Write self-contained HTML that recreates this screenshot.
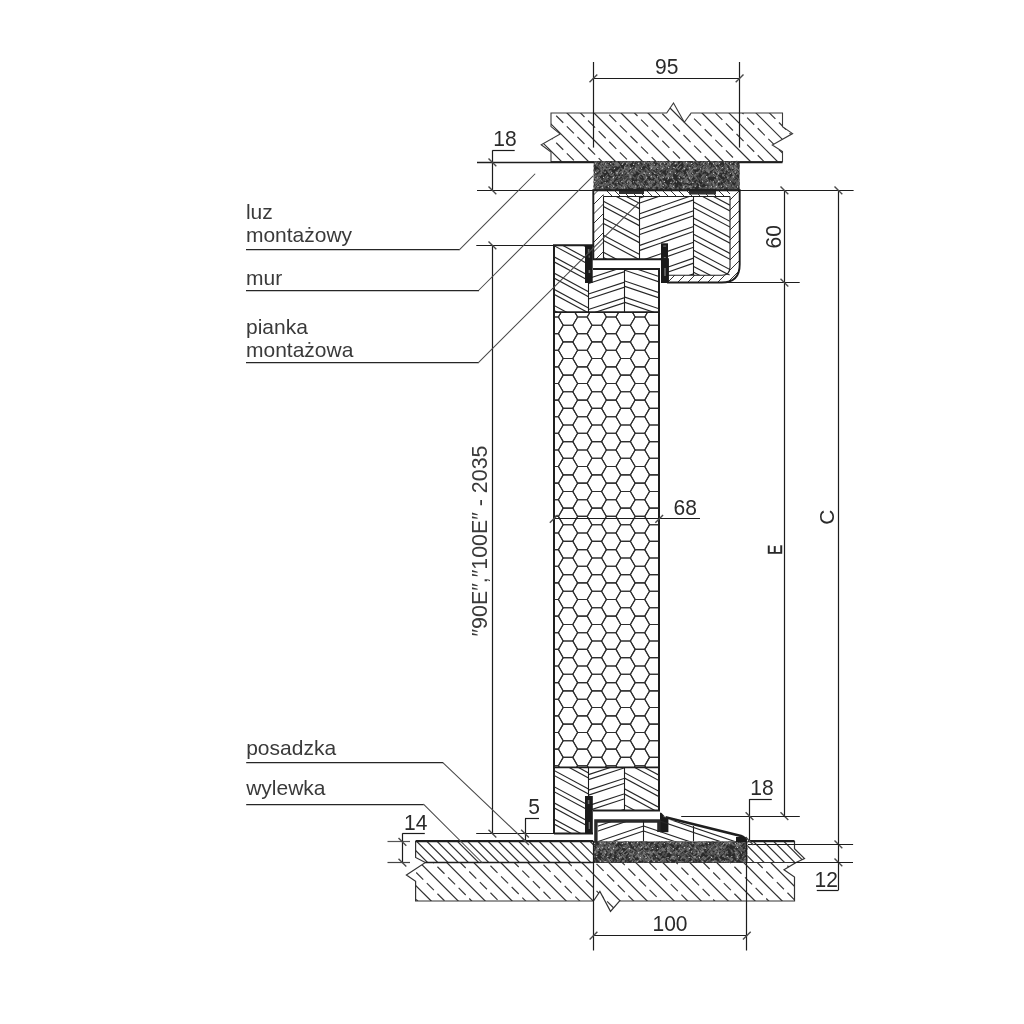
<!DOCTYPE html>
<html><head><meta charset="utf-8"><style>html,body{margin:0;padding:0;background:#fff;width:1024px;height:1024px;overflow:hidden;font-family:"Liberation Sans",sans-serif}</style></head><body><svg width="1024" height="1024" viewBox="0 0 1024 1024" style="display:block;font-family:'Liberation Sans',sans-serif;will-change:transform"><defs><clipPath id="c1"><polygon points="551,113 666.7,113 673.5,103 684.3,122.3 691.1,113 782.5,113 782.5,126.6 792.6,133.6 772.3,145 782.5,151.5 782.5,161.7 551,161.7 551,152 541.2,144.7 560.3,134 551,126.6"/></clipPath><clipPath id="c2"><polygon points="593.5,161.5 739.7,161.5 739.7,190.3 593.5,190.3"/></clipPath><clipPath id="c3"><polygon points="593.3,190.3 603.4,190.3 603.4,259.3 593.3,259.3"/></clipPath><clipPath id="c4"><polygon points="603.4,190.3 730,190.3 730,196.4 603.4,196.4"/></clipPath><clipPath id="c5"><polygon points="730,190.3 739.7,190.3 739.7,282.5 730,282.5"/></clipPath><clipPath id="c6"><polygon points="668,275.2 730,275.2 730,282.5 668,282.5"/></clipPath><clipPath id="c7"><polygon points="603.4,196.4 639.8,196.4 639.8,259.3 603.4,259.3"/></clipPath><clipPath id="c8"><polygon points="639.8,196.4 661,196.4 661,259.3 639.8,259.3"/></clipPath><clipPath id="c9"><polygon points="661,196.4 693.6,196.4 693.6,275.2 661,275.2"/></clipPath><clipPath id="c10"><polygon points="693.6,196.4 730,196.4 730,275.2 693.6,275.2"/></clipPath><clipPath id="c11"><polygon points="554,245.3 588.5,245.3 588.5,312.1 554,312.1"/></clipPath><clipPath id="c12"><polygon points="588.5,269 624,269 624,312.1 588.5,312.1"/></clipPath><clipPath id="c13"><polygon points="624,269 659,269 659,312.1 624,312.1"/></clipPath><clipPath id="c14"><polygon points="554,312.1 659,312.1 659,767.3 554,767.3"/></clipPath><clipPath id="c15"><polygon points="554,767.3 588.5,767.3 588.5,833.4 554,833.4"/></clipPath><clipPath id="c16"><polygon points="588.5,767.3 624,767.3 624,810.6 588.5,810.6"/></clipPath><clipPath id="c17"><polygon points="624,767.3 659,767.3 659,810.6 624,810.6"/></clipPath><clipPath id="c18"><polygon points="415.6,841.1 593.3,841.1 593.3,862.5 425.3,862.5 415.6,857.5"/></clipPath><clipPath id="c19"><polygon points="747.4,841.1 794.5,841.1 794.5,848.7 804.5,858.6 796,862.5 747.4,862.5"/></clipPath><clipPath id="c20"><polygon points="425.3,862.5 796,862.5 784,869.8 794.5,877 794.5,901 619.5,901 610.5,911.4 599.9,891.5 593.5,901 415.6,901 415.6,881.3 406.4,875"/></clipPath><clipPath id="c21"><polygon points="593.3,841.3 747.4,841.3 747.4,862.3 593.3,862.3"/></clipPath><clipPath id="c22"><polygon points="597.5,820.4 643.6,820.4 643.6,841.3 597.5,841.3"/></clipPath><clipPath id="c23"><polygon points="643.6,820.4 745,820.4 745,841.3 643.6,841.3"/></clipPath></defs><rect width="1024" height="1024" fill="#fff"/><g clip-path="url(#c1)" stroke="#2e2e2e" stroke-width="1.2"><line x1="535" y1="-189" x2="800" y2="76"/><line x1="535" y1="-162" x2="800" y2="103"/><line x1="535" y1="-135" x2="800" y2="130"/><line x1="535" y1="-108" x2="800" y2="157"/><line x1="535" y1="-81" x2="800" y2="184"/><line x1="535" y1="-54" x2="800" y2="211"/><line x1="535" y1="-27" x2="800" y2="238"/><line x1="535" y1="0" x2="800" y2="265"/><line x1="535" y1="27" x2="800" y2="292"/><line x1="535" y1="54" x2="800" y2="319"/><line x1="535" y1="81" x2="800" y2="346"/><line x1="535" y1="108" x2="800" y2="373"/><line x1="535" y1="135" x2="800" y2="400"/><line x1="535" y1="162" x2="800" y2="427"/><line x1="535" y1="189" x2="800" y2="454"/></g><g clip-path="url(#c1)" stroke="#3a3a3a" stroke-width="1.2" stroke-dasharray="10 5"><line x1="535" y1="-202.5" x2="800" y2="62.5"/><line x1="535" y1="-175.5" x2="800" y2="89.5"/><line x1="535" y1="-148.5" x2="800" y2="116.5"/><line x1="535" y1="-121.5" x2="800" y2="143.5"/><line x1="535" y1="-94.5" x2="800" y2="170.5"/><line x1="535" y1="-67.5" x2="800" y2="197.5"/><line x1="535" y1="-40.5" x2="800" y2="224.5"/><line x1="535" y1="-13.5" x2="800" y2="251.5"/><line x1="535" y1="13.5" x2="800" y2="278.5"/><line x1="535" y1="40.5" x2="800" y2="305.5"/><line x1="535" y1="67.5" x2="800" y2="332.5"/><line x1="535" y1="94.5" x2="800" y2="359.5"/><line x1="535" y1="121.5" x2="800" y2="386.5"/><line x1="535" y1="148.5" x2="800" y2="413.5"/><line x1="535" y1="175.5" x2="800" y2="440.5"/><line x1="535" y1="202.5" x2="800" y2="467.5"/></g><polygon points="551,113 666.7,113 673.5,103 684.3,122.3 691.1,113 782.5,113 782.5,126.6 792.6,133.6 772.3,145 782.5,151.5 782.5,161.7 551,161.7 551,152 541.2,144.7 560.3,134 551,126.6" fill="none" stroke="#3a3a3a" stroke-width="1.1" /><line x1="477" y1="162.5" x2="551" y2="162.5" stroke="#1e1e1e" stroke-width="1.3" /><line x1="551" y1="162.3" x2="782.5" y2="162.3" stroke="#1e1e1e" stroke-width="2.0" /><g clip-path="url(#c2)"><rect x="593.5" y="161.5" width="146.2" height="28.8" fill="#2a2a2a"/><g stroke-width="1.1" stroke-linecap="round"><line x1="639.18" y1="163.49" x2="641.1" y2="165.41" stroke="#5a5a5a"/><line x1="645.52" y1="160.5" x2="647.33" y2="162.31" stroke="#5a5a5a"/><line x1="655.9" y1="162.53" x2="657.37" y2="161.05" stroke="#5a5a5a"/><line x1="714.9" y1="162.77" x2="716.48" y2="164.35" stroke="#7a7a7a"/><line x1="598.03" y1="165.83" x2="599.87" y2="167.67" stroke="#4c4c4c"/><line x1="653.53" y1="176.31" x2="655.38" y2="178.16" stroke="#5a5a5a"/><line x1="678.01" y1="179.61" x2="679.71" y2="181.31" stroke="#5a5a5a"/><line x1="683.56" y1="176.7" x2="685.39" y2="174.87" stroke="#7a7a7a"/><line x1="678.63" y1="173.54" x2="680.27" y2="175.18" stroke="#6a6a6a"/><line x1="602.9" y1="170.25" x2="604.69" y2="168.45" stroke="#7a7a7a"/><line x1="634" y1="192.4" x2="635.5" y2="190.9" stroke="#6a6a6a"/><line x1="704.33" y1="163.59" x2="706.12" y2="165.38" stroke="#5a5a5a"/><line x1="705.29" y1="179.35" x2="707.39" y2="177.25" stroke="#4c4c4c"/><line x1="695" y1="179.93" x2="696.87" y2="178.06" stroke="#5a5a5a"/><line x1="716.77" y1="189.6" x2="718.55" y2="191.38" stroke="#5a5a5a"/><line x1="700.39" y1="170.59" x2="702.25" y2="168.72" stroke="#4c4c4c"/><line x1="698.3" y1="189.43" x2="699.98" y2="187.76" stroke="#4c4c4c"/><line x1="616.02" y1="164.06" x2="617.46" y2="162.62" stroke="#6a6a6a"/><line x1="701.34" y1="173.62" x2="703.47" y2="171.48" stroke="#5a5a5a"/><line x1="615.68" y1="171.86" x2="617.3" y2="173.49" stroke="#7a7a7a"/><line x1="720.4" y1="169.5" x2="722.14" y2="167.77" stroke="#7a7a7a"/><line x1="734.58" y1="163.68" x2="736.12" y2="165.22" stroke="#6a6a6a"/><line x1="592.54" y1="187.53" x2="594.08" y2="185.99" stroke="#5a5a5a"/><line x1="612.44" y1="177.98" x2="614.32" y2="176.09" stroke="#6a6a6a"/><line x1="694.27" y1="175.46" x2="696.16" y2="177.36" stroke="#7a7a7a"/><line x1="725.56" y1="186.13" x2="727.66" y2="184.03" stroke="#7a7a7a"/><line x1="650.47" y1="161.94" x2="652.38" y2="163.85" stroke="#6a6a6a"/><line x1="600.85" y1="167.11" x2="602.38" y2="165.58" stroke="#5a5a5a"/><line x1="605.96" y1="179.01" x2="607.79" y2="177.18" stroke="#5a5a5a"/><line x1="601.21" y1="167.17" x2="602.91" y2="165.47" stroke="#4c4c4c"/><line x1="681.22" y1="175.8" x2="682.71" y2="174.31" stroke="#7a7a7a"/><line x1="662.9" y1="170.49" x2="664.41" y2="168.97" stroke="#4c4c4c"/><line x1="662.48" y1="181.29" x2="664.3" y2="183.11" stroke="#4c4c4c"/><line x1="612.81" y1="178.03" x2="614.23" y2="176.61" stroke="#5a5a5a"/><line x1="695.22" y1="167.22" x2="696.92" y2="168.91" stroke="#4c4c4c"/><line x1="706.43" y1="177.98" x2="708.46" y2="175.96" stroke="#6a6a6a"/><line x1="682.6" y1="184.36" x2="684.61" y2="186.36" stroke="#6a6a6a"/><line x1="713.62" y1="184.56" x2="715.2" y2="182.98" stroke="#4c4c4c"/><line x1="700.28" y1="192.98" x2="702.31" y2="190.94" stroke="#4c4c4c"/><line x1="619.75" y1="180.19" x2="621.42" y2="178.51" stroke="#4c4c4c"/><line x1="602.71" y1="163.74" x2="604.48" y2="161.96" stroke="#6a6a6a"/><line x1="663.05" y1="190.87" x2="664.94" y2="192.76" stroke="#7a7a7a"/><line x1="727.1" y1="169.83" x2="729.02" y2="171.74" stroke="#7a7a7a"/><line x1="708.11" y1="183.21" x2="709.89" y2="185" stroke="#7a7a7a"/><line x1="709.01" y1="171.43" x2="711.05" y2="169.39" stroke="#7a7a7a"/><line x1="650.8" y1="189.57" x2="652.78" y2="191.54" stroke="#6a6a6a"/><line x1="594.75" y1="177.99" x2="596.52" y2="179.76" stroke="#7a7a7a"/><line x1="689.3" y1="170.07" x2="691.14" y2="171.91" stroke="#5a5a5a"/><line x1="592.68" y1="190.39" x2="594.6" y2="192.31" stroke="#7a7a7a"/><line x1="738.63" y1="164.84" x2="740.73" y2="166.94" stroke="#4c4c4c"/><line x1="622.45" y1="176.94" x2="624.46" y2="174.93" stroke="#4c4c4c"/><line x1="672.54" y1="187.59" x2="673.99" y2="186.14" stroke="#7a7a7a"/><line x1="690.1" y1="185.33" x2="691.91" y2="187.14" stroke="#6a6a6a"/><line x1="669.25" y1="159.24" x2="671.01" y2="160.99" stroke="#5a5a5a"/><line x1="707.3" y1="163.66" x2="708.82" y2="165.17" stroke="#5a5a5a"/><line x1="639.54" y1="175.58" x2="641.38" y2="177.42" stroke="#5a5a5a"/><line x1="627.81" y1="169.59" x2="629.83" y2="167.57" stroke="#5a5a5a"/><line x1="704.77" y1="188.55" x2="706.53" y2="190.31" stroke="#4c4c4c"/><line x1="658.55" y1="176.1" x2="660.33" y2="177.88" stroke="#4c4c4c"/><line x1="729.32" y1="189.56" x2="730.88" y2="188" stroke="#6a6a6a"/><line x1="653.25" y1="171.54" x2="654.91" y2="173.2" stroke="#7a7a7a"/><line x1="601.47" y1="180.45" x2="603.5" y2="182.47" stroke="#4c4c4c"/><line x1="611.89" y1="187.37" x2="614.06" y2="189.54" stroke="#5a5a5a"/><line x1="650.22" y1="174.39" x2="652.41" y2="176.58" stroke="#6a6a6a"/><line x1="696.73" y1="192.97" x2="698.45" y2="191.24" stroke="#6a6a6a"/><line x1="644.22" y1="163.37" x2="645.91" y2="161.68" stroke="#7a7a7a"/><line x1="656.82" y1="160.93" x2="658.49" y2="159.26" stroke="#5a5a5a"/><line x1="607.66" y1="188.84" x2="609.24" y2="190.42" stroke="#5a5a5a"/><line x1="630.38" y1="161.81" x2="632.4" y2="159.79" stroke="#6a6a6a"/><line x1="713.66" y1="188.34" x2="715.6" y2="186.4" stroke="#7a7a7a"/><line x1="613.01" y1="190.58" x2="614.86" y2="188.72" stroke="#5a5a5a"/><line x1="632.64" y1="184.95" x2="634.19" y2="186.5" stroke="#4c4c4c"/><line x1="731.42" y1="179.29" x2="733.46" y2="181.33" stroke="#6a6a6a"/><line x1="600.63" y1="188.68" x2="602.39" y2="186.92" stroke="#7a7a7a"/><line x1="729.93" y1="167.53" x2="731.44" y2="169.04" stroke="#5a5a5a"/><line x1="736.3" y1="168.86" x2="737.85" y2="167.32" stroke="#4c4c4c"/><line x1="670.39" y1="165.37" x2="672.15" y2="167.13" stroke="#4c4c4c"/><line x1="642.82" y1="159.3" x2="644.42" y2="160.9" stroke="#5a5a5a"/><line x1="700.83" y1="178.35" x2="702.38" y2="176.8" stroke="#6a6a6a"/><line x1="730.86" y1="164.01" x2="732.91" y2="161.96" stroke="#7a7a7a"/><line x1="672.41" y1="189.74" x2="674.58" y2="187.56" stroke="#6a6a6a"/><line x1="738.03" y1="169.71" x2="740.1" y2="171.77" stroke="#7a7a7a"/><line x1="739.08" y1="190.67" x2="741.15" y2="192.74" stroke="#5a5a5a"/><line x1="684.57" y1="187.49" x2="686.31" y2="189.23" stroke="#5a5a5a"/><line x1="690.51" y1="172.9" x2="692.32" y2="171.09" stroke="#6a6a6a"/><line x1="694.77" y1="161.76" x2="696.32" y2="160.21" stroke="#7a7a7a"/><line x1="591.21" y1="172.28" x2="592.88" y2="170.61" stroke="#6a6a6a"/><line x1="595.89" y1="187.66" x2="597.46" y2="189.23" stroke="#5a5a5a"/><line x1="641.06" y1="161.44" x2="642.68" y2="163.06" stroke="#6a6a6a"/><line x1="666.51" y1="158.86" x2="668.12" y2="160.47" stroke="#6a6a6a"/><line x1="650.8" y1="161.58" x2="652.22" y2="160.16" stroke="#6a6a6a"/><line x1="603.15" y1="189.87" x2="605.23" y2="191.95" stroke="#7a7a7a"/><line x1="705.4" y1="184.04" x2="707.2" y2="182.24" stroke="#6a6a6a"/><line x1="597.02" y1="187.95" x2="599.13" y2="185.84" stroke="#6a6a6a"/><line x1="727.24" y1="183.27" x2="729.09" y2="185.12" stroke="#6a6a6a"/><line x1="603.33" y1="159.92" x2="605.24" y2="161.83" stroke="#7a7a7a"/><line x1="716.09" y1="176.87" x2="717.99" y2="178.77" stroke="#7a7a7a"/><line x1="630.39" y1="173.76" x2="631.85" y2="175.22" stroke="#5a5a5a"/><line x1="702.48" y1="176.07" x2="704.53" y2="174.02" stroke="#6a6a6a"/><line x1="700.05" y1="167.23" x2="702.04" y2="165.24" stroke="#7a7a7a"/><line x1="717.43" y1="163.08" x2="719.56" y2="160.95" stroke="#5a5a5a"/><line x1="683.44" y1="179.85" x2="684.9" y2="181.31" stroke="#4c4c4c"/><line x1="628.82" y1="183.06" x2="630.46" y2="184.7" stroke="#5a5a5a"/><line x1="662.87" y1="174.35" x2="665.05" y2="176.52" stroke="#6a6a6a"/><line x1="692.08" y1="169.95" x2="693.9" y2="168.13" stroke="#7a7a7a"/><line x1="660.49" y1="162.33" x2="662.6" y2="164.44" stroke="#4c4c4c"/><line x1="737.71" y1="190.92" x2="739.12" y2="189.5" stroke="#5a5a5a"/><line x1="713.77" y1="192.13" x2="715.53" y2="190.37" stroke="#7a7a7a"/><line x1="622.23" y1="189.73" x2="623.8" y2="191.3" stroke="#6a6a6a"/><line x1="702.93" y1="168.93" x2="704.62" y2="167.24" stroke="#5a5a5a"/><line x1="696.08" y1="168.15" x2="698.2" y2="166.03" stroke="#7a7a7a"/><line x1="594.33" y1="160.51" x2="596.13" y2="158.72" stroke="#7a7a7a"/><line x1="636.02" y1="164.95" x2="637.69" y2="163.28" stroke="#5a5a5a"/><line x1="716.7" y1="160.56" x2="718.7" y2="158.56" stroke="#5a5a5a"/><line x1="731.97" y1="166.62" x2="733.37" y2="165.22" stroke="#4c4c4c"/><line x1="646.31" y1="171.29" x2="648.51" y2="173.49" stroke="#4c4c4c"/><line x1="729.46" y1="185.33" x2="731.54" y2="183.24" stroke="#5a5a5a"/><line x1="598.3" y1="180.26" x2="600.21" y2="182.17" stroke="#6a6a6a"/><line x1="736.52" y1="174.63" x2="738.18" y2="172.98" stroke="#7a7a7a"/><line x1="723.36" y1="185.18" x2="725.27" y2="187.08" stroke="#5a5a5a"/><line x1="598.05" y1="182.64" x2="599.81" y2="184.4" stroke="#4c4c4c"/><line x1="663.51" y1="188.49" x2="665.35" y2="190.33" stroke="#7a7a7a"/><line x1="653.01" y1="169.54" x2="654.62" y2="167.94" stroke="#7a7a7a"/><line x1="689.11" y1="170.29" x2="690.95" y2="168.44" stroke="#5a5a5a"/><line x1="615.85" y1="165.59" x2="617.42" y2="164.02" stroke="#6a6a6a"/><line x1="658.53" y1="171.42" x2="660.54" y2="169.41" stroke="#6a6a6a"/><line x1="673.01" y1="166.74" x2="674.55" y2="168.28" stroke="#4c4c4c"/><line x1="626.49" y1="167.05" x2="628.34" y2="168.9" stroke="#7a7a7a"/><line x1="648.22" y1="184.75" x2="649.79" y2="183.18" stroke="#4c4c4c"/><line x1="703.54" y1="176.77" x2="705.4" y2="174.91" stroke="#6a6a6a"/><line x1="693.63" y1="175.84" x2="695.67" y2="177.87" stroke="#5a5a5a"/><line x1="631.35" y1="168.51" x2="633.07" y2="166.79" stroke="#7a7a7a"/><line x1="733.73" y1="186.29" x2="735.83" y2="188.39" stroke="#6a6a6a"/><line x1="595.28" y1="183.83" x2="597.4" y2="181.71" stroke="#7a7a7a"/><line x1="590.46" y1="173.41" x2="592.6" y2="171.27" stroke="#7a7a7a"/><line x1="628.06" y1="162.31" x2="629.58" y2="163.84" stroke="#7a7a7a"/><line x1="603.57" y1="184.28" x2="604.97" y2="185.68" stroke="#6a6a6a"/><line x1="676.04" y1="159.75" x2="678.01" y2="161.72" stroke="#4c4c4c"/><line x1="669.84" y1="172.84" x2="671.85" y2="174.85" stroke="#5a5a5a"/><line x1="635.84" y1="191.22" x2="637.39" y2="189.67" stroke="#6a6a6a"/><line x1="709.32" y1="160.45" x2="711.15" y2="158.62" stroke="#4c4c4c"/><line x1="734.48" y1="181.7" x2="736.59" y2="179.59" stroke="#6a6a6a"/><line x1="672.8" y1="161.33" x2="674.52" y2="159.6" stroke="#5a5a5a"/><line x1="593.8" y1="176.81" x2="595.74" y2="174.87" stroke="#5a5a5a"/><line x1="629.07" y1="180.32" x2="631.21" y2="182.46" stroke="#7a7a7a"/><line x1="595.75" y1="171.46" x2="597.49" y2="169.72" stroke="#6a6a6a"/><line x1="591.48" y1="168.04" x2="593.55" y2="170.12" stroke="#6a6a6a"/><line x1="664.95" y1="165.07" x2="666.96" y2="167.08" stroke="#6a6a6a"/><line x1="660.3" y1="167.14" x2="662.42" y2="169.25" stroke="#7a7a7a"/><line x1="682.24" y1="188.01" x2="684.03" y2="189.8" stroke="#6a6a6a"/><line x1="729.26" y1="160.57" x2="730.68" y2="161.99" stroke="#7a7a7a"/><line x1="598.43" y1="162.33" x2="600.14" y2="160.62" stroke="#5a5a5a"/><line x1="740.5" y1="189.22" x2="742.16" y2="190.89" stroke="#7a7a7a"/><line x1="595.44" y1="182.14" x2="597.14" y2="180.44" stroke="#4c4c4c"/><line x1="657.22" y1="162.34" x2="658.69" y2="163.81" stroke="#4c4c4c"/><line x1="653.69" y1="187.61" x2="655.54" y2="189.46" stroke="#7a7a7a"/><line x1="644.04" y1="187.48" x2="646.09" y2="185.42" stroke="#5a5a5a"/><line x1="598.05" y1="175.88" x2="599.75" y2="174.18" stroke="#6a6a6a"/><line x1="639.17" y1="184.57" x2="640.95" y2="182.79" stroke="#6a6a6a"/><line x1="712.72" y1="183.93" x2="714.15" y2="185.36" stroke="#7a7a7a"/><line x1="600.1" y1="188.88" x2="601.7" y2="190.48" stroke="#4c4c4c"/><line x1="644.94" y1="169.41" x2="647.1" y2="171.57" stroke="#4c4c4c"/><line x1="702.55" y1="183.19" x2="704.68" y2="181.05" stroke="#5a5a5a"/><line x1="698.86" y1="178.01" x2="700.9" y2="180.06" stroke="#5a5a5a"/><line x1="714.58" y1="164" x2="716.55" y2="162.03" stroke="#7a7a7a"/><line x1="709.1" y1="188.44" x2="711.15" y2="190.49" stroke="#7a7a7a"/><line x1="617.98" y1="184.83" x2="619.97" y2="186.82" stroke="#6a6a6a"/><line x1="639.89" y1="169.14" x2="641.58" y2="170.83" stroke="#6a6a6a"/><line x1="649.47" y1="163.88" x2="651.19" y2="165.61" stroke="#7a7a7a"/><line x1="673.41" y1="169.09" x2="675.59" y2="171.28" stroke="#5a5a5a"/><line x1="630.55" y1="163" x2="632.03" y2="161.52" stroke="#7a7a7a"/><line x1="616.63" y1="162.98" x2="618.4" y2="164.74" stroke="#5a5a5a"/><line x1="707.81" y1="169.95" x2="709.43" y2="168.33" stroke="#4c4c4c"/><line x1="628.78" y1="167.16" x2="630.54" y2="168.91" stroke="#6a6a6a"/><line x1="625.81" y1="167.67" x2="627.94" y2="169.79" stroke="#4c4c4c"/><line x1="600.44" y1="166.96" x2="602.03" y2="168.55" stroke="#5a5a5a"/><line x1="688.89" y1="192.74" x2="690.37" y2="191.26" stroke="#6a6a6a"/><line x1="717.04" y1="190.21" x2="718.47" y2="188.78" stroke="#6a6a6a"/><line x1="608.32" y1="164.63" x2="610.5" y2="166.81" stroke="#5a5a5a"/><line x1="646.53" y1="188.79" x2="648.29" y2="187.03" stroke="#5a5a5a"/><line x1="606.44" y1="178.11" x2="608.34" y2="180" stroke="#5a5a5a"/><line x1="646.1" y1="164.92" x2="647.66" y2="163.36" stroke="#5a5a5a"/><line x1="680.75" y1="180.09" x2="682.31" y2="181.66" stroke="#4c4c4c"/><line x1="651.98" y1="170.75" x2="653.88" y2="172.64" stroke="#6a6a6a"/><line x1="595.33" y1="176.65" x2="597.12" y2="174.86" stroke="#5a5a5a"/><line x1="710.27" y1="180.52" x2="711.8" y2="182.04" stroke="#6a6a6a"/><line x1="650.15" y1="169.49" x2="652.34" y2="167.3" stroke="#7a7a7a"/><line x1="733.74" y1="170.67" x2="735.6" y2="168.82" stroke="#7a7a7a"/><line x1="652.95" y1="188.95" x2="655.15" y2="186.75" stroke="#6a6a6a"/><line x1="649.11" y1="173.86" x2="651.26" y2="171.71" stroke="#6a6a6a"/><line x1="654.29" y1="187.27" x2="656.01" y2="185.55" stroke="#7a7a7a"/><line x1="706.89" y1="163.04" x2="708.33" y2="164.48" stroke="#7a7a7a"/><line x1="604.02" y1="179.06" x2="605.72" y2="180.76" stroke="#6a6a6a"/><line x1="642.99" y1="164.04" x2="644.53" y2="165.58" stroke="#5a5a5a"/><line x1="648.12" y1="183.2" x2="650.15" y2="185.23" stroke="#4c4c4c"/><line x1="609.43" y1="191.52" x2="611.61" y2="189.34" stroke="#4c4c4c"/><line x1="598.66" y1="189.02" x2="600.37" y2="190.73" stroke="#6a6a6a"/><line x1="684" y1="180.44" x2="685.56" y2="178.88" stroke="#6a6a6a"/><line x1="675.35" y1="159.79" x2="677.5" y2="161.94" stroke="#7a7a7a"/><line x1="644.36" y1="163.31" x2="646.54" y2="165.49" stroke="#5a5a5a"/><line x1="723.29" y1="188.1" x2="725.23" y2="186.16" stroke="#5a5a5a"/><line x1="649.01" y1="175.49" x2="651.09" y2="173.41" stroke="#7a7a7a"/><line x1="636.94" y1="168.53" x2="638.65" y2="166.82" stroke="#7a7a7a"/><line x1="666.44" y1="166.06" x2="667.84" y2="164.66" stroke="#7a7a7a"/><line x1="625.82" y1="185.56" x2="627.85" y2="183.53" stroke="#6a6a6a"/><line x1="712.51" y1="173.36" x2="713.97" y2="171.9" stroke="#7a7a7a"/><line x1="645.47" y1="184.91" x2="647.27" y2="186.72" stroke="#5a5a5a"/><line x1="686.1" y1="161.2" x2="688.09" y2="163.19" stroke="#5a5a5a"/><line x1="703.5" y1="187.89" x2="705.42" y2="189.81" stroke="#5a5a5a"/><line x1="719.24" y1="191.18" x2="721.22" y2="193.17" stroke="#6a6a6a"/><line x1="610.45" y1="187.74" x2="612.08" y2="189.37" stroke="#6a6a6a"/><line x1="600.34" y1="170.01" x2="602.34" y2="172.01" stroke="#4c4c4c"/><line x1="725.13" y1="167.49" x2="727.19" y2="169.55" stroke="#4c4c4c"/><line x1="666.15" y1="190.46" x2="667.72" y2="188.89" stroke="#6a6a6a"/><line x1="638.65" y1="159.94" x2="640.2" y2="161.48" stroke="#4c4c4c"/><line x1="692.82" y1="189.64" x2="694.36" y2="188.1" stroke="#5a5a5a"/><line x1="705.85" y1="162.14" x2="707.94" y2="160.05" stroke="#5a5a5a"/><line x1="628.31" y1="178.11" x2="630.4" y2="176.03" stroke="#4c4c4c"/><line x1="647.18" y1="172.36" x2="648.69" y2="170.84" stroke="#5a5a5a"/><line x1="656.93" y1="164.3" x2="658.93" y2="166.3" stroke="#4c4c4c"/><line x1="713.68" y1="168.78" x2="715.59" y2="166.86" stroke="#5a5a5a"/><line x1="702.9" y1="167.59" x2="704.53" y2="165.95" stroke="#7a7a7a"/><line x1="667.75" y1="188.12" x2="669.26" y2="189.63" stroke="#5a5a5a"/><line x1="594.01" y1="158.74" x2="595.69" y2="160.43" stroke="#4c4c4c"/><line x1="670.9" y1="172.23" x2="672.54" y2="173.87" stroke="#6a6a6a"/><line x1="645.74" y1="185.91" x2="647.27" y2="187.44" stroke="#6a6a6a"/><line x1="697.04" y1="173.56" x2="698.49" y2="175.01" stroke="#4c4c4c"/><line x1="651.17" y1="168.87" x2="652.58" y2="167.46" stroke="#7a7a7a"/><line x1="681.01" y1="175.58" x2="682.8" y2="177.37" stroke="#5a5a5a"/><line x1="597.25" y1="176.07" x2="598.97" y2="177.8" stroke="#6a6a6a"/><line x1="599.56" y1="184.34" x2="600.97" y2="185.75" stroke="#6a6a6a"/><line x1="652.6" y1="177.46" x2="654.52" y2="175.54" stroke="#6a6a6a"/><line x1="666.94" y1="162.54" x2="668.84" y2="160.64" stroke="#5a5a5a"/><line x1="646.78" y1="172.76" x2="648.91" y2="174.89" stroke="#7a7a7a"/><line x1="617.04" y1="191.38" x2="618.65" y2="192.99" stroke="#5a5a5a"/><line x1="640.92" y1="185.07" x2="642.87" y2="183.11" stroke="#5a5a5a"/><line x1="630.58" y1="178.54" x2="632.33" y2="176.79" stroke="#4c4c4c"/><line x1="687.14" y1="190.37" x2="688.72" y2="191.94" stroke="#6a6a6a"/><line x1="629.61" y1="166.25" x2="631.6" y2="168.24" stroke="#4c4c4c"/><line x1="619.39" y1="173.19" x2="621.27" y2="171.31" stroke="#7a7a7a"/><line x1="661.71" y1="176.2" x2="663.12" y2="177.61" stroke="#7a7a7a"/><line x1="733.99" y1="166.12" x2="736.1" y2="168.22" stroke="#7a7a7a"/><line x1="683.95" y1="160.99" x2="686.08" y2="163.12" stroke="#5a5a5a"/><line x1="594.47" y1="164.07" x2="596.61" y2="161.93" stroke="#6a6a6a"/><line x1="696" y1="159.76" x2="697.51" y2="161.27" stroke="#5a5a5a"/><line x1="701.23" y1="162.59" x2="703.1" y2="160.72" stroke="#6a6a6a"/><line x1="713.24" y1="185.33" x2="715.35" y2="187.44" stroke="#7a7a7a"/><line x1="606.84" y1="165.5" x2="608.33" y2="166.99" stroke="#5a5a5a"/><line x1="714.61" y1="179.4" x2="716.24" y2="181.03" stroke="#6a6a6a"/><line x1="605.42" y1="185.12" x2="606.98" y2="183.56" stroke="#4c4c4c"/><line x1="654.35" y1="160.99" x2="655.95" y2="159.38" stroke="#5a5a5a"/><line x1="698.18" y1="172.4" x2="699.84" y2="170.74" stroke="#4c4c4c"/><line x1="683.5" y1="161.38" x2="685.23" y2="159.65" stroke="#5a5a5a"/><line x1="642.67" y1="181.7" x2="644.5" y2="183.53" stroke="#5a5a5a"/><line x1="676.92" y1="168.04" x2="678.67" y2="169.79" stroke="#4c4c4c"/><line x1="705.28" y1="192.28" x2="706.68" y2="190.87" stroke="#5a5a5a"/><line x1="664.55" y1="186.41" x2="666.09" y2="184.86" stroke="#4c4c4c"/><line x1="734.34" y1="175.47" x2="736.2" y2="177.33" stroke="#4c4c4c"/><line x1="713.16" y1="189.48" x2="714.74" y2="191.07" stroke="#5a5a5a"/><line x1="731.6" y1="183.76" x2="733.39" y2="185.55" stroke="#4c4c4c"/><line x1="644.06" y1="171.8" x2="645.77" y2="173.52" stroke="#7a7a7a"/><line x1="724.16" y1="161.11" x2="725.73" y2="159.54" stroke="#7a7a7a"/><line x1="726.01" y1="175.09" x2="727.71" y2="176.79" stroke="#7a7a7a"/><line x1="609.58" y1="178.01" x2="611.53" y2="179.96" stroke="#4c4c4c"/><line x1="677.81" y1="177.66" x2="679.9" y2="175.57" stroke="#4c4c4c"/><line x1="615.96" y1="172.88" x2="617.98" y2="174.9" stroke="#6a6a6a"/><line x1="640.7" y1="179.6" x2="642.65" y2="181.56" stroke="#4c4c4c"/><line x1="635.75" y1="181.53" x2="637.82" y2="183.6" stroke="#6a6a6a"/><line x1="736.97" y1="184.16" x2="738.85" y2="182.28" stroke="#6a6a6a"/><line x1="626.18" y1="190.05" x2="627.78" y2="191.65" stroke="#6a6a6a"/><line x1="735.2" y1="161.98" x2="736.9" y2="163.69" stroke="#4c4c4c"/><line x1="700.86" y1="172.99" x2="702.42" y2="174.54" stroke="#4c4c4c"/><line x1="621.79" y1="172.95" x2="623.22" y2="171.52" stroke="#7a7a7a"/><line x1="694.7" y1="176.87" x2="696.61" y2="174.96" stroke="#5a5a5a"/><line x1="611.94" y1="178.44" x2="613.66" y2="180.16" stroke="#7a7a7a"/><line x1="695.86" y1="177.81" x2="697.77" y2="179.73" stroke="#6a6a6a"/><line x1="692.69" y1="181.42" x2="694.46" y2="179.66" stroke="#4c4c4c"/><line x1="685" y1="163.58" x2="686.74" y2="161.84" stroke="#6a6a6a"/><line x1="628.18" y1="174.28" x2="629.94" y2="172.51" stroke="#6a6a6a"/><line x1="725.15" y1="170.96" x2="726.56" y2="169.56" stroke="#5a5a5a"/><line x1="596.47" y1="176.56" x2="597.99" y2="178.09" stroke="#4c4c4c"/><line x1="605.77" y1="179.26" x2="607.6" y2="177.43" stroke="#5a5a5a"/><line x1="686.61" y1="187.6" x2="688.43" y2="185.78" stroke="#7a7a7a"/><line x1="622.2" y1="181.09" x2="623.91" y2="182.8" stroke="#4c4c4c"/><line x1="686.41" y1="166.93" x2="688.12" y2="168.63" stroke="#5a5a5a"/><line x1="601.84" y1="190.48" x2="603.74" y2="188.57" stroke="#4c4c4c"/><line x1="607.05" y1="168.59" x2="608.77" y2="170.31" stroke="#7a7a7a"/><line x1="659.84" y1="163.82" x2="661.98" y2="165.97" stroke="#6a6a6a"/><line x1="661.18" y1="177.14" x2="662.76" y2="178.73" stroke="#4c4c4c"/><line x1="690.52" y1="187.77" x2="692.56" y2="185.73" stroke="#7a7a7a"/><line x1="740.16" y1="185.38" x2="742.08" y2="183.46" stroke="#4c4c4c"/><line x1="708.21" y1="168.04" x2="710.18" y2="166.08" stroke="#7a7a7a"/><line x1="692.44" y1="176.32" x2="694.48" y2="174.27" stroke="#4c4c4c"/><line x1="627.4" y1="170.29" x2="629.19" y2="168.51" stroke="#5a5a5a"/><line x1="689.45" y1="172.46" x2="691.59" y2="170.32" stroke="#5a5a5a"/><line x1="603.48" y1="177.19" x2="605.14" y2="178.85" stroke="#4c4c4c"/><line x1="685.9" y1="159.29" x2="687.31" y2="160.7" stroke="#4c4c4c"/><line x1="628.3" y1="162.07" x2="629.81" y2="163.59" stroke="#6a6a6a"/><line x1="707.34" y1="171.62" x2="708.86" y2="170.1" stroke="#6a6a6a"/><line x1="681.96" y1="180.98" x2="684.14" y2="183.16" stroke="#4c4c4c"/><line x1="620.23" y1="183.14" x2="622.06" y2="181.31" stroke="#5a5a5a"/><line x1="674.08" y1="167.38" x2="675.66" y2="168.97" stroke="#7a7a7a"/><line x1="664.67" y1="160.53" x2="666.45" y2="162.3" stroke="#7a7a7a"/><line x1="627.59" y1="163.96" x2="629.47" y2="165.84" stroke="#6a6a6a"/><line x1="716.86" y1="175.77" x2="718.71" y2="173.92" stroke="#7a7a7a"/><line x1="646.73" y1="172.15" x2="648.9" y2="174.32" stroke="#6a6a6a"/><line x1="686.47" y1="179.65" x2="687.89" y2="181.08" stroke="#4c4c4c"/><line x1="712.06" y1="161.69" x2="713.85" y2="163.48" stroke="#5a5a5a"/><line x1="622.8" y1="172.38" x2="624.3" y2="173.88" stroke="#4c4c4c"/><line x1="641.84" y1="184.11" x2="643.69" y2="185.96" stroke="#4c4c4c"/><line x1="655.94" y1="174.28" x2="657.79" y2="172.43" stroke="#4c4c4c"/><line x1="644.01" y1="176.53" x2="645.68" y2="174.86" stroke="#4c4c4c"/><line x1="736.93" y1="181.99" x2="738.96" y2="179.95" stroke="#6a6a6a"/><line x1="638.19" y1="168.38" x2="640.06" y2="170.25" stroke="#5a5a5a"/><line x1="650.55" y1="176.82" x2="652.27" y2="178.54" stroke="#7a7a7a"/><line x1="635.85" y1="160.48" x2="637.4" y2="158.93" stroke="#5a5a5a"/><line x1="709.07" y1="188.4" x2="710.96" y2="190.29" stroke="#5a5a5a"/><line x1="622.53" y1="180.49" x2="624.3" y2="182.26" stroke="#5a5a5a"/><line x1="690.31" y1="187.14" x2="692.04" y2="188.88" stroke="#5a5a5a"/><line x1="645.89" y1="187.5" x2="647.92" y2="185.47" stroke="#4c4c4c"/><line x1="618.55" y1="159.91" x2="619.96" y2="161.33" stroke="#7a7a7a"/><line x1="675.99" y1="161.54" x2="677.49" y2="160.04" stroke="#7a7a7a"/><line x1="657.71" y1="159.11" x2="659.41" y2="160.82" stroke="#7a7a7a"/><line x1="706.4" y1="178.23" x2="707.87" y2="176.77" stroke="#6a6a6a"/><line x1="725.17" y1="179.19" x2="726.92" y2="180.93" stroke="#5a5a5a"/><line x1="738.91" y1="186.87" x2="740.48" y2="188.45" stroke="#6a6a6a"/><line x1="661.52" y1="169.46" x2="663.37" y2="167.61" stroke="#6a6a6a"/><line x1="729.11" y1="170.5" x2="731.1" y2="172.5" stroke="#5a5a5a"/><line x1="634.63" y1="178.68" x2="636.43" y2="176.89" stroke="#5a5a5a"/><line x1="698.52" y1="159.17" x2="699.93" y2="160.58" stroke="#7a7a7a"/><line x1="637.46" y1="184.19" x2="638.99" y2="182.66" stroke="#5a5a5a"/><line x1="638.01" y1="191.61" x2="640" y2="189.63" stroke="#6a6a6a"/><line x1="612.42" y1="184.81" x2="614.11" y2="186.5" stroke="#7a7a7a"/><line x1="662.26" y1="185.9" x2="664.02" y2="184.14" stroke="#4c4c4c"/><line x1="634.33" y1="162.58" x2="636.51" y2="160.4" stroke="#5a5a5a"/><line x1="715.54" y1="180.04" x2="717.18" y2="178.39" stroke="#6a6a6a"/><line x1="647.14" y1="181.02" x2="649.02" y2="182.9" stroke="#7a7a7a"/><line x1="633.25" y1="160.36" x2="634.86" y2="158.75" stroke="#6a6a6a"/><line x1="678.56" y1="185.21" x2="680.67" y2="187.32" stroke="#4c4c4c"/><line x1="715.6" y1="185.08" x2="717.7" y2="187.17" stroke="#4c4c4c"/><line x1="737.08" y1="186.57" x2="738.92" y2="184.73" stroke="#4c4c4c"/><line x1="670.9" y1="178.11" x2="672.68" y2="176.32" stroke="#6a6a6a"/><line x1="708.72" y1="184.28" x2="710.9" y2="182.09" stroke="#5a5a5a"/><line x1="692.5" y1="175.55" x2="694.07" y2="173.98" stroke="#5a5a5a"/><line x1="709.67" y1="175.31" x2="711.14" y2="173.84" stroke="#5a5a5a"/><line x1="625.42" y1="179.57" x2="627.54" y2="177.45" stroke="#7a7a7a"/><line x1="666.74" y1="165.34" x2="668.31" y2="166.91" stroke="#6a6a6a"/><line x1="711.61" y1="169.94" x2="713.47" y2="168.07" stroke="#7a7a7a"/><line x1="707.8" y1="188.41" x2="709.4" y2="186.81" stroke="#4c4c4c"/><line x1="720.74" y1="170.81" x2="722.51" y2="172.58" stroke="#6a6a6a"/><line x1="638.12" y1="159.68" x2="639.74" y2="161.31" stroke="#5a5a5a"/><line x1="595.5" y1="193.03" x2="597.59" y2="190.94" stroke="#6a6a6a"/><line x1="629.92" y1="185.93" x2="631.66" y2="184.19" stroke="#6a6a6a"/><line x1="628.87" y1="159.96" x2="630.43" y2="161.52" stroke="#7a7a7a"/><line x1="603.14" y1="162.1" x2="604.99" y2="160.25" stroke="#7a7a7a"/><line x1="733.04" y1="190.07" x2="734.5" y2="188.62" stroke="#5a5a5a"/><line x1="696.77" y1="161.62" x2="698.43" y2="163.28" stroke="#5a5a5a"/><line x1="734.3" y1="182.32" x2="736.01" y2="180.61" stroke="#6a6a6a"/><line x1="646.22" y1="166.22" x2="648.2" y2="168.2" stroke="#5a5a5a"/><line x1="732.22" y1="189.65" x2="733.67" y2="191.09" stroke="#5a5a5a"/><line x1="629.24" y1="177.33" x2="631.23" y2="175.34" stroke="#5a5a5a"/><line x1="605.98" y1="169.22" x2="607.38" y2="170.62" stroke="#4c4c4c"/><line x1="679.12" y1="174.93" x2="681.05" y2="173.01" stroke="#4c4c4c"/><line x1="646.48" y1="173.14" x2="648.18" y2="171.44" stroke="#6a6a6a"/><line x1="656.73" y1="184.92" x2="658.86" y2="187.05" stroke="#7a7a7a"/><line x1="698.51" y1="165.18" x2="699.94" y2="166.61" stroke="#5a5a5a"/><line x1="730.73" y1="186.87" x2="732.84" y2="188.98" stroke="#7a7a7a"/><line x1="734.53" y1="189.02" x2="736.24" y2="190.72" stroke="#5a5a5a"/><line x1="658.41" y1="171.67" x2="660.47" y2="169.62" stroke="#5a5a5a"/><line x1="685.06" y1="163.39" x2="686.64" y2="164.97" stroke="#6a6a6a"/><line x1="697.94" y1="176.89" x2="699.46" y2="178.41" stroke="#4c4c4c"/><line x1="653.61" y1="168.3" x2="655.03" y2="166.88" stroke="#4c4c4c"/><line x1="711.54" y1="168.79" x2="713.03" y2="167.31" stroke="#7a7a7a"/><line x1="607.93" y1="190.88" x2="609.37" y2="192.32" stroke="#7a7a7a"/><line x1="715.96" y1="164.41" x2="717.96" y2="162.41" stroke="#7a7a7a"/><line x1="739.28" y1="191.17" x2="741.42" y2="193.31" stroke="#7a7a7a"/><line x1="634.25" y1="189.62" x2="635.7" y2="188.17" stroke="#6a6a6a"/><line x1="737.47" y1="161.05" x2="739.51" y2="159" stroke="#6a6a6a"/><line x1="656.96" y1="186.48" x2="659.12" y2="184.32" stroke="#6a6a6a"/><line x1="644.72" y1="161.69" x2="646.45" y2="159.97" stroke="#6a6a6a"/><line x1="611.23" y1="164.4" x2="613.25" y2="166.42" stroke="#6a6a6a"/><line x1="680.66" y1="187.75" x2="682.77" y2="185.63" stroke="#4c4c4c"/><line x1="616.86" y1="163.03" x2="618.8" y2="164.96" stroke="#4c4c4c"/><line x1="620.89" y1="162.65" x2="622.88" y2="160.66" stroke="#5a5a5a"/><line x1="668.56" y1="171.72" x2="670.19" y2="170.09" stroke="#5a5a5a"/><line x1="592.93" y1="190.25" x2="594.71" y2="188.46" stroke="#6a6a6a"/><line x1="618.6" y1="185.93" x2="620.29" y2="187.62" stroke="#4c4c4c"/><line x1="677.01" y1="188.49" x2="678.7" y2="186.8" stroke="#5a5a5a"/><line x1="608.61" y1="183.97" x2="610.67" y2="181.91" stroke="#7a7a7a"/><line x1="677.25" y1="188.14" x2="678.88" y2="189.77" stroke="#7a7a7a"/><line x1="657.53" y1="159.32" x2="659.58" y2="161.36" stroke="#5a5a5a"/><line x1="627.13" y1="161.46" x2="629.03" y2="163.35" stroke="#5a5a5a"/><line x1="637.27" y1="176.63" x2="639.43" y2="178.8" stroke="#5a5a5a"/><line x1="729.83" y1="184.54" x2="731.44" y2="182.93" stroke="#6a6a6a"/><line x1="695.99" y1="161.83" x2="698.09" y2="163.92" stroke="#5a5a5a"/><line x1="631.57" y1="175.68" x2="633.44" y2="173.81" stroke="#5a5a5a"/><line x1="609.08" y1="172.05" x2="610.58" y2="173.56" stroke="#6a6a6a"/><line x1="612.61" y1="177.29" x2="614.61" y2="179.29" stroke="#5a5a5a"/><line x1="731.46" y1="171.38" x2="733.19" y2="173.12" stroke="#7a7a7a"/><line x1="736.42" y1="162.05" x2="738.11" y2="160.36" stroke="#6a6a6a"/><line x1="716.42" y1="184.01" x2="718.49" y2="181.93" stroke="#7a7a7a"/><line x1="717.91" y1="162.16" x2="719.72" y2="160.35" stroke="#6a6a6a"/><line x1="721.54" y1="180.55" x2="722.95" y2="181.95" stroke="#6a6a6a"/><line x1="601" y1="172.8" x2="602.81" y2="174.61" stroke="#6a6a6a"/><line x1="611.43" y1="192.32" x2="613.45" y2="190.3" stroke="#5a5a5a"/><line x1="712" y1="187.45" x2="714.11" y2="189.56" stroke="#4c4c4c"/><line x1="728.42" y1="179" x2="730.32" y2="180.9" stroke="#5a5a5a"/><line x1="628.26" y1="175.69" x2="630.01" y2="177.44" stroke="#4c4c4c"/><line x1="607.71" y1="170.13" x2="609.25" y2="171.67" stroke="#4c4c4c"/><line x1="603.12" y1="179.93" x2="605.26" y2="177.79" stroke="#5a5a5a"/><line x1="667.28" y1="189.6" x2="669.41" y2="187.47" stroke="#4c4c4c"/><line x1="627.14" y1="163.3" x2="628.98" y2="161.46" stroke="#6a6a6a"/><line x1="688.2" y1="167.08" x2="690.17" y2="165.11" stroke="#4c4c4c"/><line x1="682.72" y1="174.06" x2="684.37" y2="175.71" stroke="#4c4c4c"/><line x1="623.93" y1="177.16" x2="625.63" y2="175.46" stroke="#5a5a5a"/><line x1="729.23" y1="165.9" x2="731.39" y2="163.74" stroke="#4c4c4c"/><line x1="664.21" y1="169.94" x2="666.4" y2="167.75" stroke="#5a5a5a"/><line x1="706.75" y1="165.43" x2="708.2" y2="163.97" stroke="#7a7a7a"/><line x1="689.26" y1="177.49" x2="691.32" y2="175.42" stroke="#5a5a5a"/><line x1="668.77" y1="190.98" x2="670.71" y2="192.92" stroke="#7a7a7a"/><line x1="641.15" y1="172.03" x2="643.09" y2="170.09" stroke="#5a5a5a"/><line x1="701.46" y1="184.88" x2="703.47" y2="182.88" stroke="#4c4c4c"/><line x1="708.33" y1="181.67" x2="710.46" y2="183.81" stroke="#7a7a7a"/><line x1="721.29" y1="158.64" x2="723.3" y2="160.65" stroke="#7a7a7a"/><line x1="650.44" y1="192.83" x2="651.96" y2="191.31" stroke="#5a5a5a"/><line x1="647.63" y1="175.22" x2="649.39" y2="173.45" stroke="#4c4c4c"/><line x1="643.58" y1="177.69" x2="645.45" y2="175.82" stroke="#5a5a5a"/><line x1="708.82" y1="188.27" x2="710.62" y2="186.47" stroke="#4c4c4c"/><line x1="618.41" y1="170.23" x2="619.93" y2="168.71" stroke="#6a6a6a"/><line x1="603.88" y1="188.85" x2="605.54" y2="190.51" stroke="#4c4c4c"/><line x1="621.12" y1="172.42" x2="623.25" y2="174.55" stroke="#5a5a5a"/><line x1="597.73" y1="178.93" x2="599.52" y2="177.13" stroke="#7a7a7a"/><line x1="668.25" y1="177.44" x2="670.19" y2="175.49" stroke="#7a7a7a"/><line x1="644.39" y1="178.17" x2="646.07" y2="179.85" stroke="#5a5a5a"/><line x1="669.54" y1="163.6" x2="671.24" y2="161.9" stroke="#6a6a6a"/><line x1="722.76" y1="192.03" x2="724.55" y2="190.24" stroke="#4c4c4c"/><line x1="694.64" y1="184.72" x2="696.11" y2="183.25" stroke="#4c4c4c"/><line x1="645.75" y1="161.14" x2="647.4" y2="162.79" stroke="#5a5a5a"/><line x1="689.18" y1="170.01" x2="690.86" y2="168.34" stroke="#6a6a6a"/><line x1="669.43" y1="185.49" x2="671" y2="187.05" stroke="#7a7a7a"/><line x1="617.96" y1="181.11" x2="619.84" y2="179.23" stroke="#5a5a5a"/><line x1="694.7" y1="159.15" x2="696.1" y2="160.55" stroke="#4c4c4c"/><line x1="650.51" y1="162.02" x2="651.92" y2="163.44" stroke="#6a6a6a"/><line x1="616.89" y1="183.8" x2="618.74" y2="185.65" stroke="#6a6a6a"/><line x1="652.48" y1="162.72" x2="654.01" y2="164.25" stroke="#5a5a5a"/><line x1="605.63" y1="166" x2="607.44" y2="164.18" stroke="#7a7a7a"/><line x1="711.95" y1="162.24" x2="713.36" y2="160.83" stroke="#6a6a6a"/><line x1="698.19" y1="171.87" x2="699.73" y2="170.34" stroke="#5a5a5a"/><line x1="719.85" y1="189.86" x2="721.3" y2="191.31" stroke="#7a7a7a"/><line x1="684.44" y1="160.93" x2="686.01" y2="159.35" stroke="#5a5a5a"/><line x1="656.73" y1="179.04" x2="658.33" y2="180.64" stroke="#6a6a6a"/><line x1="730.48" y1="188.36" x2="732.14" y2="186.71" stroke="#4c4c4c"/><line x1="653.29" y1="166.71" x2="655.39" y2="168.82" stroke="#6a6a6a"/><line x1="692.29" y1="182.57" x2="694.16" y2="180.7" stroke="#4c4c4c"/><line x1="650.66" y1="182.14" x2="652.08" y2="183.56" stroke="#5a5a5a"/><line x1="616.78" y1="172.03" x2="618.33" y2="170.48" stroke="#7a7a7a"/><line x1="674.93" y1="164.18" x2="676.76" y2="162.35" stroke="#4c4c4c"/><line x1="651.31" y1="162.4" x2="652.81" y2="160.9" stroke="#6a6a6a"/><line x1="648.84" y1="175.66" x2="650.52" y2="173.98" stroke="#5a5a5a"/><line x1="632.4" y1="159.31" x2="634.45" y2="161.35" stroke="#6a6a6a"/><line x1="604.38" y1="167.31" x2="606.45" y2="169.38" stroke="#7a7a7a"/><line x1="660.86" y1="186.37" x2="662.45" y2="184.78" stroke="#4c4c4c"/><line x1="623.06" y1="171.84" x2="624.97" y2="173.74" stroke="#4c4c4c"/><line x1="733.54" y1="176.85" x2="735.12" y2="175.27" stroke="#6a6a6a"/><line x1="732.06" y1="193.17" x2="733.94" y2="191.29" stroke="#4c4c4c"/><line x1="670.9" y1="171.85" x2="672.71" y2="173.66" stroke="#5a5a5a"/><line x1="692.27" y1="163.54" x2="694.35" y2="161.46" stroke="#5a5a5a"/><line x1="689.44" y1="178.94" x2="691.08" y2="177.3" stroke="#5a5a5a"/><line x1="695.05" y1="184.16" x2="696.63" y2="185.75" stroke="#5a5a5a"/><line x1="600.7" y1="190.5" x2="602.75" y2="188.45" stroke="#6a6a6a"/><line x1="600.61" y1="168.92" x2="602.19" y2="170.5" stroke="#7a7a7a"/><line x1="632.85" y1="171.67" x2="634.97" y2="173.79" stroke="#4c4c4c"/><line x1="616.97" y1="172.54" x2="619.01" y2="170.5" stroke="#7a7a7a"/><line x1="594.41" y1="183.47" x2="596.18" y2="181.7" stroke="#4c4c4c"/><line x1="726.77" y1="163.52" x2="728.4" y2="161.89" stroke="#6a6a6a"/><line x1="697.81" y1="160.11" x2="699.25" y2="161.54" stroke="#7a7a7a"/><line x1="620.4" y1="168.59" x2="622.11" y2="170.29" stroke="#4c4c4c"/><line x1="685.12" y1="189.46" x2="686.97" y2="191.31" stroke="#7a7a7a"/><line x1="698.26" y1="168.73" x2="700.01" y2="166.98" stroke="#5a5a5a"/><line x1="607.34" y1="183.59" x2="609.27" y2="185.51" stroke="#5a5a5a"/><line x1="737.1" y1="182.55" x2="738.53" y2="181.12" stroke="#6a6a6a"/><line x1="707.16" y1="171.9" x2="709.29" y2="169.77" stroke="#7a7a7a"/><line x1="740.63" y1="178.89" x2="742.2" y2="180.47" stroke="#4c4c4c"/><line x1="732.57" y1="174.48" x2="734.72" y2="172.33" stroke="#5a5a5a"/><line x1="692.15" y1="165.29" x2="694.09" y2="167.23" stroke="#7a7a7a"/><line x1="704.96" y1="161.91" x2="706.92" y2="159.95" stroke="#6a6a6a"/><line x1="672.61" y1="192.25" x2="674.52" y2="190.34" stroke="#6a6a6a"/><line x1="735.39" y1="164.17" x2="737.07" y2="165.85" stroke="#6a6a6a"/><line x1="686.13" y1="164.97" x2="688.08" y2="163.03" stroke="#7a7a7a"/><line x1="626.32" y1="168.33" x2="628.13" y2="166.52" stroke="#6a6a6a"/><line x1="731.24" y1="170.21" x2="732.88" y2="171.85" stroke="#6a6a6a"/><line x1="640.68" y1="185.33" x2="642.52" y2="187.16" stroke="#6a6a6a"/><line x1="680.42" y1="173.62" x2="682.43" y2="175.63" stroke="#5a5a5a"/><line x1="694.26" y1="159.01" x2="696.05" y2="160.8" stroke="#5a5a5a"/><line x1="725.31" y1="170.21" x2="726.8" y2="168.72" stroke="#7a7a7a"/><line x1="735.25" y1="165.67" x2="737" y2="163.91" stroke="#4c4c4c"/><line x1="616.04" y1="162.56" x2="617.45" y2="161.15" stroke="#5a5a5a"/><line x1="702.75" y1="171.38" x2="704.74" y2="169.38" stroke="#5a5a5a"/><line x1="687.5" y1="191.78" x2="689.29" y2="189.99" stroke="#5a5a5a"/><line x1="644.65" y1="163.3" x2="646.28" y2="161.67" stroke="#6a6a6a"/><line x1="602.53" y1="184.73" x2="603.95" y2="183.31" stroke="#6a6a6a"/><line x1="635.05" y1="164.64" x2="636.96" y2="166.55" stroke="#5a5a5a"/><line x1="708.35" y1="187.73" x2="710.35" y2="185.74" stroke="#7a7a7a"/><line x1="618.39" y1="187.4" x2="620.05" y2="185.74" stroke="#6a6a6a"/><line x1="673.25" y1="170.58" x2="675.31" y2="172.64" stroke="#5a5a5a"/><line x1="596.74" y1="179.04" x2="598.65" y2="177.14" stroke="#5a5a5a"/><line x1="732.53" y1="174.82" x2="734.33" y2="176.62" stroke="#4c4c4c"/><line x1="681.26" y1="179.29" x2="682.77" y2="180.81" stroke="#6a6a6a"/><line x1="611.41" y1="179.53" x2="613.13" y2="181.25" stroke="#7a7a7a"/><line x1="662.66" y1="165.81" x2="664.36" y2="167.51" stroke="#7a7a7a"/><line x1="612.28" y1="162.58" x2="613.73" y2="161.14" stroke="#4c4c4c"/><line x1="599.84" y1="158.71" x2="602" y2="160.87" stroke="#6a6a6a"/><line x1="647.38" y1="160.66" x2="649.42" y2="158.62" stroke="#6a6a6a"/><line x1="661.01" y1="178.21" x2="662.83" y2="176.39" stroke="#6a6a6a"/><line x1="736.9" y1="190.1" x2="738.8" y2="192" stroke="#4c4c4c"/><line x1="682.07" y1="170.17" x2="683.92" y2="168.31" stroke="#7a7a7a"/><line x1="689.06" y1="162.94" x2="691.15" y2="165.03" stroke="#6a6a6a"/><line x1="623.94" y1="182.79" x2="625.89" y2="184.74" stroke="#4c4c4c"/><line x1="674" y1="189.59" x2="675.69" y2="191.28" stroke="#7a7a7a"/><line x1="650.26" y1="162.48" x2="651.8" y2="164.02" stroke="#5a5a5a"/><line x1="623.77" y1="186" x2="625.69" y2="187.92" stroke="#4c4c4c"/><line x1="697.12" y1="166.06" x2="698.89" y2="167.83" stroke="#5a5a5a"/><line x1="718.38" y1="180.77" x2="720.42" y2="182.81" stroke="#5a5a5a"/><line x1="684.71" y1="191.91" x2="686.52" y2="190.09" stroke="#7a7a7a"/><line x1="672.48" y1="192.03" x2="674.03" y2="190.47" stroke="#5a5a5a"/><line x1="611.32" y1="184.24" x2="612.77" y2="185.68" stroke="#5a5a5a"/><line x1="646.49" y1="159.06" x2="648.36" y2="160.94" stroke="#7a7a7a"/><line x1="635.68" y1="181.83" x2="637.42" y2="183.57" stroke="#6a6a6a"/><line x1="675.01" y1="188.55" x2="677.1" y2="190.64" stroke="#4c4c4c"/><line x1="702.46" y1="169.69" x2="704.47" y2="171.7" stroke="#4c4c4c"/><line x1="608.94" y1="172.73" x2="610.93" y2="170.74" stroke="#7a7a7a"/><line x1="597.29" y1="180.04" x2="598.77" y2="178.56" stroke="#5a5a5a"/><line x1="595.83" y1="190.15" x2="597.43" y2="188.56" stroke="#6a6a6a"/><line x1="694.63" y1="161.29" x2="696.82" y2="159.1" stroke="#5a5a5a"/><line x1="709.61" y1="176.24" x2="711.06" y2="174.78" stroke="#6a6a6a"/><line x1="613.02" y1="191.09" x2="615.12" y2="188.99" stroke="#6a6a6a"/><line x1="678.77" y1="168.81" x2="680.96" y2="166.61" stroke="#7a7a7a"/><line x1="592.81" y1="171.49" x2="594.33" y2="169.97" stroke="#5a5a5a"/><line x1="710.96" y1="161.44" x2="712.5" y2="159.89" stroke="#7a7a7a"/><line x1="735.94" y1="181.35" x2="737.7" y2="183.11" stroke="#5a5a5a"/><line x1="644.89" y1="176" x2="646.54" y2="177.65" stroke="#5a5a5a"/><line x1="622.26" y1="187.36" x2="624.24" y2="185.38" stroke="#7a7a7a"/><line x1="649.06" y1="171.8" x2="650.46" y2="170.4" stroke="#4c4c4c"/><line x1="624.49" y1="166.61" x2="626.59" y2="168.71" stroke="#6a6a6a"/><line x1="699.84" y1="163.36" x2="701.54" y2="165.07" stroke="#4c4c4c"/><line x1="644.16" y1="177.38" x2="646.03" y2="179.25" stroke="#5a5a5a"/><line x1="728.2" y1="188.37" x2="729.68" y2="189.84" stroke="#7a7a7a"/><line x1="685.75" y1="181.16" x2="687.44" y2="179.47" stroke="#6a6a6a"/><line x1="721.62" y1="191.26" x2="723.57" y2="189.31" stroke="#4c4c4c"/><line x1="701.62" y1="177.15" x2="703.53" y2="175.24" stroke="#7a7a7a"/><line x1="640.76" y1="183.57" x2="642.7" y2="181.63" stroke="#4c4c4c"/><line x1="724.71" y1="184.94" x2="726.91" y2="187.14" stroke="#6a6a6a"/><line x1="621.38" y1="189.62" x2="623.31" y2="187.68" stroke="#7a7a7a"/><line x1="649.92" y1="183.76" x2="652.06" y2="185.9" stroke="#6a6a6a"/><line x1="635.79" y1="170.61" x2="637.77" y2="168.63" stroke="#5a5a5a"/><line x1="729.14" y1="177.9" x2="730.6" y2="179.37" stroke="#4c4c4c"/><line x1="677.85" y1="192.73" x2="679.53" y2="191.05" stroke="#5a5a5a"/><line x1="716.69" y1="170.74" x2="718.23" y2="169.2" stroke="#5a5a5a"/><line x1="704.63" y1="179.25" x2="706.22" y2="180.84" stroke="#6a6a6a"/><line x1="597.61" y1="175.25" x2="599.72" y2="173.13" stroke="#5a5a5a"/><line x1="619.96" y1="182.49" x2="622.13" y2="184.66" stroke="#5a5a5a"/><line x1="601.6" y1="185.35" x2="603.46" y2="187.21" stroke="#5a5a5a"/><line x1="618.71" y1="178.16" x2="620.81" y2="176.06" stroke="#5a5a5a"/><line x1="622.38" y1="171.22" x2="624.38" y2="169.22" stroke="#7a7a7a"/><line x1="682.32" y1="186.52" x2="683.86" y2="184.98" stroke="#5a5a5a"/><line x1="603.59" y1="180.61" x2="605.61" y2="178.59" stroke="#4c4c4c"/><line x1="732.01" y1="188.86" x2="733.43" y2="187.43" stroke="#4c4c4c"/><line x1="598.92" y1="180.63" x2="600.9" y2="178.65" stroke="#6a6a6a"/><line x1="604.78" y1="163.87" x2="606.29" y2="165.38" stroke="#4c4c4c"/><line x1="712.85" y1="172.47" x2="714.68" y2="174.3" stroke="#4c4c4c"/><line x1="625.02" y1="180.82" x2="627.07" y2="178.77" stroke="#5a5a5a"/><line x1="707.04" y1="170.65" x2="709.06" y2="168.63" stroke="#4c4c4c"/><line x1="644.97" y1="177.68" x2="646.59" y2="176.06" stroke="#5a5a5a"/><line x1="674.31" y1="163.8" x2="676.36" y2="161.75" stroke="#6a6a6a"/><line x1="739.12" y1="165.98" x2="741.13" y2="167.99" stroke="#5a5a5a"/><line x1="684.4" y1="162.59" x2="686.24" y2="164.43" stroke="#6a6a6a"/><line x1="629.42" y1="178.38" x2="631.41" y2="180.37" stroke="#6a6a6a"/><line x1="669.9" y1="171.99" x2="671.86" y2="170.02" stroke="#7a7a7a"/><line x1="622.45" y1="190.49" x2="624.57" y2="188.36" stroke="#7a7a7a"/><line x1="622.65" y1="184.7" x2="624.07" y2="186.12" stroke="#5a5a5a"/><line x1="711.7" y1="190.44" x2="713.64" y2="188.5" stroke="#5a5a5a"/><line x1="624.7" y1="172.9" x2="626.83" y2="170.77" stroke="#6a6a6a"/><line x1="595.13" y1="159.2" x2="597.1" y2="161.16" stroke="#6a6a6a"/><line x1="643.85" y1="171.06" x2="645.59" y2="169.32" stroke="#4c4c4c"/><line x1="722.5" y1="174.76" x2="724.68" y2="176.95" stroke="#7a7a7a"/><line x1="720.33" y1="187.2" x2="721.94" y2="188.82" stroke="#4c4c4c"/><line x1="633.05" y1="169.48" x2="634.84" y2="171.27" stroke="#6a6a6a"/><line x1="638.45" y1="178.43" x2="640.61" y2="180.6" stroke="#5a5a5a"/><line x1="723.05" y1="167.44" x2="725.16" y2="165.33" stroke="#5a5a5a"/><line x1="707.86" y1="187.04" x2="709.4" y2="188.59" stroke="#4c4c4c"/><line x1="693.65" y1="185.14" x2="695.17" y2="186.67" stroke="#6a6a6a"/><line x1="727.43" y1="163.45" x2="729.42" y2="165.44" stroke="#6a6a6a"/><line x1="660.4" y1="173.39" x2="662.13" y2="171.66" stroke="#4c4c4c"/><line x1="737.85" y1="159.79" x2="739.44" y2="161.37" stroke="#5a5a5a"/><line x1="610.82" y1="178.09" x2="612.68" y2="179.95" stroke="#5a5a5a"/><line x1="598.03" y1="188.1" x2="599.48" y2="189.55" stroke="#5a5a5a"/><line x1="734.36" y1="190.43" x2="736.18" y2="192.25" stroke="#6a6a6a"/><line x1="624.18" y1="176.27" x2="626.08" y2="178.18" stroke="#4c4c4c"/><line x1="716.87" y1="190.17" x2="718.33" y2="191.63" stroke="#6a6a6a"/><line x1="700.59" y1="169.22" x2="702.13" y2="167.68" stroke="#4c4c4c"/><line x1="600.95" y1="161.82" x2="602.76" y2="160.01" stroke="#4c4c4c"/><line x1="630.92" y1="170.9" x2="632.35" y2="169.47" stroke="#4c4c4c"/><line x1="672.84" y1="183.23" x2="675.02" y2="181.05" stroke="#7a7a7a"/><line x1="654.03" y1="176.36" x2="655.73" y2="178.07" stroke="#7a7a7a"/><line x1="704.77" y1="187.4" x2="706.82" y2="189.44" stroke="#6a6a6a"/><line x1="681.99" y1="190.68" x2="683.6" y2="189.08" stroke="#6a6a6a"/><line x1="714.76" y1="180.53" x2="716.23" y2="182" stroke="#5a5a5a"/><line x1="651.48" y1="178.79" x2="653.43" y2="176.85" stroke="#4c4c4c"/><line x1="659.03" y1="179.34" x2="660.8" y2="177.56" stroke="#4c4c4c"/><line x1="679.67" y1="192.92" x2="681.26" y2="191.33" stroke="#4c4c4c"/><line x1="697.56" y1="173.32" x2="699.38" y2="171.5" stroke="#5a5a5a"/><line x1="685.17" y1="178.1" x2="686.75" y2="176.52" stroke="#4c4c4c"/><line x1="727.01" y1="176.01" x2="728.98" y2="174.03" stroke="#6a6a6a"/><line x1="740.61" y1="162.66" x2="742.61" y2="160.66" stroke="#6a6a6a"/><line x1="669.93" y1="185.38" x2="671.52" y2="186.97" stroke="#6a6a6a"/><line x1="713.99" y1="173.64" x2="715.9" y2="175.55" stroke="#4c4c4c"/><line x1="647.74" y1="185.77" x2="649.79" y2="187.82" stroke="#7a7a7a"/><line x1="613.87" y1="168.49" x2="615.35" y2="167.01" stroke="#4c4c4c"/><line x1="658.65" y1="163.24" x2="660.37" y2="161.53" stroke="#5a5a5a"/><line x1="657.97" y1="174.17" x2="660.01" y2="176.21" stroke="#5a5a5a"/><line x1="692.75" y1="170.63" x2="694.57" y2="172.44" stroke="#4c4c4c"/><line x1="669.31" y1="184.99" x2="670.91" y2="186.59" stroke="#5a5a5a"/><line x1="676.43" y1="162.17" x2="677.97" y2="160.62" stroke="#4c4c4c"/><line x1="629.02" y1="169.08" x2="630.77" y2="167.33" stroke="#5a5a5a"/><line x1="620.78" y1="174.4" x2="622.81" y2="172.36" stroke="#5a5a5a"/><line x1="698.54" y1="172.54" x2="699.97" y2="171.11" stroke="#7a7a7a"/><line x1="655.43" y1="178.62" x2="657.03" y2="180.23" stroke="#7a7a7a"/><line x1="718.18" y1="164.69" x2="720.07" y2="162.8" stroke="#5a5a5a"/><line x1="690.75" y1="171.03" x2="692.2" y2="169.58" stroke="#7a7a7a"/><line x1="649.49" y1="172.03" x2="651.64" y2="174.18" stroke="#5a5a5a"/><line x1="679.65" y1="175.56" x2="681.42" y2="173.79" stroke="#7a7a7a"/><line x1="740.21" y1="166.01" x2="741.66" y2="164.55" stroke="#7a7a7a"/><line x1="611.12" y1="183.49" x2="612.52" y2="184.9" stroke="#6a6a6a"/><line x1="650.86" y1="161.8" x2="652.8" y2="159.86" stroke="#7a7a7a"/><line x1="706.35" y1="162.59" x2="707.92" y2="164.16" stroke="#5a5a5a"/><line x1="605.77" y1="163.4" x2="607.78" y2="161.39" stroke="#5a5a5a"/><line x1="714.43" y1="165.22" x2="716.1" y2="166.89" stroke="#7a7a7a"/><line x1="717.35" y1="163.24" x2="719.07" y2="164.96" stroke="#6a6a6a"/><line x1="638.54" y1="164.65" x2="640.73" y2="166.83" stroke="#4c4c4c"/><line x1="668.75" y1="163.19" x2="670.46" y2="161.49" stroke="#7a7a7a"/><line x1="667.53" y1="174" x2="668.97" y2="172.56" stroke="#6a6a6a"/><line x1="720.65" y1="186.85" x2="722.73" y2="184.76" stroke="#4c4c4c"/><line x1="620.93" y1="162.12" x2="622.76" y2="160.29" stroke="#7a7a7a"/><line x1="689.32" y1="183.54" x2="690.84" y2="182.03" stroke="#6a6a6a"/><line x1="659.09" y1="183.65" x2="661.02" y2="181.72" stroke="#5a5a5a"/><line x1="670.64" y1="173.84" x2="672.49" y2="171.99" stroke="#5a5a5a"/><line x1="631.77" y1="184.8" x2="633.4" y2="186.43" stroke="#7a7a7a"/><line x1="651.7" y1="182.59" x2="653.26" y2="184.15" stroke="#5a5a5a"/><line x1="617.81" y1="186.9" x2="619.31" y2="188.4" stroke="#5a5a5a"/><line x1="713.1" y1="175.1" x2="714.51" y2="176.51" stroke="#7a7a7a"/><line x1="623.67" y1="182.13" x2="625.66" y2="184.13" stroke="#6a6a6a"/><line x1="612.61" y1="188.82" x2="614.18" y2="190.39" stroke="#7a7a7a"/><line x1="604.72" y1="186.3" x2="606.88" y2="184.14" stroke="#6a6a6a"/><line x1="689.4" y1="169.01" x2="691.53" y2="166.89" stroke="#6a6a6a"/><line x1="721.15" y1="189.05" x2="722.65" y2="190.56" stroke="#7a7a7a"/><line x1="634.67" y1="168.06" x2="636.54" y2="166.2" stroke="#6a6a6a"/><line x1="637.08" y1="167.04" x2="638.92" y2="168.88" stroke="#6a6a6a"/><line x1="732.73" y1="180.53" x2="734.31" y2="182.12" stroke="#4c4c4c"/><line x1="647.78" y1="179.73" x2="649.36" y2="181.31" stroke="#6a6a6a"/><line x1="660.39" y1="184.26" x2="662.13" y2="182.51" stroke="#5a5a5a"/><line x1="596.37" y1="170.08" x2="598.29" y2="172" stroke="#5a5a5a"/><line x1="634.17" y1="171.91" x2="636.17" y2="169.91" stroke="#5a5a5a"/><line x1="620.8" y1="167.86" x2="622.44" y2="169.51" stroke="#6a6a6a"/><line x1="611.43" y1="167.34" x2="613.54" y2="169.45" stroke="#4c4c4c"/><line x1="595.28" y1="180.23" x2="597.45" y2="178.05" stroke="#6a6a6a"/><line x1="732.63" y1="181.75" x2="734.07" y2="180.31" stroke="#4c4c4c"/><line x1="658.04" y1="166.62" x2="660.03" y2="168.61" stroke="#5a5a5a"/><line x1="709.09" y1="170.01" x2="710.54" y2="168.55" stroke="#5a5a5a"/><line x1="702.93" y1="163.97" x2="704.46" y2="162.44" stroke="#7a7a7a"/><line x1="595.96" y1="161.73" x2="597.82" y2="159.87" stroke="#6a6a6a"/><line x1="653.15" y1="186.23" x2="654.61" y2="187.69" stroke="#4c4c4c"/><line x1="616.16" y1="191.22" x2="617.82" y2="189.55" stroke="#4c4c4c"/><line x1="612.83" y1="161.53" x2="614.94" y2="163.64" stroke="#6a6a6a"/><line x1="665.27" y1="177.83" x2="666.77" y2="176.33" stroke="#6a6a6a"/><line x1="615.23" y1="177.97" x2="617.04" y2="176.16" stroke="#6a6a6a"/><line x1="632.98" y1="176.62" x2="635.17" y2="178.81" stroke="#6a6a6a"/><line x1="724.19" y1="161.07" x2="726.35" y2="158.92" stroke="#6a6a6a"/><line x1="693.98" y1="166.02" x2="695.98" y2="168.02" stroke="#4c4c4c"/><line x1="740.47" y1="172.46" x2="742.37" y2="174.36" stroke="#4c4c4c"/><line x1="676.12" y1="162.5" x2="678.05" y2="164.43" stroke="#6a6a6a"/><line x1="627.18" y1="184.01" x2="628.99" y2="185.82" stroke="#6a6a6a"/><line x1="601.73" y1="169.82" x2="603.21" y2="171.3" stroke="#6a6a6a"/><line x1="712.84" y1="171.74" x2="714.88" y2="169.7" stroke="#6a6a6a"/><line x1="592.25" y1="191.21" x2="593.98" y2="189.48" stroke="#5a5a5a"/><line x1="603.73" y1="166.54" x2="605.72" y2="168.52" stroke="#6a6a6a"/><line x1="710.53" y1="183.98" x2="712.09" y2="185.54" stroke="#4c4c4c"/><line x1="697.23" y1="162.4" x2="698.63" y2="160.99" stroke="#5a5a5a"/><line x1="665.14" y1="184" x2="667.26" y2="186.12" stroke="#6a6a6a"/><line x1="720.82" y1="162" x2="722.52" y2="160.3" stroke="#5a5a5a"/><line x1="688.34" y1="192.29" x2="690.21" y2="190.43" stroke="#7a7a7a"/><line x1="610.69" y1="185.6" x2="612.84" y2="187.75" stroke="#7a7a7a"/><line x1="715.6" y1="186.75" x2="717.47" y2="184.87" stroke="#7a7a7a"/><line x1="714.39" y1="186.28" x2="716.49" y2="184.18" stroke="#5a5a5a"/><line x1="600.7" y1="184.17" x2="602.74" y2="186.21" stroke="#6a6a6a"/><line x1="620.45" y1="175.31" x2="622.04" y2="173.72" stroke="#5a5a5a"/><line x1="649.36" y1="186.23" x2="651.4" y2="184.19" stroke="#7a7a7a"/><line x1="651.56" y1="163.32" x2="653.48" y2="161.4" stroke="#7a7a7a"/><line x1="709.71" y1="158.75" x2="711.5" y2="160.54" stroke="#5a5a5a"/><line x1="722.54" y1="175.96" x2="724.27" y2="174.23" stroke="#7a7a7a"/><line x1="612.67" y1="178.12" x2="614.14" y2="176.66" stroke="#7a7a7a"/><line x1="683.78" y1="169.82" x2="685.25" y2="168.35" stroke="#6a6a6a"/><line x1="695.85" y1="173.03" x2="697.78" y2="174.96" stroke="#5a5a5a"/><line x1="623.14" y1="179.22" x2="624.84" y2="180.92" stroke="#7a7a7a"/><line x1="631.43" y1="190.07" x2="633.12" y2="191.76" stroke="#4c4c4c"/><line x1="724.1" y1="180.57" x2="726.21" y2="178.46" stroke="#4c4c4c"/><line x1="665.65" y1="189.95" x2="667.45" y2="191.75" stroke="#6a6a6a"/><line x1="649.18" y1="158.76" x2="651.26" y2="160.84" stroke="#6a6a6a"/><line x1="658.98" y1="186.85" x2="660.58" y2="185.25" stroke="#5a5a5a"/><line x1="738.37" y1="184.6" x2="740.38" y2="182.59" stroke="#6a6a6a"/><line x1="730.01" y1="187.85" x2="731.94" y2="189.78" stroke="#4c4c4c"/><line x1="657.36" y1="191.76" x2="659.05" y2="190.07" stroke="#5a5a5a"/><line x1="726.91" y1="174.99" x2="728.6" y2="176.68" stroke="#5a5a5a"/><line x1="722.21" y1="189.38" x2="723.71" y2="187.88" stroke="#7a7a7a"/><line x1="637.47" y1="177.07" x2="639" y2="175.55" stroke="#5a5a5a"/><line x1="733.22" y1="176.03" x2="734.63" y2="174.62" stroke="#6a6a6a"/><line x1="618.78" y1="190.51" x2="620.59" y2="188.71" stroke="#6a6a6a"/><line x1="702.94" y1="179.73" x2="704.57" y2="181.35" stroke="#4c4c4c"/><line x1="706.67" y1="161.27" x2="708.51" y2="159.43" stroke="#5a5a5a"/><line x1="711.54" y1="182.54" x2="713.25" y2="180.84" stroke="#4c4c4c"/><line x1="639.3" y1="185.94" x2="641.09" y2="187.74" stroke="#4c4c4c"/><line x1="724.71" y1="165.06" x2="726.76" y2="167.11" stroke="#6a6a6a"/><line x1="636.79" y1="175.6" x2="638.73" y2="177.55" stroke="#4c4c4c"/><line x1="736.57" y1="184.14" x2="738.26" y2="185.83" stroke="#4c4c4c"/><line x1="637.19" y1="191.23" x2="638.75" y2="189.68" stroke="#7a7a7a"/><line x1="651.2" y1="182.7" x2="652.89" y2="181.01" stroke="#7a7a7a"/><line x1="709.9" y1="175.74" x2="711.39" y2="174.25" stroke="#7a7a7a"/><line x1="686.37" y1="184.21" x2="688.02" y2="185.87" stroke="#4c4c4c"/><line x1="704.29" y1="175.85" x2="706.14" y2="174" stroke="#5a5a5a"/><line x1="631.8" y1="172.46" x2="633.93" y2="170.33" stroke="#5a5a5a"/><line x1="629.79" y1="185.52" x2="631.23" y2="184.08" stroke="#4c4c4c"/><line x1="680.85" y1="170.21" x2="683.03" y2="172.39" stroke="#5a5a5a"/><line x1="703.85" y1="180.88" x2="705.58" y2="182.61" stroke="#4c4c4c"/><line x1="615.43" y1="164.3" x2="617.41" y2="166.28" stroke="#7a7a7a"/><line x1="649.76" y1="191.34" x2="651.75" y2="189.35" stroke="#7a7a7a"/><line x1="649.62" y1="185.09" x2="651.3" y2="186.77" stroke="#6a6a6a"/><line x1="670.41" y1="177.56" x2="672.34" y2="175.63" stroke="#6a6a6a"/><line x1="622.43" y1="180.8" x2="624.57" y2="182.94" stroke="#5a5a5a"/><line x1="718.53" y1="182.34" x2="720.39" y2="180.47" stroke="#6a6a6a"/><line x1="676.64" y1="167.44" x2="678.71" y2="169.52" stroke="#6a6a6a"/><line x1="624.08" y1="186.57" x2="625.67" y2="188.16" stroke="#4c4c4c"/><line x1="725.47" y1="184.9" x2="727.53" y2="182.84" stroke="#4c4c4c"/><line x1="610.24" y1="183.58" x2="612.2" y2="181.61" stroke="#5a5a5a"/><line x1="706.48" y1="178.44" x2="708.29" y2="180.24" stroke="#6a6a6a"/><line x1="637.02" y1="170.37" x2="638.88" y2="172.23" stroke="#4c4c4c"/><line x1="594.25" y1="177.22" x2="595.75" y2="175.72" stroke="#6a6a6a"/><line x1="591.26" y1="180.89" x2="592.77" y2="179.38" stroke="#5a5a5a"/><line x1="737.35" y1="177.92" x2="739.22" y2="179.8" stroke="#5a5a5a"/><line x1="671.39" y1="175.73" x2="673.18" y2="173.94" stroke="#4c4c4c"/><line x1="735.61" y1="176.11" x2="737.19" y2="177.7" stroke="#4c4c4c"/><line x1="716.66" y1="185.11" x2="718.49" y2="186.94" stroke="#6a6a6a"/><line x1="707.47" y1="161.33" x2="709.27" y2="159.53" stroke="#4c4c4c"/><line x1="599.98" y1="179.17" x2="601.96" y2="181.15" stroke="#7a7a7a"/><line x1="649.26" y1="189.94" x2="650.99" y2="191.67" stroke="#4c4c4c"/><line x1="734.8" y1="169.21" x2="736.99" y2="171.4" stroke="#7a7a7a"/><line x1="676.87" y1="174.74" x2="679.04" y2="172.56" stroke="#6a6a6a"/><line x1="641.96" y1="166.59" x2="643.68" y2="164.87" stroke="#6a6a6a"/><line x1="602.28" y1="188.23" x2="603.69" y2="189.64" stroke="#6a6a6a"/><line x1="706.65" y1="167.1" x2="708.65" y2="165.1" stroke="#5a5a5a"/><line x1="728.69" y1="182.21" x2="730.66" y2="184.19" stroke="#4c4c4c"/><line x1="621.34" y1="160.97" x2="623.43" y2="158.88" stroke="#4c4c4c"/><line x1="684.94" y1="178.87" x2="686.59" y2="177.22" stroke="#4c4c4c"/><line x1="606.33" y1="184.73" x2="608.29" y2="182.77" stroke="#5a5a5a"/><line x1="711.59" y1="173.68" x2="713.07" y2="175.17" stroke="#6a6a6a"/><line x1="645.26" y1="187.61" x2="647.05" y2="189.4" stroke="#4c4c4c"/><line x1="709.84" y1="174.09" x2="711.9" y2="176.15" stroke="#5a5a5a"/><line x1="670" y1="168.6" x2="671.71" y2="166.89" stroke="#4c4c4c"/><line x1="689.3" y1="191.03" x2="690.86" y2="189.47" stroke="#7a7a7a"/><line x1="707.05" y1="184.07" x2="708.58" y2="182.54" stroke="#6a6a6a"/><line x1="611.28" y1="164.14" x2="613.27" y2="162.15" stroke="#5a5a5a"/><line x1="591.86" y1="187.75" x2="593.88" y2="185.72" stroke="#5a5a5a"/><line x1="621.07" y1="179.35" x2="623.2" y2="177.22" stroke="#4c4c4c"/><line x1="684.42" y1="187.64" x2="686.21" y2="189.43" stroke="#5a5a5a"/><line x1="627.21" y1="188.36" x2="628.91" y2="190.06" stroke="#5a5a5a"/><line x1="679.52" y1="164.42" x2="681.08" y2="162.86" stroke="#7a7a7a"/><line x1="704.92" y1="179.19" x2="706.89" y2="177.21" stroke="#6a6a6a"/><line x1="650.63" y1="180.59" x2="652.6" y2="182.56" stroke="#7a7a7a"/><line x1="694.69" y1="175.73" x2="696.2" y2="174.22" stroke="#7a7a7a"/><line x1="599.83" y1="166.23" x2="602.02" y2="168.42" stroke="#5a5a5a"/><line x1="649.39" y1="184.32" x2="651.45" y2="186.38" stroke="#6a6a6a"/><line x1="604.57" y1="190.5" x2="606.61" y2="192.54" stroke="#7a7a7a"/><line x1="597.74" y1="166.31" x2="599.88" y2="168.46" stroke="#5a5a5a"/><line x1="730.17" y1="181.52" x2="732.31" y2="179.38" stroke="#5a5a5a"/><line x1="613.54" y1="159.09" x2="615.55" y2="161.1" stroke="#5a5a5a"/><line x1="618.81" y1="186.74" x2="620.34" y2="185.21" stroke="#5a5a5a"/><line x1="667.22" y1="190.03" x2="668.93" y2="191.74" stroke="#5a5a5a"/><line x1="718.35" y1="176.7" x2="720.41" y2="178.76" stroke="#5a5a5a"/><line x1="689.97" y1="178.79" x2="691.73" y2="180.56" stroke="#6a6a6a"/><line x1="594.09" y1="187.74" x2="596.14" y2="185.69" stroke="#6a6a6a"/><line x1="609.06" y1="181.6" x2="610.63" y2="180.04" stroke="#5a5a5a"/><line x1="682.62" y1="161.42" x2="684.43" y2="163.24" stroke="#5a5a5a"/><line x1="700.13" y1="186.33" x2="702.21" y2="188.41" stroke="#5a5a5a"/><line x1="645.71" y1="168.42" x2="647.72" y2="170.43" stroke="#7a7a7a"/><line x1="681.58" y1="190.59" x2="683.59" y2="192.6" stroke="#5a5a5a"/><line x1="601.79" y1="162.25" x2="603.74" y2="164.21" stroke="#7a7a7a"/><line x1="658.99" y1="171.92" x2="660.88" y2="173.81" stroke="#5a5a5a"/><line x1="727.63" y1="185.97" x2="729.6" y2="187.95" stroke="#6a6a6a"/><line x1="718.12" y1="172.58" x2="720.22" y2="174.68" stroke="#4c4c4c"/><line x1="657.05" y1="183.47" x2="658.65" y2="181.87" stroke="#4c4c4c"/><line x1="594.99" y1="171.27" x2="596.52" y2="172.8" stroke="#7a7a7a"/><line x1="704.9" y1="188.05" x2="707.1" y2="185.85" stroke="#4c4c4c"/><line x1="711.29" y1="160.85" x2="713.12" y2="159.02" stroke="#6a6a6a"/><line x1="672.18" y1="170.18" x2="674.23" y2="172.23" stroke="#6a6a6a"/><line x1="724.24" y1="184.65" x2="726.06" y2="186.48" stroke="#5a5a5a"/><line x1="714.53" y1="170.74" x2="716.43" y2="168.84" stroke="#5a5a5a"/><line x1="671.44" y1="190.41" x2="672.96" y2="191.94" stroke="#6a6a6a"/><line x1="731.31" y1="171.8" x2="733.44" y2="173.93" stroke="#6a6a6a"/><line x1="623.2" y1="185.32" x2="625.31" y2="183.21" stroke="#7a7a7a"/><line x1="698.24" y1="192.73" x2="699.78" y2="191.19" stroke="#6a6a6a"/><line x1="694.23" y1="182.97" x2="696.24" y2="184.97" stroke="#4c4c4c"/><line x1="629.14" y1="159.43" x2="631.1" y2="161.38" stroke="#4c4c4c"/><line x1="683.37" y1="180.02" x2="685.36" y2="182.01" stroke="#5a5a5a"/><line x1="680.48" y1="181.47" x2="682.12" y2="183.11" stroke="#5a5a5a"/><line x1="671.23" y1="161.18" x2="672.69" y2="162.64" stroke="#7a7a7a"/><line x1="687.84" y1="177.29" x2="689.94" y2="175.19" stroke="#6a6a6a"/><line x1="725.81" y1="167" x2="727.52" y2="168.72" stroke="#7a7a7a"/><line x1="739.05" y1="189.35" x2="741.14" y2="187.26" stroke="#4c4c4c"/><line x1="639.11" y1="165.4" x2="640.82" y2="167.11" stroke="#5a5a5a"/><line x1="718.95" y1="186.8" x2="720.89" y2="184.87" stroke="#5a5a5a"/><line x1="717.78" y1="162.62" x2="719.25" y2="161.15" stroke="#4c4c4c"/><line x1="617.89" y1="163.47" x2="619.37" y2="164.95" stroke="#7a7a7a"/><line x1="628.71" y1="161.48" x2="630.58" y2="163.35" stroke="#5a5a5a"/><line x1="634.87" y1="169.37" x2="637.01" y2="167.23" stroke="#4c4c4c"/><line x1="672.09" y1="166.13" x2="673.78" y2="164.44" stroke="#4c4c4c"/><line x1="645.76" y1="175.91" x2="647.25" y2="177.4" stroke="#6a6a6a"/><line x1="633.34" y1="170.98" x2="635.35" y2="173" stroke="#6a6a6a"/><line x1="723.63" y1="183.47" x2="725.71" y2="185.56" stroke="#7a7a7a"/><line x1="630.25" y1="160.49" x2="631.73" y2="159.01" stroke="#4c4c4c"/><line x1="625.89" y1="159.59" x2="627.64" y2="161.34" stroke="#5a5a5a"/><line x1="659.85" y1="182.1" x2="661.32" y2="183.58" stroke="#7a7a7a"/><line x1="662.73" y1="165.99" x2="664.32" y2="164.41" stroke="#5a5a5a"/><line x1="608.43" y1="162.57" x2="610.11" y2="160.88" stroke="#6a6a6a"/><line x1="731.45" y1="176.97" x2="732.9" y2="178.43" stroke="#7a7a7a"/><line x1="702.23" y1="179.01" x2="704.33" y2="176.91" stroke="#5a5a5a"/><line x1="599.77" y1="172.94" x2="601.22" y2="174.39" stroke="#4c4c4c"/><line x1="622.59" y1="163.03" x2="624.21" y2="161.42" stroke="#6a6a6a"/><line x1="601.85" y1="173.53" x2="603.51" y2="175.19" stroke="#4c4c4c"/><line x1="690.32" y1="172.1" x2="691.82" y2="170.6" stroke="#7a7a7a"/><line x1="629.2" y1="175.26" x2="631.1" y2="177.16" stroke="#7a7a7a"/><line x1="693.72" y1="161.52" x2="695.63" y2="159.6" stroke="#6a6a6a"/><line x1="688.28" y1="165.28" x2="690.32" y2="163.24" stroke="#5a5a5a"/><line x1="719.21" y1="170.5" x2="721.33" y2="172.62" stroke="#6a6a6a"/><line x1="592.86" y1="175.53" x2="594.84" y2="173.55" stroke="#6a6a6a"/><line x1="718.09" y1="167.76" x2="720.27" y2="169.94" stroke="#4c4c4c"/><line x1="702.91" y1="179.71" x2="705.07" y2="177.56" stroke="#5a5a5a"/><line x1="692.42" y1="158.83" x2="694.58" y2="160.99" stroke="#5a5a5a"/><line x1="662.07" y1="177.36" x2="664.23" y2="175.2" stroke="#6a6a6a"/><line x1="683.77" y1="165.56" x2="685.84" y2="167.63" stroke="#4c4c4c"/><line x1="740.85" y1="175.27" x2="742.43" y2="173.69" stroke="#5a5a5a"/><line x1="651.66" y1="169.79" x2="653.6" y2="171.72" stroke="#4c4c4c"/><line x1="706.12" y1="166.29" x2="708.19" y2="168.36" stroke="#4c4c4c"/><line x1="681.7" y1="176" x2="683.54" y2="174.16" stroke="#6a6a6a"/><line x1="629.9" y1="178.75" x2="631.52" y2="177.13" stroke="#6a6a6a"/><line x1="727.48" y1="193" x2="728.99" y2="191.5" stroke="#5a5a5a"/><line x1="615.96" y1="174.1" x2="617.43" y2="172.64" stroke="#7a7a7a"/><line x1="628.74" y1="177.41" x2="630.32" y2="178.99" stroke="#4c4c4c"/><line x1="736.12" y1="183.59" x2="737.59" y2="182.12" stroke="#5a5a5a"/><line x1="736.09" y1="188.42" x2="737.54" y2="189.88" stroke="#6a6a6a"/><line x1="653.56" y1="175.82" x2="655.64" y2="177.9" stroke="#7a7a7a"/><line x1="627.18" y1="182.02" x2="629.05" y2="180.15" stroke="#6a6a6a"/><line x1="656.18" y1="179.73" x2="657.79" y2="178.12" stroke="#6a6a6a"/><line x1="719.63" y1="191.83" x2="721.55" y2="189.92" stroke="#4c4c4c"/><line x1="734.11" y1="166.92" x2="736.17" y2="168.97" stroke="#7a7a7a"/><line x1="622.32" y1="171.33" x2="624.46" y2="169.19" stroke="#7a7a7a"/><line x1="641.49" y1="183.37" x2="643.65" y2="185.54" stroke="#7a7a7a"/><line x1="734.67" y1="186.06" x2="736.26" y2="184.48" stroke="#5a5a5a"/><line x1="734.51" y1="165.43" x2="736.24" y2="167.16" stroke="#6a6a6a"/><line x1="646.34" y1="183.58" x2="648.05" y2="181.88" stroke="#4c4c4c"/><line x1="609.87" y1="167.59" x2="611.45" y2="166.01" stroke="#5a5a5a"/><line x1="596" y1="164.82" x2="597.72" y2="163.1" stroke="#5a5a5a"/><line x1="661.2" y1="175.23" x2="662.86" y2="173.56" stroke="#4c4c4c"/><line x1="696.54" y1="174.61" x2="698.08" y2="173.07" stroke="#5a5a5a"/><line x1="692.25" y1="184.26" x2="693.96" y2="185.98" stroke="#4c4c4c"/><line x1="716.04" y1="179.61" x2="717.95" y2="181.51" stroke="#4c4c4c"/><line x1="705.78" y1="168.57" x2="707.38" y2="170.17" stroke="#7a7a7a"/><line x1="718.18" y1="187.27" x2="720.05" y2="189.14" stroke="#5a5a5a"/><line x1="680.02" y1="172.1" x2="681.87" y2="173.95" stroke="#5a5a5a"/><line x1="710.68" y1="186.22" x2="712.15" y2="187.69" stroke="#5a5a5a"/><line x1="616.51" y1="164.16" x2="618.63" y2="166.29" stroke="#5a5a5a"/><line x1="594.36" y1="161.47" x2="595.83" y2="162.94" stroke="#6a6a6a"/><line x1="661.23" y1="162.75" x2="662.91" y2="161.07" stroke="#7a7a7a"/><line x1="702.94" y1="187.36" x2="704.61" y2="189.03" stroke="#4c4c4c"/><line x1="614.95" y1="163.45" x2="616.85" y2="161.55" stroke="#6a6a6a"/><line x1="709.58" y1="184.24" x2="711.26" y2="182.57" stroke="#6a6a6a"/><line x1="618.87" y1="189.05" x2="620.72" y2="190.89" stroke="#6a6a6a"/><line x1="716.69" y1="172.55" x2="718.33" y2="174.19" stroke="#6a6a6a"/><line x1="637.38" y1="160.98" x2="639.16" y2="162.76" stroke="#6a6a6a"/><line x1="619.21" y1="181.69" x2="621.25" y2="183.74" stroke="#5a5a5a"/><line x1="714.52" y1="174.1" x2="716.27" y2="175.85" stroke="#6a6a6a"/><line x1="730.69" y1="167.61" x2="732.76" y2="165.54" stroke="#6a6a6a"/><line x1="703.37" y1="176.85" x2="705.19" y2="175.03" stroke="#5a5a5a"/><line x1="595.35" y1="184.05" x2="596.93" y2="182.47" stroke="#6a6a6a"/><line x1="686.65" y1="181.23" x2="688.54" y2="183.12" stroke="#6a6a6a"/><line x1="738.58" y1="191.09" x2="740.69" y2="193.21" stroke="#6a6a6a"/><line x1="599.98" y1="175.52" x2="601.65" y2="173.85" stroke="#7a7a7a"/><line x1="638.16" y1="183.88" x2="639.6" y2="182.43" stroke="#5a5a5a"/><line x1="634.78" y1="169.37" x2="636.37" y2="170.96" stroke="#6a6a6a"/><line x1="660.11" y1="166.73" x2="661.6" y2="165.24" stroke="#7a7a7a"/><line x1="670.25" y1="184.19" x2="671.74" y2="185.68" stroke="#7a7a7a"/><line x1="656.16" y1="160.67" x2="658.2" y2="162.71" stroke="#7a7a7a"/><line x1="638.31" y1="176.13" x2="640.28" y2="174.16" stroke="#7a7a7a"/><line x1="707.79" y1="182.44" x2="709.45" y2="184.1" stroke="#5a5a5a"/><line x1="705.96" y1="161.31" x2="708.1" y2="163.45" stroke="#5a5a5a"/><line x1="719.48" y1="189.52" x2="721.33" y2="191.37" stroke="#7a7a7a"/><line x1="693.28" y1="161.62" x2="695.21" y2="159.69" stroke="#7a7a7a"/><line x1="668.6" y1="163.27" x2="670.55" y2="165.23" stroke="#5a5a5a"/><line x1="634.01" y1="183.93" x2="635.52" y2="185.44" stroke="#5a5a5a"/><line x1="638.02" y1="187.29" x2="639.91" y2="185.41" stroke="#6a6a6a"/><line x1="626.47" y1="173.21" x2="628.52" y2="171.17" stroke="#4c4c4c"/><line x1="608.93" y1="166.38" x2="611.1" y2="168.55" stroke="#5a5a5a"/><line x1="629.43" y1="184.85" x2="631.54" y2="182.74" stroke="#7a7a7a"/><line x1="624.49" y1="166.59" x2="626.54" y2="164.54" stroke="#7a7a7a"/><line x1="698.3" y1="182.82" x2="699.8" y2="184.33" stroke="#7a7a7a"/><line x1="606.74" y1="185.34" x2="608.41" y2="187.02" stroke="#5a5a5a"/><line x1="628.73" y1="173.79" x2="630.92" y2="175.99" stroke="#4c4c4c"/><line x1="637.54" y1="182.38" x2="639.62" y2="184.46" stroke="#7a7a7a"/><line x1="599.18" y1="160.3" x2="600.76" y2="158.71" stroke="#5a5a5a"/><line x1="709.06" y1="167.13" x2="710.49" y2="168.56" stroke="#4c4c4c"/><line x1="624.68" y1="170.98" x2="626.79" y2="168.87" stroke="#4c4c4c"/><line x1="646.92" y1="170.22" x2="648.62" y2="171.93" stroke="#6a6a6a"/><line x1="592.39" y1="180.66" x2="594.39" y2="182.67" stroke="#5a5a5a"/><line x1="739.29" y1="184.38" x2="741.3" y2="182.38" stroke="#4c4c4c"/><line x1="666.41" y1="171.06" x2="668.16" y2="169.32" stroke="#6a6a6a"/><line x1="626.55" y1="181.93" x2="628.49" y2="183.86" stroke="#4c4c4c"/><line x1="725.23" y1="164.34" x2="726.89" y2="165.99" stroke="#5a5a5a"/><line x1="709.61" y1="188.23" x2="711.79" y2="186.05" stroke="#7a7a7a"/><line x1="708.04" y1="184.11" x2="710.14" y2="186.21" stroke="#4c4c4c"/><line x1="644.96" y1="160.85" x2="646.45" y2="162.35" stroke="#5a5a5a"/><line x1="624.88" y1="161.09" x2="626.34" y2="162.54" stroke="#6a6a6a"/><line x1="719.83" y1="181.32" x2="721.48" y2="179.67" stroke="#7a7a7a"/><line x1="636.99" y1="181.3" x2="639.1" y2="179.18" stroke="#4c4c4c"/><line x1="725.81" y1="184.39" x2="727.45" y2="182.74" stroke="#5a5a5a"/><line x1="680.54" y1="191.17" x2="682.66" y2="193.29" stroke="#7a7a7a"/><line x1="657.43" y1="158.8" x2="659.59" y2="160.97" stroke="#6a6a6a"/><line x1="621.73" y1="176.23" x2="623.88" y2="178.37" stroke="#5a5a5a"/><line x1="660.11" y1="177.46" x2="661.53" y2="178.88" stroke="#7a7a7a"/><line x1="740.69" y1="166.35" x2="742.33" y2="164.71" stroke="#5a5a5a"/><line x1="623.87" y1="182.91" x2="625.91" y2="184.95" stroke="#4c4c4c"/><line x1="723.27" y1="192.93" x2="725.02" y2="191.18" stroke="#5a5a5a"/><line x1="730.33" y1="166.94" x2="731.97" y2="165.3" stroke="#6a6a6a"/><line x1="664.58" y1="183.47" x2="665.99" y2="184.88" stroke="#7a7a7a"/><line x1="740.68" y1="176.89" x2="742.71" y2="178.92" stroke="#5a5a5a"/><line x1="727.21" y1="178.59" x2="729.21" y2="176.58" stroke="#5a5a5a"/><line x1="729.57" y1="165.59" x2="730.99" y2="167.01" stroke="#7a7a7a"/><line x1="730.82" y1="178.62" x2="732.34" y2="177.11" stroke="#5a5a5a"/><line x1="654.36" y1="180.05" x2="655.97" y2="178.45" stroke="#6a6a6a"/><line x1="653.74" y1="175.45" x2="655.51" y2="177.22" stroke="#5a5a5a"/><line x1="711.3" y1="188.36" x2="712.83" y2="189.89" stroke="#4c4c4c"/><line x1="625.57" y1="185.67" x2="627.15" y2="187.25" stroke="#6a6a6a"/><line x1="737.36" y1="183.91" x2="738.84" y2="182.42" stroke="#6a6a6a"/><line x1="631.37" y1="185.93" x2="633.51" y2="188.07" stroke="#7a7a7a"/><line x1="732.57" y1="173.28" x2="734.04" y2="174.75" stroke="#7a7a7a"/><line x1="611.89" y1="175.54" x2="613.8" y2="173.63" stroke="#7a7a7a"/><line x1="705.86" y1="166.76" x2="707.42" y2="168.32" stroke="#7a7a7a"/><line x1="644.23" y1="172.98" x2="645.88" y2="174.62" stroke="#7a7a7a"/><line x1="603.44" y1="166.66" x2="605.09" y2="165.01" stroke="#6a6a6a"/><line x1="653.22" y1="188.06" x2="655.24" y2="186.04" stroke="#7a7a7a"/><line x1="732.63" y1="174.18" x2="734.19" y2="175.74" stroke="#6a6a6a"/><line x1="625.63" y1="170.18" x2="627.34" y2="171.89" stroke="#7a7a7a"/><line x1="605.75" y1="184.41" x2="607.42" y2="182.74" stroke="#6a6a6a"/><line x1="660.47" y1="185.96" x2="662.31" y2="187.79" stroke="#7a7a7a"/><line x1="643.67" y1="181.23" x2="645.81" y2="179.09" stroke="#7a7a7a"/><line x1="683.63" y1="163.67" x2="685.55" y2="165.59" stroke="#6a6a6a"/><line x1="684.75" y1="182.59" x2="686.47" y2="180.87" stroke="#6a6a6a"/><line x1="641.66" y1="191.41" x2="643.5" y2="189.57" stroke="#6a6a6a"/><line x1="633.34" y1="162.9" x2="635.47" y2="165.02" stroke="#4c4c4c"/><line x1="711.83" y1="173.15" x2="713.45" y2="174.77" stroke="#4c4c4c"/><line x1="673.13" y1="186.3" x2="674.79" y2="184.64" stroke="#5a5a5a"/><line x1="640.52" y1="173.14" x2="642.4" y2="171.25" stroke="#5a5a5a"/><line x1="646.3" y1="171.37" x2="647.99" y2="173.06" stroke="#4c4c4c"/><line x1="724.47" y1="169.84" x2="726.27" y2="168.05" stroke="#5a5a5a"/><line x1="601.88" y1="165.38" x2="603.87" y2="167.37" stroke="#6a6a6a"/><line x1="637.36" y1="165.82" x2="639.11" y2="167.57" stroke="#5a5a5a"/><line x1="732.66" y1="176.5" x2="734.8" y2="178.64" stroke="#6a6a6a"/><line x1="655.69" y1="166.83" x2="657.69" y2="164.83" stroke="#7a7a7a"/><line x1="604.49" y1="187.13" x2="606.5" y2="189.13" stroke="#4c4c4c"/><line x1="596.47" y1="160.59" x2="597.97" y2="162.08" stroke="#4c4c4c"/><line x1="697.14" y1="179.42" x2="698.63" y2="180.91" stroke="#5a5a5a"/><line x1="617.71" y1="178.51" x2="619.64" y2="180.45" stroke="#4c4c4c"/><line x1="608.83" y1="188.44" x2="610.49" y2="186.78" stroke="#4c4c4c"/><line x1="657.8" y1="174.64" x2="659.22" y2="176.05" stroke="#6a6a6a"/><line x1="617.68" y1="163.65" x2="619.36" y2="165.33" stroke="#7a7a7a"/><line x1="670.42" y1="182.54" x2="671.85" y2="181.11" stroke="#5a5a5a"/><line x1="658.39" y1="189.35" x2="660.27" y2="187.47" stroke="#7a7a7a"/><line x1="667.59" y1="163.62" x2="669.02" y2="165.06" stroke="#7a7a7a"/><line x1="616.82" y1="171.1" x2="618.77" y2="173.05" stroke="#5a5a5a"/><line x1="717.36" y1="170.39" x2="719.32" y2="172.35" stroke="#7a7a7a"/><line x1="699.82" y1="171.82" x2="701.99" y2="173.99" stroke="#4c4c4c"/><line x1="724.84" y1="164.66" x2="727.03" y2="166.86" stroke="#5a5a5a"/><line x1="739.49" y1="182.89" x2="741.14" y2="181.24" stroke="#4c4c4c"/><line x1="614.4" y1="188.53" x2="616.2" y2="186.74" stroke="#5a5a5a"/><line x1="664.69" y1="187.4" x2="666.12" y2="185.96" stroke="#5a5a5a"/><line x1="676.68" y1="190.19" x2="678.55" y2="188.32" stroke="#5a5a5a"/><line x1="603.87" y1="185.73" x2="605.35" y2="184.25" stroke="#5a5a5a"/><line x1="681.49" y1="174.83" x2="683.6" y2="172.73" stroke="#5a5a5a"/><line x1="700.46" y1="181.52" x2="701.93" y2="180.04" stroke="#4c4c4c"/><line x1="622.91" y1="181.77" x2="624.53" y2="180.15" stroke="#6a6a6a"/><line x1="728.58" y1="191.53" x2="730.77" y2="189.33" stroke="#4c4c4c"/><line x1="659.16" y1="188.69" x2="660.88" y2="186.97" stroke="#5a5a5a"/><line x1="597.43" y1="187.95" x2="599.48" y2="185.9" stroke="#5a5a5a"/><line x1="680.91" y1="186.88" x2="682.9" y2="188.87" stroke="#4c4c4c"/><line x1="686.36" y1="171.05" x2="687.96" y2="172.65" stroke="#7a7a7a"/><line x1="662.24" y1="161.31" x2="664.32" y2="163.39" stroke="#6a6a6a"/><line x1="660.29" y1="175.87" x2="662.26" y2="173.9" stroke="#4c4c4c"/><line x1="716.57" y1="178.38" x2="718.73" y2="180.55" stroke="#6a6a6a"/><line x1="716.65" y1="167.27" x2="718.18" y2="168.8" stroke="#7a7a7a"/><line x1="719.5" y1="166.04" x2="721.11" y2="167.65" stroke="#6a6a6a"/><line x1="614.87" y1="191.37" x2="616.51" y2="193.01" stroke="#7a7a7a"/><line x1="670.67" y1="186.66" x2="672.43" y2="188.42" stroke="#7a7a7a"/><line x1="727.77" y1="186.9" x2="729.72" y2="184.95" stroke="#6a6a6a"/><line x1="688.61" y1="174.36" x2="690.43" y2="176.18" stroke="#4c4c4c"/><line x1="614.69" y1="182.85" x2="616.53" y2="181.01" stroke="#6a6a6a"/><line x1="728.04" y1="189.87" x2="729.81" y2="188.1" stroke="#4c4c4c"/><line x1="605.27" y1="176.91" x2="607.45" y2="174.73" stroke="#6a6a6a"/><line x1="642.14" y1="161.78" x2="643.84" y2="163.48" stroke="#6a6a6a"/><line x1="665.57" y1="167.94" x2="667.23" y2="169.6" stroke="#4c4c4c"/><line x1="706.34" y1="170.81" x2="708.11" y2="169.04" stroke="#7a7a7a"/><line x1="684.97" y1="179.05" x2="687.13" y2="176.89" stroke="#7a7a7a"/><line x1="733.18" y1="179.38" x2="735.02" y2="181.21" stroke="#4c4c4c"/><line x1="618.97" y1="164.93" x2="620.61" y2="166.56" stroke="#5a5a5a"/><line x1="653.93" y1="165.65" x2="655.39" y2="167.1" stroke="#6a6a6a"/><line x1="690.92" y1="180.87" x2="693.06" y2="183.01" stroke="#5a5a5a"/><line x1="630.8" y1="192.21" x2="632.27" y2="190.74" stroke="#4c4c4c"/><line x1="725.06" y1="183.14" x2="726.87" y2="181.33" stroke="#6a6a6a"/><line x1="592.69" y1="165.38" x2="594.23" y2="166.92" stroke="#5a5a5a"/><line x1="622.19" y1="164.42" x2="624.06" y2="162.56" stroke="#7a7a7a"/><line x1="651.61" y1="183.1" x2="653.07" y2="181.65" stroke="#5a5a5a"/><line x1="715.2" y1="189.68" x2="717.01" y2="187.86" stroke="#4c4c4c"/><line x1="721.59" y1="159.51" x2="723.01" y2="160.93" stroke="#7a7a7a"/><line x1="684.35" y1="181.7" x2="685.88" y2="180.17" stroke="#6a6a6a"/><line x1="644.62" y1="188.22" x2="646.22" y2="189.82" stroke="#6a6a6a"/><line x1="614.32" y1="163.46" x2="616.19" y2="165.33" stroke="#6a6a6a"/><line x1="637.22" y1="178.84" x2="638.69" y2="177.36" stroke="#7a7a7a"/><line x1="660.1" y1="183.11" x2="662.08" y2="185.09" stroke="#7a7a7a"/><line x1="611.9" y1="190.57" x2="613.3" y2="189.16" stroke="#6a6a6a"/><line x1="706.76" y1="187.82" x2="708.63" y2="185.95" stroke="#4c4c4c"/><line x1="661.96" y1="159.77" x2="664.14" y2="161.95" stroke="#7a7a7a"/><line x1="739.15" y1="166.62" x2="740.58" y2="168.05" stroke="#6a6a6a"/><line x1="601.11" y1="161.36" x2="602.77" y2="163.03" stroke="#4c4c4c"/><line x1="688.13" y1="174.22" x2="689.78" y2="172.57" stroke="#6a6a6a"/><line x1="693.68" y1="164.27" x2="695.43" y2="166.02" stroke="#7a7a7a"/><line x1="730.04" y1="177.86" x2="731.84" y2="179.65" stroke="#5a5a5a"/><line x1="633.57" y1="160.08" x2="635.01" y2="161.52" stroke="#7a7a7a"/><line x1="615.87" y1="182.34" x2="617.62" y2="180.59" stroke="#5a5a5a"/><line x1="626.59" y1="175.8" x2="628.55" y2="173.84" stroke="#5a5a5a"/><line x1="620.32" y1="163.36" x2="622.27" y2="161.41" stroke="#4c4c4c"/><line x1="627.94" y1="180.36" x2="629.61" y2="182.03" stroke="#7a7a7a"/><line x1="653.34" y1="186.47" x2="654.8" y2="187.93" stroke="#5a5a5a"/><line x1="599.23" y1="164.99" x2="600.84" y2="166.6" stroke="#7a7a7a"/><line x1="666.17" y1="176.3" x2="667.72" y2="174.74" stroke="#7a7a7a"/><line x1="634.32" y1="191.16" x2="636.38" y2="189.11" stroke="#6a6a6a"/><line x1="611.97" y1="174.61" x2="613.47" y2="176.12" stroke="#6a6a6a"/><line x1="677.62" y1="190.8" x2="679.05" y2="192.24" stroke="#5a5a5a"/><line x1="711.14" y1="168.16" x2="712.71" y2="166.58" stroke="#4c4c4c"/><line x1="616.25" y1="187.58" x2="617.98" y2="185.86" stroke="#6a6a6a"/><line x1="737.72" y1="173.16" x2="739.12" y2="174.57" stroke="#7a7a7a"/><line x1="720.62" y1="181.15" x2="722.14" y2="179.62" stroke="#5a5a5a"/><line x1="607.84" y1="171.01" x2="609.77" y2="172.95" stroke="#6a6a6a"/><line x1="596.81" y1="172.15" x2="598.91" y2="170.05" stroke="#7a7a7a"/><line x1="736.02" y1="179.55" x2="738.18" y2="181.71" stroke="#4c4c4c"/><line x1="668.58" y1="176.18" x2="670.25" y2="174.51" stroke="#4c4c4c"/><line x1="667.39" y1="179.58" x2="668.97" y2="178" stroke="#6a6a6a"/><line x1="666.22" y1="172.27" x2="668.15" y2="174.2" stroke="#5a5a5a"/><line x1="670.37" y1="169.55" x2="672.39" y2="167.54" stroke="#4c4c4c"/><line x1="668.14" y1="168.74" x2="670.28" y2="166.6" stroke="#4c4c4c"/><line x1="634.81" y1="187.44" x2="636.23" y2="186.01" stroke="#7a7a7a"/><line x1="638.67" y1="182.85" x2="640.66" y2="180.87" stroke="#4c4c4c"/><line x1="659" y1="161.48" x2="660.69" y2="163.17" stroke="#6a6a6a"/><line x1="738.2" y1="174.67" x2="740.19" y2="172.68" stroke="#4c4c4c"/><line x1="694.94" y1="169.17" x2="696.39" y2="167.72" stroke="#7a7a7a"/><line x1="595.45" y1="191.96" x2="597.27" y2="190.14" stroke="#6a6a6a"/><line x1="641.64" y1="174" x2="643.62" y2="175.98" stroke="#7a7a7a"/><line x1="605.78" y1="164.9" x2="607.89" y2="167.02" stroke="#6a6a6a"/><line x1="724.94" y1="188.39" x2="727.03" y2="186.29" stroke="#4c4c4c"/><line x1="653.68" y1="168.71" x2="655.86" y2="170.89" stroke="#6a6a6a"/><line x1="643.43" y1="160.52" x2="645.37" y2="162.46" stroke="#4c4c4c"/><line x1="596.29" y1="165.9" x2="597.73" y2="164.45" stroke="#6a6a6a"/><line x1="613.48" y1="184.32" x2="615.28" y2="186.13" stroke="#4c4c4c"/><line x1="656.58" y1="173.48" x2="658.46" y2="171.6" stroke="#5a5a5a"/><line x1="649.36" y1="166.61" x2="651.38" y2="164.58" stroke="#5a5a5a"/><line x1="704.87" y1="169.45" x2="706.81" y2="171.39" stroke="#6a6a6a"/><line x1="593.62" y1="182.56" x2="595.51" y2="180.67" stroke="#5a5a5a"/><line x1="620.5" y1="186.49" x2="622.63" y2="188.62" stroke="#7a7a7a"/><line x1="678.69" y1="177.52" x2="680.35" y2="179.18" stroke="#4c4c4c"/><line x1="668.27" y1="188.13" x2="669.74" y2="186.66" stroke="#5a5a5a"/><line x1="626.06" y1="175.05" x2="628.25" y2="172.85" stroke="#5a5a5a"/><line x1="725.93" y1="162.21" x2="728.12" y2="164.4" stroke="#7a7a7a"/><line x1="627.23" y1="177.91" x2="628.94" y2="179.61" stroke="#4c4c4c"/><line x1="631.04" y1="184.07" x2="632.82" y2="185.85" stroke="#5a5a5a"/><line x1="690.2" y1="173.71" x2="692.08" y2="175.59" stroke="#7a7a7a"/><line x1="672.84" y1="171.18" x2="674.88" y2="173.22" stroke="#4c4c4c"/><line x1="704.39" y1="182.96" x2="706.54" y2="185.11" stroke="#4c4c4c"/><line x1="660.17" y1="165.77" x2="661.57" y2="167.17" stroke="#5a5a5a"/><line x1="618.25" y1="160.52" x2="619.97" y2="158.79" stroke="#4c4c4c"/><line x1="728.7" y1="170.06" x2="730.4" y2="171.76" stroke="#5a5a5a"/><line x1="667.34" y1="174.85" x2="669.04" y2="176.54" stroke="#6a6a6a"/><line x1="722.48" y1="172.07" x2="724.15" y2="170.4" stroke="#4c4c4c"/><line x1="704.89" y1="178.79" x2="706.86" y2="180.76" stroke="#4c4c4c"/><line x1="689.28" y1="177.78" x2="690.94" y2="176.12" stroke="#5a5a5a"/><line x1="641.28" y1="174.27" x2="643.44" y2="172.11" stroke="#6a6a6a"/><line x1="650.92" y1="165.78" x2="652.85" y2="163.85" stroke="#4c4c4c"/><line x1="651.45" y1="168.15" x2="653.48" y2="166.12" stroke="#6a6a6a"/><line x1="715.46" y1="170.8" x2="717.45" y2="172.79" stroke="#7a7a7a"/><line x1="623.53" y1="190.03" x2="625.47" y2="191.98" stroke="#7a7a7a"/><line x1="672.56" y1="184.85" x2="674.39" y2="186.68" stroke="#6a6a6a"/><line x1="694.76" y1="167.03" x2="696.67" y2="168.94" stroke="#6a6a6a"/><line x1="689.61" y1="187.21" x2="691.25" y2="188.84" stroke="#7a7a7a"/><line x1="700.74" y1="163.96" x2="702.36" y2="162.34" stroke="#6a6a6a"/><line x1="672.53" y1="178.72" x2="674.55" y2="180.74" stroke="#7a7a7a"/><line x1="702.35" y1="170.74" x2="703.85" y2="169.24" stroke="#7a7a7a"/><line x1="657.83" y1="190.28" x2="659.89" y2="192.34" stroke="#5a5a5a"/><line x1="682.33" y1="159.52" x2="684.47" y2="161.66" stroke="#4c4c4c"/><line x1="711.56" y1="160.74" x2="713.68" y2="162.87" stroke="#5a5a5a"/><line x1="683.68" y1="167.77" x2="685.15" y2="166.3" stroke="#6a6a6a"/><line x1="719.98" y1="167.22" x2="722.1" y2="165.1" stroke="#5a5a5a"/><line x1="610.22" y1="170.66" x2="612.34" y2="172.79" stroke="#5a5a5a"/><line x1="598.13" y1="183.47" x2="600.07" y2="181.53" stroke="#5a5a5a"/><line x1="721.31" y1="192.84" x2="723.06" y2="191.09" stroke="#5a5a5a"/><line x1="712.48" y1="182.72" x2="714.06" y2="184.31" stroke="#7a7a7a"/><line x1="682.72" y1="188.53" x2="684.23" y2="187.02" stroke="#7a7a7a"/><line x1="708.79" y1="173.68" x2="710.35" y2="175.23" stroke="#4c4c4c"/><line x1="631.26" y1="189.87" x2="633.07" y2="191.68" stroke="#4c4c4c"/><line x1="650.21" y1="167.64" x2="651.78" y2="166.06" stroke="#7a7a7a"/><line x1="667.37" y1="176.65" x2="668.79" y2="175.23" stroke="#7a7a7a"/><line x1="622.01" y1="171.89" x2="623.99" y2="169.9" stroke="#6a6a6a"/><line x1="669.23" y1="165.62" x2="671.37" y2="163.49" stroke="#6a6a6a"/><line x1="708.72" y1="166.98" x2="710.69" y2="165" stroke="#5a5a5a"/><line x1="630.36" y1="171.68" x2="631.85" y2="170.19" stroke="#7a7a7a"/><line x1="679.78" y1="186.28" x2="681.44" y2="187.94" stroke="#4c4c4c"/><line x1="628.72" y1="185.83" x2="630.56" y2="187.67" stroke="#6a6a6a"/><line x1="634.35" y1="188.81" x2="636.38" y2="186.78" stroke="#7a7a7a"/><line x1="656.01" y1="180.5" x2="658.17" y2="182.67" stroke="#5a5a5a"/><line x1="613.89" y1="166.21" x2="616.01" y2="164.09" stroke="#6a6a6a"/><line x1="687.48" y1="172.92" x2="689.1" y2="174.55" stroke="#6a6a6a"/><line x1="699.17" y1="186.31" x2="700.7" y2="187.84" stroke="#7a7a7a"/><line x1="687.76" y1="174.71" x2="689.24" y2="176.19" stroke="#7a7a7a"/><line x1="596.33" y1="185.6" x2="598.18" y2="183.75" stroke="#6a6a6a"/><line x1="718.22" y1="190.89" x2="720.12" y2="192.79" stroke="#6a6a6a"/><line x1="687.97" y1="170.8" x2="689.75" y2="172.58" stroke="#6a6a6a"/><line x1="694.41" y1="163.61" x2="696.25" y2="165.45" stroke="#5a5a5a"/><line x1="716.79" y1="187.33" x2="718.23" y2="188.77" stroke="#6a6a6a"/><line x1="603.39" y1="168.52" x2="604.86" y2="167.05" stroke="#6a6a6a"/><line x1="628.22" y1="170.23" x2="629.99" y2="168.46" stroke="#6a6a6a"/><line x1="709.19" y1="182.46" x2="710.68" y2="183.95" stroke="#5a5a5a"/><line x1="607.81" y1="184.97" x2="609.57" y2="183.21" stroke="#5a5a5a"/><line x1="740.35" y1="167.07" x2="741.78" y2="165.64" stroke="#7a7a7a"/><line x1="688.55" y1="177.79" x2="690.13" y2="176.21" stroke="#5a5a5a"/><line x1="683.43" y1="187" x2="685.43" y2="185" stroke="#7a7a7a"/><line x1="631.67" y1="187.72" x2="633.79" y2="185.59" stroke="#6a6a6a"/><line x1="689.88" y1="176.97" x2="691.65" y2="178.74" stroke="#5a5a5a"/><line x1="602.44" y1="170.55" x2="604.55" y2="172.65" stroke="#5a5a5a"/><line x1="629.62" y1="174.75" x2="631.15" y2="176.28" stroke="#7a7a7a"/><line x1="713.47" y1="187.32" x2="715.21" y2="189.07" stroke="#6a6a6a"/><line x1="687.06" y1="180.08" x2="688.98" y2="182" stroke="#7a7a7a"/><line x1="656.89" y1="171.1" x2="658.77" y2="169.22" stroke="#5a5a5a"/><line x1="609.94" y1="182.3" x2="611.57" y2="180.67" stroke="#4c4c4c"/><line x1="710.22" y1="181.32" x2="711.75" y2="182.85" stroke="#5a5a5a"/><line x1="740.02" y1="170.32" x2="742.05" y2="168.3" stroke="#6a6a6a"/><line x1="683.05" y1="179.39" x2="685.04" y2="181.38" stroke="#5a5a5a"/><line x1="668.93" y1="170.43" x2="671.11" y2="168.26" stroke="#5a5a5a"/><line x1="655.8" y1="168.07" x2="657.97" y2="165.89" stroke="#7a7a7a"/><line x1="687.71" y1="187.67" x2="689.42" y2="185.95" stroke="#5a5a5a"/><line x1="678.76" y1="180.07" x2="680.37" y2="181.68" stroke="#6a6a6a"/><line x1="656.85" y1="183.71" x2="658.47" y2="185.33" stroke="#6a6a6a"/><line x1="654.33" y1="189.22" x2="656.45" y2="191.34" stroke="#5a5a5a"/><line x1="675.03" y1="173.87" x2="676.45" y2="172.44" stroke="#4c4c4c"/><line x1="727.31" y1="172.92" x2="729.33" y2="174.93" stroke="#5a5a5a"/><line x1="651.32" y1="177.13" x2="653.37" y2="175.07" stroke="#4c4c4c"/><line x1="609.82" y1="174.32" x2="611.23" y2="175.73" stroke="#6a6a6a"/><line x1="686.45" y1="185.31" x2="688.3" y2="187.16" stroke="#6a6a6a"/><line x1="634.12" y1="190.4" x2="635.88" y2="192.16" stroke="#4c4c4c"/><line x1="716.61" y1="160.04" x2="718.6" y2="162.04" stroke="#7a7a7a"/><line x1="636.61" y1="162.16" x2="638.1" y2="160.67" stroke="#5a5a5a"/><line x1="676.4" y1="167.58" x2="678.47" y2="165.51" stroke="#7a7a7a"/><line x1="634.26" y1="179.05" x2="635.68" y2="177.63" stroke="#4c4c4c"/><line x1="635.46" y1="167.56" x2="637.38" y2="169.47" stroke="#5a5a5a"/><line x1="711.05" y1="174.97" x2="712.63" y2="176.55" stroke="#4c4c4c"/><line x1="666.93" y1="177.02" x2="668.91" y2="175.04" stroke="#6a6a6a"/><line x1="652.61" y1="187.97" x2="654.23" y2="189.59" stroke="#7a7a7a"/><line x1="732.15" y1="166.91" x2="734.21" y2="168.96" stroke="#6a6a6a"/><line x1="740.3" y1="179.72" x2="742.35" y2="181.77" stroke="#5a5a5a"/><line x1="629.31" y1="181.73" x2="631" y2="183.42" stroke="#7a7a7a"/><line x1="660.24" y1="182.17" x2="661.71" y2="183.64" stroke="#6a6a6a"/><line x1="661.97" y1="179.83" x2="663.92" y2="181.78" stroke="#6a6a6a"/><line x1="734.43" y1="171.39" x2="736.38" y2="173.33" stroke="#4c4c4c"/><line x1="690.53" y1="179.02" x2="692.71" y2="176.84" stroke="#7a7a7a"/><line x1="689.53" y1="173.47" x2="691.25" y2="171.76" stroke="#6a6a6a"/><line x1="735.33" y1="186.1" x2="737.52" y2="183.9" stroke="#5a5a5a"/><line x1="716.54" y1="166.4" x2="718.53" y2="168.39" stroke="#4c4c4c"/><line x1="722.56" y1="169.29" x2="724.59" y2="167.26" stroke="#4c4c4c"/><line x1="637.42" y1="170.57" x2="639.45" y2="172.6" stroke="#6a6a6a"/><line x1="616.15" y1="163.68" x2="618.01" y2="165.53" stroke="#7a7a7a"/><line x1="641.29" y1="162.1" x2="642.81" y2="163.62" stroke="#4c4c4c"/><line x1="736.51" y1="168.23" x2="737.97" y2="169.7" stroke="#7a7a7a"/><line x1="728.74" y1="191.42" x2="730.32" y2="189.84" stroke="#5a5a5a"/><line x1="656.66" y1="179.19" x2="658.69" y2="181.22" stroke="#6a6a6a"/><line x1="651.12" y1="168.33" x2="652.99" y2="166.45" stroke="#7a7a7a"/><line x1="678.12" y1="176.83" x2="679.72" y2="175.23" stroke="#6a6a6a"/><line x1="736.11" y1="170.61" x2="738.3" y2="172.81" stroke="#5a5a5a"/><line x1="684.87" y1="179.8" x2="686.98" y2="177.69" stroke="#6a6a6a"/><line x1="712.68" y1="165.48" x2="714.51" y2="163.65" stroke="#4c4c4c"/><line x1="650.47" y1="166.76" x2="652.44" y2="164.79" stroke="#7a7a7a"/><line x1="729.04" y1="187.08" x2="730.9" y2="185.22" stroke="#5a5a5a"/><line x1="730.12" y1="172.41" x2="731.6" y2="170.93" stroke="#4c4c4c"/></g><circle cx="595.69" cy="163.73" r="0.6" fill="#e0e0e0"/><circle cx="601.1" cy="163.94" r="0.6" fill="#e0e0e0"/><circle cx="605.74" cy="163.92" r="0.6" fill="#e0e0e0"/><circle cx="610.58" cy="163.69" r="0.6" fill="#e0e0e0"/><circle cx="622.29" cy="164.13" r="0.6" fill="#e0e0e0"/><circle cx="626.82" cy="163.49" r="0.6" fill="#e0e0e0"/><circle cx="633.52" cy="164.29" r="0.6" fill="#e0e0e0"/><circle cx="638.67" cy="163.71" r="0.6" fill="#e0e0e0"/><circle cx="644.35" cy="162.98" r="0.6" fill="#e0e0e0"/><circle cx="648.92" cy="162.73" r="0.6" fill="#e0e0e0"/><circle cx="654.26" cy="164.23" r="0.6" fill="#e0e0e0"/><circle cx="660.36" cy="163.95" r="0.6" fill="#e0e0e0"/><circle cx="664.78" cy="163.19" r="0.6" fill="#e0e0e0"/><circle cx="670.43" cy="163.73" r="0.6" fill="#e0e0e0"/><circle cx="675.72" cy="163.67" r="0.6" fill="#e0e0e0"/><circle cx="686.54" cy="162.72" r="0.6" fill="#e0e0e0"/><circle cx="691.49" cy="163.38" r="0.6" fill="#e0e0e0"/><circle cx="703.75" cy="164.04" r="0.6" fill="#e0e0e0"/><circle cx="708.53" cy="162.72" r="0.6" fill="#e0e0e0"/><circle cx="713.42" cy="163.69" r="0.6" fill="#e0e0e0"/><circle cx="719.27" cy="163.3" r="0.6" fill="#e0e0e0"/><circle cx="724.45" cy="162.86" r="0.6" fill="#e0e0e0"/><circle cx="730.48" cy="163.66" r="0.6" fill="#e0e0e0"/><circle cx="735.56" cy="164.09" r="0.6" fill="#e0e0e0"/><circle cx="609.11" cy="168.36" r="0.6" fill="#e0e0e0"/><circle cx="614.57" cy="168.62" r="0.6" fill="#e0e0e0"/><circle cx="624.82" cy="167.91" r="0.6" fill="#e0e0e0"/><circle cx="630.52" cy="168.29" r="0.6" fill="#e0e0e0"/><circle cx="635.57" cy="168.79" r="0.6" fill="#e0e0e0"/><circle cx="641.56" cy="168.21" r="0.6" fill="#e0e0e0"/><circle cx="651.64" cy="168.18" r="0.6" fill="#e0e0e0"/><circle cx="657.85" cy="168.3" r="0.6" fill="#e0e0e0"/><circle cx="662.71" cy="168.15" r="0.6" fill="#e0e0e0"/><circle cx="668.62" cy="167.32" r="0.6" fill="#e0e0e0"/><circle cx="673.9" cy="167.4" r="0.6" fill="#e0e0e0"/><circle cx="684.34" cy="168.58" r="0.6" fill="#e0e0e0"/><circle cx="689.31" cy="167.66" r="0.6" fill="#e0e0e0"/><circle cx="694.95" cy="168.27" r="0.6" fill="#e0e0e0"/><circle cx="700.44" cy="168.83" r="0.6" fill="#e0e0e0"/><circle cx="716.53" cy="167.92" r="0.6" fill="#e0e0e0"/><circle cx="722.39" cy="167.58" r="0.6" fill="#e0e0e0"/><circle cx="727.74" cy="168.8" r="0.6" fill="#e0e0e0"/><circle cx="732.33" cy="168.09" r="0.6" fill="#e0e0e0"/><circle cx="595.55" cy="172.54" r="0.6" fill="#e0e0e0"/><circle cx="601.08" cy="172" r="0.6" fill="#e0e0e0"/><circle cx="605.25" cy="172.11" r="0.6" fill="#e0e0e0"/><circle cx="611.52" cy="172.83" r="0.6" fill="#e0e0e0"/><circle cx="617.08" cy="172.71" r="0.6" fill="#e0e0e0"/><circle cx="622.51" cy="173.21" r="0.6" fill="#e0e0e0"/><circle cx="628.1" cy="173.2" r="0.6" fill="#e0e0e0"/><circle cx="632" cy="173.29" r="0.6" fill="#e0e0e0"/><circle cx="644.03" cy="173.14" r="0.6" fill="#e0e0e0"/><circle cx="649.53" cy="173.48" r="0.6" fill="#e0e0e0"/><circle cx="654.93" cy="173.37" r="0.6" fill="#e0e0e0"/><circle cx="660.09" cy="172.99" r="0.6" fill="#e0e0e0"/><circle cx="670.24" cy="172.3" r="0.6" fill="#e0e0e0"/><circle cx="675.42" cy="173.28" r="0.6" fill="#e0e0e0"/><circle cx="687.12" cy="172.98" r="0.6" fill="#e0e0e0"/><circle cx="692.65" cy="173.13" r="0.6" fill="#e0e0e0"/><circle cx="696.96" cy="172.35" r="0.6" fill="#e0e0e0"/><circle cx="708.9" cy="172.16" r="0.6" fill="#e0e0e0"/><circle cx="713.56" cy="173.31" r="0.6" fill="#e0e0e0"/><circle cx="718.52" cy="173.1" r="0.6" fill="#e0e0e0"/><circle cx="724.87" cy="172.03" r="0.6" fill="#e0e0e0"/><circle cx="730.26" cy="173.3" r="0.6" fill="#e0e0e0"/><circle cx="735.32" cy="171.95" r="0.6" fill="#e0e0e0"/><circle cx="597.29" cy="177.76" r="0.6" fill="#e0e0e0"/><circle cx="603.56" cy="177.35" r="0.6" fill="#e0e0e0"/><circle cx="607.9" cy="177.12" r="0.6" fill="#e0e0e0"/><circle cx="613.55" cy="177.68" r="0.6" fill="#e0e0e0"/><circle cx="619.02" cy="176.95" r="0.6" fill="#e0e0e0"/><circle cx="630.07" cy="177.11" r="0.6" fill="#e0e0e0"/><circle cx="646.41" cy="177.88" r="0.6" fill="#e0e0e0"/><circle cx="651.31" cy="176.66" r="0.6" fill="#e0e0e0"/><circle cx="657.53" cy="176.75" r="0.6" fill="#e0e0e0"/><circle cx="663.29" cy="177.27" r="0.6" fill="#e0e0e0"/><circle cx="668.44" cy="177.93" r="0.6" fill="#e0e0e0"/><circle cx="672.7" cy="177.52" r="0.6" fill="#e0e0e0"/><circle cx="679.38" cy="177.56" r="0.6" fill="#e0e0e0"/><circle cx="684.12" cy="176.96" r="0.6" fill="#e0e0e0"/><circle cx="689.45" cy="177.96" r="0.6" fill="#e0e0e0"/><circle cx="706.44" cy="176.72" r="0.6" fill="#e0e0e0"/><circle cx="717.1" cy="177.16" r="0.6" fill="#e0e0e0"/><circle cx="727.86" cy="177.81" r="0.6" fill="#e0e0e0"/><circle cx="733.23" cy="176.84" r="0.6" fill="#e0e0e0"/><circle cx="594.86" cy="181.41" r="0.6" fill="#e0e0e0"/><circle cx="605.14" cy="182.66" r="0.6" fill="#e0e0e0"/><circle cx="611" cy="181.76" r="0.6" fill="#e0e0e0"/><circle cx="617.22" cy="182.61" r="0.6" fill="#e0e0e0"/><circle cx="621.78" cy="181.27" r="0.6" fill="#e0e0e0"/><circle cx="627.43" cy="182.03" r="0.6" fill="#e0e0e0"/><circle cx="633.57" cy="181.76" r="0.6" fill="#e0e0e0"/><circle cx="638.07" cy="181.37" r="0.6" fill="#e0e0e0"/><circle cx="649.07" cy="181.78" r="0.6" fill="#e0e0e0"/><circle cx="654.1" cy="181.89" r="0.6" fill="#e0e0e0"/><circle cx="660.57" cy="182" r="0.6" fill="#e0e0e0"/><circle cx="664.49" cy="181.35" r="0.6" fill="#e0e0e0"/><circle cx="671.05" cy="182.52" r="0.6" fill="#e0e0e0"/><circle cx="676.45" cy="181.81" r="0.6" fill="#e0e0e0"/><circle cx="681.45" cy="181.17" r="0.6" fill="#e0e0e0"/><circle cx="687.07" cy="182.2" r="0.6" fill="#e0e0e0"/><circle cx="692.87" cy="182.41" r="0.6" fill="#e0e0e0"/><circle cx="696.91" cy="181.99" r="0.6" fill="#e0e0e0"/><circle cx="702.56" cy="181.17" r="0.6" fill="#e0e0e0"/><circle cx="707.65" cy="182.28" r="0.6" fill="#e0e0e0"/><circle cx="713.45" cy="181.81" r="0.6" fill="#e0e0e0"/><circle cx="718.7" cy="181.39" r="0.6" fill="#e0e0e0"/><circle cx="730.34" cy="181.66" r="0.6" fill="#e0e0e0"/><circle cx="597.95" cy="186.33" r="0.6" fill="#e0e0e0"/><circle cx="602.61" cy="187.26" r="0.6" fill="#e0e0e0"/><circle cx="608.55" cy="186.72" r="0.6" fill="#e0e0e0"/><circle cx="613.64" cy="186.07" r="0.6" fill="#e0e0e0"/><circle cx="624.61" cy="187.09" r="0.6" fill="#e0e0e0"/><circle cx="635.18" cy="186.07" r="0.6" fill="#e0e0e0"/><circle cx="640.58" cy="186.86" r="0.6" fill="#e0e0e0"/><circle cx="646.72" cy="186.62" r="0.6" fill="#e0e0e0"/><circle cx="663.28" cy="185.72" r="0.6" fill="#e0e0e0"/><circle cx="673.37" cy="186.32" r="0.6" fill="#e0e0e0"/><circle cx="683.63" cy="186.95" r="0.6" fill="#e0e0e0"/><circle cx="689.91" cy="186.48" r="0.6" fill="#e0e0e0"/><circle cx="695.33" cy="186.05" r="0.6" fill="#e0e0e0"/><circle cx="699.5" cy="186.11" r="0.6" fill="#e0e0e0"/><circle cx="706.12" cy="186.72" r="0.6" fill="#e0e0e0"/><circle cx="711.47" cy="186.77" r="0.6" fill="#e0e0e0"/><circle cx="716.56" cy="186.66" r="0.6" fill="#e0e0e0"/><circle cx="721.42" cy="186.2" r="0.6" fill="#e0e0e0"/><circle cx="726.65" cy="186.26" r="0.6" fill="#e0e0e0"/><circle cx="732.82" cy="185.98" r="0.6" fill="#e0e0e0"/><circle cx="737.49" cy="186.9" r="0.6" fill="#e0e0e0"/></g><rect x="619" y="189" width="25" height="5" fill="#2f2f2f"/><rect x="689" y="189" width="27" height="5.5" fill="#2f2f2f"/><g clip-path="url(#c3)" stroke="#333" stroke-width="1.0"><line x1="588.3" y1="181.2" x2="608.4" y2="161.1"/><line x1="588.3" y1="190.7" x2="608.4" y2="170.6"/><line x1="588.3" y1="200.2" x2="608.4" y2="180.1"/><line x1="588.3" y1="209.7" x2="608.4" y2="189.6"/><line x1="588.3" y1="219.2" x2="608.4" y2="199.1"/><line x1="588.3" y1="228.7" x2="608.4" y2="208.6"/><line x1="588.3" y1="238.2" x2="608.4" y2="218.1"/><line x1="588.3" y1="247.7" x2="608.4" y2="227.6"/><line x1="588.3" y1="257.2" x2="608.4" y2="237.1"/><line x1="588.3" y1="266.7" x2="608.4" y2="246.6"/><line x1="588.3" y1="276.2" x2="608.4" y2="256.1"/><line x1="588.3" y1="285.7" x2="608.4" y2="265.6"/></g><g clip-path="url(#c4)" stroke="#333" stroke-width="1.0"><line x1="598.4" y1="46.4" x2="735" y2="183"/><line x1="598.4" y1="54.4" x2="735" y2="191"/><line x1="598.4" y1="62.4" x2="735" y2="199"/><line x1="598.4" y1="70.4" x2="735" y2="207"/><line x1="598.4" y1="78.4" x2="735" y2="215"/><line x1="598.4" y1="86.4" x2="735" y2="223"/><line x1="598.4" y1="94.4" x2="735" y2="231"/><line x1="598.4" y1="102.4" x2="735" y2="239"/><line x1="598.4" y1="110.4" x2="735" y2="247"/><line x1="598.4" y1="118.4" x2="735" y2="255"/><line x1="598.4" y1="126.4" x2="735" y2="263"/><line x1="598.4" y1="134.4" x2="735" y2="271"/><line x1="598.4" y1="142.4" x2="735" y2="279"/><line x1="598.4" y1="150.4" x2="735" y2="287"/><line x1="598.4" y1="158.4" x2="735" y2="295"/><line x1="598.4" y1="166.4" x2="735" y2="303"/><line x1="598.4" y1="174.4" x2="735" y2="311"/><line x1="598.4" y1="182.4" x2="735" y2="319"/><line x1="598.4" y1="190.4" x2="735" y2="327"/><line x1="598.4" y1="198.4" x2="735" y2="335"/><line x1="598.4" y1="206.4" x2="735" y2="343"/></g><g clip-path="url(#c5)" stroke="#333" stroke-width="1.0"><line x1="725" y1="185" x2="744.7" y2="165.3"/><line x1="725" y1="195" x2="744.7" y2="175.3"/><line x1="725" y1="205" x2="744.7" y2="185.3"/><line x1="725" y1="215" x2="744.7" y2="195.3"/><line x1="725" y1="225" x2="744.7" y2="205.3"/><line x1="725" y1="235" x2="744.7" y2="215.3"/><line x1="725" y1="245" x2="744.7" y2="225.3"/><line x1="725" y1="255" x2="744.7" y2="235.3"/><line x1="725" y1="265" x2="744.7" y2="245.3"/><line x1="725" y1="275" x2="744.7" y2="255.3"/><line x1="725" y1="285" x2="744.7" y2="265.3"/><line x1="725" y1="295" x2="744.7" y2="275.3"/><line x1="725" y1="305" x2="744.7" y2="285.3"/><line x1="725" y1="315" x2="744.7" y2="295.3"/></g><g clip-path="url(#c6)" stroke="#333" stroke-width="1.0"><line x1="663" y1="267" x2="735" y2="195"/><line x1="663" y1="277" x2="735" y2="205"/><line x1="663" y1="287" x2="735" y2="215"/><line x1="663" y1="297" x2="735" y2="225"/><line x1="663" y1="307" x2="735" y2="235"/><line x1="663" y1="317" x2="735" y2="245"/><line x1="663" y1="327" x2="735" y2="255"/><line x1="663" y1="337" x2="735" y2="265"/><line x1="663" y1="347" x2="735" y2="275"/><line x1="663" y1="357" x2="735" y2="285"/><line x1="663" y1="367" x2="735" y2="295"/></g><g clip-path="url(#c7)" stroke="#262626" stroke-width="1.15"><line x1="603.4" y1="116.3" x2="639.8" y2="135.59"/><line x1="603.4" y1="121.6" x2="639.8" y2="140.89"/><line x1="603.4" y1="133.3" x2="639.8" y2="152.59"/><line x1="603.4" y1="138.6" x2="639.8" y2="157.89"/><line x1="603.4" y1="150.3" x2="639.8" y2="169.59"/><line x1="603.4" y1="155.6" x2="639.8" y2="174.89"/><line x1="603.4" y1="167.3" x2="639.8" y2="186.59"/><line x1="603.4" y1="172.6" x2="639.8" y2="191.89"/><line x1="603.4" y1="184.3" x2="639.8" y2="203.59"/><line x1="603.4" y1="189.6" x2="639.8" y2="208.89"/><line x1="603.4" y1="201.3" x2="639.8" y2="220.59"/><line x1="603.4" y1="206.6" x2="639.8" y2="225.89"/><line x1="603.4" y1="218.3" x2="639.8" y2="237.59"/><line x1="603.4" y1="223.6" x2="639.8" y2="242.89"/><line x1="603.4" y1="235.3" x2="639.8" y2="254.59"/><line x1="603.4" y1="240.6" x2="639.8" y2="259.89"/><line x1="603.4" y1="252.3" x2="639.8" y2="271.59"/><line x1="603.4" y1="257.6" x2="639.8" y2="276.89"/><line x1="603.4" y1="269.3" x2="639.8" y2="288.59"/><line x1="603.4" y1="274.6" x2="639.8" y2="293.89"/><line x1="603.4" y1="286.3" x2="639.8" y2="305.59"/><line x1="603.4" y1="291.6" x2="639.8" y2="310.89"/><line x1="603.4" y1="303.3" x2="639.8" y2="322.59"/><line x1="603.4" y1="308.6" x2="639.8" y2="327.89"/><line x1="603.4" y1="320.3" x2="639.8" y2="339.59"/><line x1="603.4" y1="325.6" x2="639.8" y2="344.89"/><line x1="603.4" y1="337.3" x2="639.8" y2="356.59"/><line x1="603.4" y1="342.6" x2="639.8" y2="361.89"/></g><g clip-path="url(#c8)" stroke="#262626" stroke-width="1.15"><line x1="639.8" y1="134.75" x2="661" y2="127.33"/><line x1="639.8" y1="139.75" x2="661" y2="132.32"/><line x1="639.8" y1="150.55" x2="661" y2="143.12"/><line x1="639.8" y1="155.55" x2="661" y2="148.12"/><line x1="639.8" y1="166.34" x2="661" y2="158.92"/><line x1="639.8" y1="171.34" x2="661" y2="163.92"/><line x1="639.8" y1="182.15" x2="661" y2="174.72"/><line x1="639.8" y1="187.15" x2="661" y2="179.72"/><line x1="639.8" y1="197.94" x2="661" y2="190.52"/><line x1="639.8" y1="202.94" x2="661" y2="195.52"/><line x1="639.8" y1="213.75" x2="661" y2="206.32"/><line x1="639.8" y1="218.75" x2="661" y2="211.32"/><line x1="639.8" y1="229.55" x2="661" y2="222.12"/><line x1="639.8" y1="234.55" x2="661" y2="227.12"/><line x1="639.8" y1="245.34" x2="661" y2="237.92"/><line x1="639.8" y1="250.34" x2="661" y2="242.92"/><line x1="639.8" y1="261.14" x2="661" y2="253.72"/><line x1="639.8" y1="266.14" x2="661" y2="258.72"/><line x1="639.8" y1="276.94" x2="661" y2="269.52"/><line x1="639.8" y1="281.94" x2="661" y2="274.52"/><line x1="639.8" y1="292.75" x2="661" y2="285.32"/><line x1="639.8" y1="297.75" x2="661" y2="290.32"/><line x1="639.8" y1="308.55" x2="661" y2="301.12"/><line x1="639.8" y1="313.55" x2="661" y2="306.12"/><line x1="639.8" y1="324.35" x2="661" y2="316.93"/><line x1="639.8" y1="329.35" x2="661" y2="321.93"/></g><g clip-path="url(#c9)" stroke="#262626" stroke-width="1.15"><line x1="661" y1="111.52" x2="693.6" y2="100.11"/><line x1="661" y1="116.52" x2="693.6" y2="105.11"/><line x1="661" y1="127.33" x2="693.6" y2="115.91"/><line x1="661" y1="132.32" x2="693.6" y2="120.91"/><line x1="661" y1="143.12" x2="693.6" y2="131.72"/><line x1="661" y1="148.12" x2="693.6" y2="136.72"/><line x1="661" y1="158.92" x2="693.6" y2="147.51"/><line x1="661" y1="163.92" x2="693.6" y2="152.51"/><line x1="661" y1="174.72" x2="693.6" y2="163.31"/><line x1="661" y1="179.72" x2="693.6" y2="168.31"/><line x1="661" y1="190.52" x2="693.6" y2="179.11"/><line x1="661" y1="195.52" x2="693.6" y2="184.11"/><line x1="661" y1="206.32" x2="693.6" y2="194.91"/><line x1="661" y1="211.32" x2="693.6" y2="199.91"/><line x1="661" y1="222.12" x2="693.6" y2="210.72"/><line x1="661" y1="227.12" x2="693.6" y2="215.72"/><line x1="661" y1="237.92" x2="693.6" y2="226.51"/><line x1="661" y1="242.92" x2="693.6" y2="231.51"/><line x1="661" y1="253.72" x2="693.6" y2="242.31"/><line x1="661" y1="258.72" x2="693.6" y2="247.31"/><line x1="661" y1="269.52" x2="693.6" y2="258.12"/><line x1="661" y1="274.52" x2="693.6" y2="263.12"/><line x1="661" y1="285.32" x2="693.6" y2="273.91"/><line x1="661" y1="290.32" x2="693.6" y2="278.91"/><line x1="661" y1="301.12" x2="693.6" y2="289.72"/><line x1="661" y1="306.12" x2="693.6" y2="294.72"/><line x1="661" y1="316.93" x2="693.6" y2="305.51"/><line x1="661" y1="321.93" x2="693.6" y2="310.51"/><line x1="661" y1="332.72" x2="693.6" y2="321.31"/><line x1="661" y1="337.72" x2="693.6" y2="326.31"/></g><g clip-path="url(#c10)" stroke="#262626" stroke-width="1.15"><line x1="693.6" y1="121.5" x2="730" y2="140.79"/><line x1="693.6" y1="127.3" x2="730" y2="146.59"/><line x1="693.6" y1="137.6" x2="730" y2="156.89"/><line x1="693.6" y1="143.4" x2="730" y2="162.69"/><line x1="693.6" y1="153.7" x2="730" y2="172.99"/><line x1="693.6" y1="159.5" x2="730" y2="178.79"/><line x1="693.6" y1="169.8" x2="730" y2="189.09"/><line x1="693.6" y1="175.6" x2="730" y2="194.89"/><line x1="693.6" y1="185.9" x2="730" y2="205.19"/><line x1="693.6" y1="191.7" x2="730" y2="210.99"/><line x1="693.6" y1="202" x2="730" y2="221.29"/><line x1="693.6" y1="207.8" x2="730" y2="227.09"/><line x1="693.6" y1="218.1" x2="730" y2="237.39"/><line x1="693.6" y1="223.9" x2="730" y2="243.19"/><line x1="693.6" y1="234.2" x2="730" y2="253.49"/><line x1="693.6" y1="240" x2="730" y2="259.29"/><line x1="693.6" y1="250.3" x2="730" y2="269.59"/><line x1="693.6" y1="256.1" x2="730" y2="275.39"/><line x1="693.6" y1="266.4" x2="730" y2="285.69"/><line x1="693.6" y1="272.2" x2="730" y2="291.49"/><line x1="693.6" y1="282.5" x2="730" y2="301.79"/><line x1="693.6" y1="288.3" x2="730" y2="307.59"/><line x1="693.6" y1="298.6" x2="730" y2="317.89"/><line x1="693.6" y1="304.4" x2="730" y2="323.69"/><line x1="693.6" y1="314.7" x2="730" y2="333.99"/><line x1="693.6" y1="320.5" x2="730" y2="339.79"/><line x1="693.6" y1="330.8" x2="730" y2="350.09"/><line x1="693.6" y1="336.6" x2="730" y2="355.89"/><line x1="693.6" y1="346.9" x2="730" y2="366.19"/><line x1="693.6" y1="352.7" x2="730" y2="371.99"/></g><path d="M739.7,264.5 Q739.7,282.5 721.7,282.5 L721.7,290 L748,290 L748,264.5 Z" fill="#fff"/><path d="M593.3,190.3 L739.7,190.3 L739.7,264.5 Q739.7,282.5 721.7,282.5 L668,282.5 L668,259.3 L593.3,259.3 Z" fill="none" stroke="#1e1e1e" stroke-width="1.9"/><line x1="603.5" y1="196.4" x2="603.5" y2="259.3" stroke="#1e1e1e" stroke-width="1.1" /><line x1="603.4" y1="196.5" x2="730" y2="196.5" stroke="#1e1e1e" stroke-width="1.1" /><path d="M730,196.4 L730,267 Q730,275.2 721.8,275.2 L668,275.2" fill="none" stroke="#1e1e1e" stroke-width="1.1"/><line x1="639.5" y1="196.4" x2="639.5" y2="259.3" stroke="#1e1e1e" stroke-width="1.1" /><line x1="693.5" y1="196.4" x2="693.5" y2="275.2" stroke="#1e1e1e" stroke-width="1.1" /><g clip-path="url(#c11)" stroke="#262626" stroke-width="1.15"><line x1="554" y1="159.66" x2="588.5" y2="178.29"/><line x1="554" y1="164.66" x2="588.5" y2="183.29"/><line x1="554" y1="175.86" x2="588.5" y2="194.49"/><line x1="554" y1="180.86" x2="588.5" y2="199.49"/><line x1="554" y1="192.06" x2="588.5" y2="210.69"/><line x1="554" y1="197.06" x2="588.5" y2="215.69"/><line x1="554" y1="208.26" x2="588.5" y2="226.89"/><line x1="554" y1="213.26" x2="588.5" y2="231.89"/><line x1="554" y1="224.46" x2="588.5" y2="243.09"/><line x1="554" y1="229.46" x2="588.5" y2="248.09"/><line x1="554" y1="240.66" x2="588.5" y2="259.29"/><line x1="554" y1="245.66" x2="588.5" y2="264.29"/><line x1="554" y1="256.86" x2="588.5" y2="275.49"/><line x1="554" y1="261.86" x2="588.5" y2="280.49"/><line x1="554" y1="273.06" x2="588.5" y2="291.69"/><line x1="554" y1="278.06" x2="588.5" y2="296.69"/><line x1="554" y1="289.26" x2="588.5" y2="307.89"/><line x1="554" y1="294.26" x2="588.5" y2="312.89"/><line x1="554" y1="305.46" x2="588.5" y2="324.09"/><line x1="554" y1="310.46" x2="588.5" y2="329.09"/><line x1="554" y1="321.66" x2="588.5" y2="340.29"/><line x1="554" y1="326.66" x2="588.5" y2="345.29"/><line x1="554" y1="337.86" x2="588.5" y2="356.49"/><line x1="554" y1="342.86" x2="588.5" y2="361.49"/><line x1="554" y1="354.06" x2="588.5" y2="372.69"/><line x1="554" y1="359.06" x2="588.5" y2="377.69"/><line x1="554" y1="370.26" x2="588.5" y2="388.89"/><line x1="554" y1="375.26" x2="588.5" y2="393.89"/><line x1="554" y1="386.46" x2="588.5" y2="405.09"/><line x1="554" y1="391.46" x2="588.5" y2="410.09"/></g><g clip-path="url(#c12)" stroke="#262626" stroke-width="1.15"><line x1="588.5" y1="201.06" x2="624" y2="189.35"/><line x1="588.5" y1="206.06" x2="624" y2="194.35"/><line x1="588.5" y1="216.56" x2="624" y2="204.85"/><line x1="588.5" y1="221.56" x2="624" y2="209.85"/><line x1="588.5" y1="232.06" x2="624" y2="220.35"/><line x1="588.5" y1="237.06" x2="624" y2="225.35"/><line x1="588.5" y1="247.56" x2="624" y2="235.85"/><line x1="588.5" y1="252.56" x2="624" y2="240.85"/><line x1="588.5" y1="263.06" x2="624" y2="251.35"/><line x1="588.5" y1="268.06" x2="624" y2="256.35"/><line x1="588.5" y1="278.56" x2="624" y2="266.85"/><line x1="588.5" y1="283.56" x2="624" y2="271.85"/><line x1="588.5" y1="294.06" x2="624" y2="282.35"/><line x1="588.5" y1="299.06" x2="624" y2="287.35"/><line x1="588.5" y1="309.56" x2="624" y2="297.85"/><line x1="588.5" y1="314.56" x2="624" y2="302.85"/><line x1="588.5" y1="325.06" x2="624" y2="313.35"/><line x1="588.5" y1="330.06" x2="624" y2="318.35"/><line x1="588.5" y1="340.56" x2="624" y2="328.85"/><line x1="588.5" y1="345.56" x2="624" y2="333.85"/><line x1="588.5" y1="356.06" x2="624" y2="344.35"/><line x1="588.5" y1="361.06" x2="624" y2="349.35"/><line x1="588.5" y1="371.56" x2="624" y2="359.85"/><line x1="588.5" y1="376.56" x2="624" y2="364.85"/><line x1="588.5" y1="387.06" x2="624" y2="375.35"/><line x1="588.5" y1="392.06" x2="624" y2="380.35"/></g><g clip-path="url(#c13)" stroke="#262626" stroke-width="1.15"><line x1="624" y1="200.26" x2="659" y2="212.16"/><line x1="624" y1="205.56" x2="659" y2="217.46"/><line x1="624" y1="216.36" x2="659" y2="228.26"/><line x1="624" y1="221.66" x2="659" y2="233.56"/><line x1="624" y1="232.46" x2="659" y2="244.36"/><line x1="624" y1="237.76" x2="659" y2="249.66"/><line x1="624" y1="248.56" x2="659" y2="260.46"/><line x1="624" y1="253.86" x2="659" y2="265.76"/><line x1="624" y1="264.66" x2="659" y2="276.56"/><line x1="624" y1="269.96" x2="659" y2="281.86"/><line x1="624" y1="280.76" x2="659" y2="292.66"/><line x1="624" y1="286.06" x2="659" y2="297.96"/><line x1="624" y1="296.86" x2="659" y2="308.76"/><line x1="624" y1="302.16" x2="659" y2="314.06"/><line x1="624" y1="312.96" x2="659" y2="324.86"/><line x1="624" y1="318.26" x2="659" y2="330.16"/><line x1="624" y1="329.06" x2="659" y2="340.96"/><line x1="624" y1="334.36" x2="659" y2="346.26"/><line x1="624" y1="345.16" x2="659" y2="357.06"/><line x1="624" y1="350.46" x2="659" y2="362.36"/><line x1="624" y1="361.26" x2="659" y2="373.16"/><line x1="624" y1="366.56" x2="659" y2="378.46"/><line x1="624" y1="377.36" x2="659" y2="389.26"/><line x1="624" y1="382.66" x2="659" y2="394.56"/></g><g clip-path="url(#c14)" fill="none" stroke="#2e2e2e" stroke-width="1.1"><polygon points="548.81,283.74 544.01,292.05 534.42,292.05 529.62,283.74 534.42,275.43 544.01,275.43"/><polygon points="548.81,300.36 544.01,308.67 534.42,308.67 529.62,300.36 534.42,292.05 544.01,292.05"/><polygon points="548.81,316.98 544.01,325.29 534.42,325.29 529.62,316.98 534.42,308.67 544.01,308.67"/><polygon points="548.81,333.6 544.01,341.91 534.42,341.91 529.62,333.6 534.42,325.29 544.01,325.29"/><polygon points="548.81,350.22 544.01,358.53 534.42,358.53 529.62,350.22 534.42,341.91 544.01,341.91"/><polygon points="548.81,366.84 544.01,375.15 534.42,375.15 529.62,366.84 534.42,358.53 544.01,358.53"/><polygon points="548.81,383.46 544.01,391.77 534.42,391.77 529.62,383.46 534.42,375.15 544.01,375.15"/><polygon points="548.81,400.08 544.01,408.39 534.42,408.39 529.62,400.08 534.42,391.77 544.01,391.77"/><polygon points="548.81,416.7 544.01,425 534.42,425 529.62,416.7 534.42,408.39 544.01,408.39"/><polygon points="548.81,433.31 544.01,441.62 534.42,441.62 529.62,433.31 534.42,425 544.01,425"/><polygon points="548.81,449.93 544.01,458.24 534.42,458.24 529.62,449.93 534.42,441.62 544.01,441.62"/><polygon points="548.81,466.55 544.01,474.86 534.42,474.86 529.62,466.55 534.42,458.24 544.01,458.24"/><polygon points="548.81,483.17 544.01,491.48 534.42,491.48 529.62,483.17 534.42,474.86 544.01,474.86"/><polygon points="548.81,499.79 544.01,508.1 534.42,508.1 529.62,499.79 534.42,491.48 544.01,491.48"/><polygon points="548.81,516.41 544.01,524.72 534.42,524.72 529.62,516.41 534.42,508.1 544.01,508.1"/><polygon points="548.81,533.03 544.01,541.34 534.42,541.34 529.62,533.03 534.42,524.72 544.01,524.72"/><polygon points="548.81,549.65 544.01,557.96 534.42,557.96 529.62,549.65 534.42,541.34 544.01,541.34"/><polygon points="548.81,566.27 544.01,574.58 534.42,574.58 529.62,566.27 534.42,557.96 544.01,557.96"/><polygon points="548.81,582.89 544.01,591.19 534.42,591.19 529.62,582.89 534.42,574.58 544.01,574.58"/><polygon points="548.81,599.5 544.01,607.81 534.42,607.81 529.62,599.5 534.42,591.19 544.01,591.19"/><polygon points="548.81,616.12 544.01,624.43 534.42,624.43 529.62,616.12 534.42,607.81 544.01,607.81"/><polygon points="548.81,632.74 544.01,641.05 534.42,641.05 529.62,632.74 534.42,624.43 544.01,624.43"/><polygon points="548.81,649.36 544.01,657.67 534.42,657.67 529.62,649.36 534.42,641.05 544.01,641.05"/><polygon points="548.81,665.98 544.01,674.29 534.42,674.29 529.62,665.98 534.42,657.67 544.01,657.67"/><polygon points="548.81,682.6 544.01,690.91 534.42,690.91 529.62,682.6 534.42,674.29 544.01,674.29"/><polygon points="548.81,699.22 544.01,707.53 534.42,707.53 529.62,699.22 534.42,690.91 544.01,690.91"/><polygon points="548.81,715.84 544.01,724.15 534.42,724.15 529.62,715.84 534.42,707.53 544.01,707.53"/><polygon points="548.81,732.46 544.01,740.77 534.42,740.77 529.62,732.46 534.42,724.15 544.01,724.15"/><polygon points="548.81,749.08 544.01,757.39 534.42,757.39 529.62,749.08 534.42,740.77 544.01,740.77"/><polygon points="548.81,765.69 544.01,774 534.42,774 529.62,765.69 534.42,757.39 544.01,757.39"/><polygon points="548.81,782.31 544.01,790.62 534.42,790.62 529.62,782.31 534.42,774 544.01,774"/><polygon points="548.81,798.93 544.01,807.24 534.42,807.24 529.62,798.93 534.42,790.62 544.01,790.62"/><polygon points="563.2,292.05 558.4,300.36 548.81,300.36 544.01,292.05 548.81,283.74 558.4,283.74"/><polygon points="563.2,308.67 558.4,316.98 548.81,316.98 544.01,308.67 548.81,300.36 558.4,300.36"/><polygon points="563.2,325.29 558.4,333.6 548.81,333.6 544.01,325.29 548.81,316.98 558.4,316.98"/><polygon points="563.2,341.91 558.4,350.22 548.81,350.22 544.01,341.91 548.81,333.6 558.4,333.6"/><polygon points="563.2,358.53 558.4,366.84 548.81,366.84 544.01,358.53 548.81,350.22 558.4,350.22"/><polygon points="563.2,375.15 558.4,383.46 548.81,383.46 544.01,375.15 548.81,366.84 558.4,366.84"/><polygon points="563.2,391.77 558.4,400.08 548.81,400.08 544.01,391.77 548.81,383.46 558.4,383.46"/><polygon points="563.2,408.39 558.4,416.7 548.81,416.7 544.01,408.39 548.81,400.08 558.4,400.08"/><polygon points="563.2,425 558.4,433.31 548.81,433.31 544.01,425 548.81,416.7 558.4,416.7"/><polygon points="563.2,441.62 558.4,449.93 548.81,449.93 544.01,441.62 548.81,433.31 558.4,433.31"/><polygon points="563.2,458.24 558.4,466.55 548.81,466.55 544.01,458.24 548.81,449.93 558.4,449.93"/><polygon points="563.2,474.86 558.4,483.17 548.81,483.17 544.01,474.86 548.81,466.55 558.4,466.55"/><polygon points="563.2,491.48 558.4,499.79 548.81,499.79 544.01,491.48 548.81,483.17 558.4,483.17"/><polygon points="563.2,508.1 558.4,516.41 548.81,516.41 544.01,508.1 548.81,499.79 558.4,499.79"/><polygon points="563.2,524.72 558.4,533.03 548.81,533.03 544.01,524.72 548.81,516.41 558.4,516.41"/><polygon points="563.2,541.34 558.4,549.65 548.81,549.65 544.01,541.34 548.81,533.03 558.4,533.03"/><polygon points="563.2,557.96 558.4,566.27 548.81,566.27 544.01,557.96 548.81,549.65 558.4,549.65"/><polygon points="563.2,574.58 558.4,582.89 548.81,582.89 544.01,574.58 548.81,566.27 558.4,566.27"/><polygon points="563.2,591.19 558.4,599.5 548.81,599.5 544.01,591.19 548.81,582.89 558.4,582.89"/><polygon points="563.2,607.81 558.4,616.12 548.81,616.12 544.01,607.81 548.81,599.5 558.4,599.5"/><polygon points="563.2,624.43 558.4,632.74 548.81,632.74 544.01,624.43 548.81,616.12 558.4,616.12"/><polygon points="563.2,641.05 558.4,649.36 548.81,649.36 544.01,641.05 548.81,632.74 558.4,632.74"/><polygon points="563.2,657.67 558.4,665.98 548.81,665.98 544.01,657.67 548.81,649.36 558.4,649.36"/><polygon points="563.2,674.29 558.4,682.6 548.81,682.6 544.01,674.29 548.81,665.98 558.4,665.98"/><polygon points="563.2,690.91 558.4,699.22 548.81,699.22 544.01,690.91 548.81,682.6 558.4,682.6"/><polygon points="563.2,707.53 558.4,715.84 548.81,715.84 544.01,707.53 548.81,699.22 558.4,699.22"/><polygon points="563.2,724.15 558.4,732.46 548.81,732.46 544.01,724.15 548.81,715.84 558.4,715.84"/><polygon points="563.2,740.77 558.4,749.08 548.81,749.08 544.01,740.77 548.81,732.46 558.4,732.46"/><polygon points="563.2,757.39 558.4,765.69 548.81,765.69 544.01,757.39 548.81,749.08 558.4,749.08"/><polygon points="563.2,774 558.4,782.31 548.81,782.31 544.01,774 548.81,765.69 558.4,765.69"/><polygon points="563.2,790.62 558.4,798.93 548.81,798.93 544.01,790.62 548.81,782.31 558.4,782.31"/><polygon points="577.6,283.74 572.8,292.05 563.2,292.05 558.4,283.74 563.2,275.43 572.8,275.43"/><polygon points="577.6,300.36 572.8,308.67 563.2,308.67 558.4,300.36 563.2,292.05 572.8,292.05"/><polygon points="577.6,316.98 572.8,325.29 563.2,325.29 558.4,316.98 563.2,308.67 572.8,308.67"/><polygon points="577.6,333.6 572.8,341.91 563.2,341.91 558.4,333.6 563.2,325.29 572.8,325.29"/><polygon points="577.6,350.22 572.8,358.53 563.2,358.53 558.4,350.22 563.2,341.91 572.8,341.91"/><polygon points="577.6,366.84 572.8,375.15 563.2,375.15 558.4,366.84 563.2,358.53 572.8,358.53"/><polygon points="577.6,383.46 572.8,391.77 563.2,391.77 558.4,383.46 563.2,375.15 572.8,375.15"/><polygon points="577.6,400.08 572.8,408.39 563.2,408.39 558.4,400.08 563.2,391.77 572.8,391.77"/><polygon points="577.6,416.7 572.8,425 563.2,425 558.4,416.7 563.2,408.39 572.8,408.39"/><polygon points="577.6,433.31 572.8,441.62 563.2,441.62 558.4,433.31 563.2,425 572.8,425"/><polygon points="577.6,449.93 572.8,458.24 563.2,458.24 558.4,449.93 563.2,441.62 572.8,441.62"/><polygon points="577.6,466.55 572.8,474.86 563.2,474.86 558.4,466.55 563.2,458.24 572.8,458.24"/><polygon points="577.6,483.17 572.8,491.48 563.2,491.48 558.4,483.17 563.2,474.86 572.8,474.86"/><polygon points="577.6,499.79 572.8,508.1 563.2,508.1 558.4,499.79 563.2,491.48 572.8,491.48"/><polygon points="577.6,516.41 572.8,524.72 563.2,524.72 558.4,516.41 563.2,508.1 572.8,508.1"/><polygon points="577.6,533.03 572.8,541.34 563.2,541.34 558.4,533.03 563.2,524.72 572.8,524.72"/><polygon points="577.6,549.65 572.8,557.96 563.2,557.96 558.4,549.65 563.2,541.34 572.8,541.34"/><polygon points="577.6,566.27 572.8,574.58 563.2,574.58 558.4,566.27 563.2,557.96 572.8,557.96"/><polygon points="577.6,582.89 572.8,591.19 563.2,591.19 558.4,582.89 563.2,574.58 572.8,574.58"/><polygon points="577.6,599.5 572.8,607.81 563.2,607.81 558.4,599.5 563.2,591.19 572.8,591.19"/><polygon points="577.6,616.12 572.8,624.43 563.2,624.43 558.4,616.12 563.2,607.81 572.8,607.81"/><polygon points="577.6,632.74 572.8,641.05 563.2,641.05 558.4,632.74 563.2,624.43 572.8,624.43"/><polygon points="577.6,649.36 572.8,657.67 563.2,657.67 558.4,649.36 563.2,641.05 572.8,641.05"/><polygon points="577.6,665.98 572.8,674.29 563.2,674.29 558.4,665.98 563.2,657.67 572.8,657.67"/><polygon points="577.6,682.6 572.8,690.91 563.2,690.91 558.4,682.6 563.2,674.29 572.8,674.29"/><polygon points="577.6,699.22 572.8,707.53 563.2,707.53 558.4,699.22 563.2,690.91 572.8,690.91"/><polygon points="577.6,715.84 572.8,724.15 563.2,724.15 558.4,715.84 563.2,707.53 572.8,707.53"/><polygon points="577.6,732.46 572.8,740.77 563.2,740.77 558.4,732.46 563.2,724.15 572.8,724.15"/><polygon points="577.6,749.08 572.8,757.39 563.2,757.39 558.4,749.08 563.2,740.77 572.8,740.77"/><polygon points="577.6,765.69 572.8,774 563.2,774 558.4,765.69 563.2,757.39 572.8,757.39"/><polygon points="577.6,782.31 572.8,790.62 563.2,790.62 558.4,782.31 563.2,774 572.8,774"/><polygon points="577.6,798.93 572.8,807.24 563.2,807.24 558.4,798.93 563.2,790.62 572.8,790.62"/><polygon points="591.99,292.05 587.19,300.36 577.6,300.36 572.8,292.05 577.6,283.74 587.19,283.74"/><polygon points="591.99,308.67 587.19,316.98 577.6,316.98 572.8,308.67 577.6,300.36 587.19,300.36"/><polygon points="591.99,325.29 587.19,333.6 577.6,333.6 572.8,325.29 577.6,316.98 587.19,316.98"/><polygon points="591.99,341.91 587.19,350.22 577.6,350.22 572.8,341.91 577.6,333.6 587.19,333.6"/><polygon points="591.99,358.53 587.19,366.84 577.6,366.84 572.8,358.53 577.6,350.22 587.19,350.22"/><polygon points="591.99,375.15 587.19,383.46 577.6,383.46 572.8,375.15 577.6,366.84 587.19,366.84"/><polygon points="591.99,391.77 587.19,400.08 577.6,400.08 572.8,391.77 577.6,383.46 587.19,383.46"/><polygon points="591.99,408.39 587.19,416.7 577.6,416.7 572.8,408.39 577.6,400.08 587.19,400.08"/><polygon points="591.99,425 587.19,433.31 577.6,433.31 572.8,425 577.6,416.7 587.19,416.7"/><polygon points="591.99,441.62 587.19,449.93 577.6,449.93 572.8,441.62 577.6,433.31 587.19,433.31"/><polygon points="591.99,458.24 587.19,466.55 577.6,466.55 572.8,458.24 577.6,449.93 587.19,449.93"/><polygon points="591.99,474.86 587.19,483.17 577.6,483.17 572.8,474.86 577.6,466.55 587.19,466.55"/><polygon points="591.99,491.48 587.19,499.79 577.6,499.79 572.8,491.48 577.6,483.17 587.19,483.17"/><polygon points="591.99,508.1 587.19,516.41 577.6,516.41 572.8,508.1 577.6,499.79 587.19,499.79"/><polygon points="591.99,524.72 587.19,533.03 577.6,533.03 572.8,524.72 577.6,516.41 587.19,516.41"/><polygon points="591.99,541.34 587.19,549.65 577.6,549.65 572.8,541.34 577.6,533.03 587.19,533.03"/><polygon points="591.99,557.96 587.19,566.27 577.6,566.27 572.8,557.96 577.6,549.65 587.19,549.65"/><polygon points="591.99,574.58 587.19,582.89 577.6,582.89 572.8,574.58 577.6,566.27 587.19,566.27"/><polygon points="591.99,591.19 587.19,599.5 577.6,599.5 572.8,591.19 577.6,582.89 587.19,582.89"/><polygon points="591.99,607.81 587.19,616.12 577.6,616.12 572.8,607.81 577.6,599.5 587.19,599.5"/><polygon points="591.99,624.43 587.19,632.74 577.6,632.74 572.8,624.43 577.6,616.12 587.19,616.12"/><polygon points="591.99,641.05 587.19,649.36 577.6,649.36 572.8,641.05 577.6,632.74 587.19,632.74"/><polygon points="591.99,657.67 587.19,665.98 577.6,665.98 572.8,657.67 577.6,649.36 587.19,649.36"/><polygon points="591.99,674.29 587.19,682.6 577.6,682.6 572.8,674.29 577.6,665.98 587.19,665.98"/><polygon points="591.99,690.91 587.19,699.22 577.6,699.22 572.8,690.91 577.6,682.6 587.19,682.6"/><polygon points="591.99,707.53 587.19,715.84 577.6,715.84 572.8,707.53 577.6,699.22 587.19,699.22"/><polygon points="591.99,724.15 587.19,732.46 577.6,732.46 572.8,724.15 577.6,715.84 587.19,715.84"/><polygon points="591.99,740.77 587.19,749.08 577.6,749.08 572.8,740.77 577.6,732.46 587.19,732.46"/><polygon points="591.99,757.39 587.19,765.69 577.6,765.69 572.8,757.39 577.6,749.08 587.19,749.08"/><polygon points="591.99,774 587.19,782.31 577.6,782.31 572.8,774 577.6,765.69 587.19,765.69"/><polygon points="591.99,790.62 587.19,798.93 577.6,798.93 572.8,790.62 577.6,782.31 587.19,782.31"/><polygon points="606.38,283.74 601.58,292.05 591.99,292.05 587.19,283.74 591.99,275.43 601.58,275.43"/><polygon points="606.38,300.36 601.58,308.67 591.99,308.67 587.19,300.36 591.99,292.05 601.58,292.05"/><polygon points="606.38,316.98 601.58,325.29 591.99,325.29 587.19,316.98 591.99,308.67 601.58,308.67"/><polygon points="606.38,333.6 601.58,341.91 591.99,341.91 587.19,333.6 591.99,325.29 601.58,325.29"/><polygon points="606.38,350.22 601.58,358.53 591.99,358.53 587.19,350.22 591.99,341.91 601.58,341.91"/><polygon points="606.38,366.84 601.58,375.15 591.99,375.15 587.19,366.84 591.99,358.53 601.58,358.53"/><polygon points="606.38,383.46 601.58,391.77 591.99,391.77 587.19,383.46 591.99,375.15 601.58,375.15"/><polygon points="606.38,400.08 601.58,408.39 591.99,408.39 587.19,400.08 591.99,391.77 601.58,391.77"/><polygon points="606.38,416.7 601.58,425 591.99,425 587.19,416.7 591.99,408.39 601.58,408.39"/><polygon points="606.38,433.31 601.58,441.62 591.99,441.62 587.19,433.31 591.99,425 601.58,425"/><polygon points="606.38,449.93 601.58,458.24 591.99,458.24 587.19,449.93 591.99,441.62 601.58,441.62"/><polygon points="606.38,466.55 601.58,474.86 591.99,474.86 587.19,466.55 591.99,458.24 601.58,458.24"/><polygon points="606.38,483.17 601.58,491.48 591.99,491.48 587.19,483.17 591.99,474.86 601.58,474.86"/><polygon points="606.38,499.79 601.58,508.1 591.99,508.1 587.19,499.79 591.99,491.48 601.58,491.48"/><polygon points="606.38,516.41 601.58,524.72 591.99,524.72 587.19,516.41 591.99,508.1 601.58,508.1"/><polygon points="606.38,533.03 601.58,541.34 591.99,541.34 587.19,533.03 591.99,524.72 601.58,524.72"/><polygon points="606.38,549.65 601.58,557.96 591.99,557.96 587.19,549.65 591.99,541.34 601.58,541.34"/><polygon points="606.38,566.27 601.58,574.58 591.99,574.58 587.19,566.27 591.99,557.96 601.58,557.96"/><polygon points="606.38,582.89 601.58,591.19 591.99,591.19 587.19,582.89 591.99,574.58 601.58,574.58"/><polygon points="606.38,599.5 601.58,607.81 591.99,607.81 587.19,599.5 591.99,591.19 601.58,591.19"/><polygon points="606.38,616.12 601.58,624.43 591.99,624.43 587.19,616.12 591.99,607.81 601.58,607.81"/><polygon points="606.38,632.74 601.58,641.05 591.99,641.05 587.19,632.74 591.99,624.43 601.58,624.43"/><polygon points="606.38,649.36 601.58,657.67 591.99,657.67 587.19,649.36 591.99,641.05 601.58,641.05"/><polygon points="606.38,665.98 601.58,674.29 591.99,674.29 587.19,665.98 591.99,657.67 601.58,657.67"/><polygon points="606.38,682.6 601.58,690.91 591.99,690.91 587.19,682.6 591.99,674.29 601.58,674.29"/><polygon points="606.38,699.22 601.58,707.53 591.99,707.53 587.19,699.22 591.99,690.91 601.58,690.91"/><polygon points="606.38,715.84 601.58,724.15 591.99,724.15 587.19,715.84 591.99,707.53 601.58,707.53"/><polygon points="606.38,732.46 601.58,740.77 591.99,740.77 587.19,732.46 591.99,724.15 601.58,724.15"/><polygon points="606.38,749.08 601.58,757.39 591.99,757.39 587.19,749.08 591.99,740.77 601.58,740.77"/><polygon points="606.38,765.69 601.58,774 591.99,774 587.19,765.69 591.99,757.39 601.58,757.39"/><polygon points="606.38,782.31 601.58,790.62 591.99,790.62 587.19,782.31 591.99,774 601.58,774"/><polygon points="606.38,798.93 601.58,807.24 591.99,807.24 587.19,798.93 591.99,790.62 601.58,790.62"/><polygon points="620.77,292.05 615.98,300.36 606.38,300.36 601.58,292.05 606.38,283.74 615.98,283.74"/><polygon points="620.77,308.67 615.98,316.98 606.38,316.98 601.58,308.67 606.38,300.36 615.98,300.36"/><polygon points="620.77,325.29 615.98,333.6 606.38,333.6 601.58,325.29 606.38,316.98 615.98,316.98"/><polygon points="620.77,341.91 615.98,350.22 606.38,350.22 601.58,341.91 606.38,333.6 615.98,333.6"/><polygon points="620.77,358.53 615.98,366.84 606.38,366.84 601.58,358.53 606.38,350.22 615.98,350.22"/><polygon points="620.77,375.15 615.98,383.46 606.38,383.46 601.58,375.15 606.38,366.84 615.98,366.84"/><polygon points="620.77,391.77 615.98,400.08 606.38,400.08 601.58,391.77 606.38,383.46 615.98,383.46"/><polygon points="620.77,408.39 615.98,416.7 606.38,416.7 601.58,408.39 606.38,400.08 615.98,400.08"/><polygon points="620.77,425 615.98,433.31 606.38,433.31 601.58,425 606.38,416.7 615.98,416.7"/><polygon points="620.77,441.62 615.98,449.93 606.38,449.93 601.58,441.62 606.38,433.31 615.98,433.31"/><polygon points="620.77,458.24 615.98,466.55 606.38,466.55 601.58,458.24 606.38,449.93 615.98,449.93"/><polygon points="620.77,474.86 615.98,483.17 606.38,483.17 601.58,474.86 606.38,466.55 615.98,466.55"/><polygon points="620.77,491.48 615.98,499.79 606.38,499.79 601.58,491.48 606.38,483.17 615.98,483.17"/><polygon points="620.77,508.1 615.98,516.41 606.38,516.41 601.58,508.1 606.38,499.79 615.98,499.79"/><polygon points="620.77,524.72 615.98,533.03 606.38,533.03 601.58,524.72 606.38,516.41 615.98,516.41"/><polygon points="620.77,541.34 615.98,549.65 606.38,549.65 601.58,541.34 606.38,533.03 615.98,533.03"/><polygon points="620.77,557.96 615.98,566.27 606.38,566.27 601.58,557.96 606.38,549.65 615.98,549.65"/><polygon points="620.77,574.58 615.98,582.89 606.38,582.89 601.58,574.58 606.38,566.27 615.98,566.27"/><polygon points="620.77,591.19 615.98,599.5 606.38,599.5 601.58,591.19 606.38,582.89 615.98,582.89"/><polygon points="620.77,607.81 615.98,616.12 606.38,616.12 601.58,607.81 606.38,599.5 615.98,599.5"/><polygon points="620.77,624.43 615.98,632.74 606.38,632.74 601.58,624.43 606.38,616.12 615.98,616.12"/><polygon points="620.77,641.05 615.98,649.36 606.38,649.36 601.58,641.05 606.38,632.74 615.98,632.74"/><polygon points="620.77,657.67 615.98,665.98 606.38,665.98 601.58,657.67 606.38,649.36 615.98,649.36"/><polygon points="620.77,674.29 615.98,682.6 606.38,682.6 601.58,674.29 606.38,665.98 615.98,665.98"/><polygon points="620.77,690.91 615.98,699.22 606.38,699.22 601.58,690.91 606.38,682.6 615.98,682.6"/><polygon points="620.77,707.53 615.98,715.84 606.38,715.84 601.58,707.53 606.38,699.22 615.98,699.22"/><polygon points="620.77,724.15 615.98,732.46 606.38,732.46 601.58,724.15 606.38,715.84 615.98,715.84"/><polygon points="620.77,740.77 615.98,749.08 606.38,749.08 601.58,740.77 606.38,732.46 615.98,732.46"/><polygon points="620.77,757.39 615.98,765.69 606.38,765.69 601.58,757.39 606.38,749.08 615.98,749.08"/><polygon points="620.77,774 615.98,782.31 606.38,782.31 601.58,774 606.38,765.69 615.98,765.69"/><polygon points="620.77,790.62 615.98,798.93 606.38,798.93 601.58,790.62 606.38,782.31 615.98,782.31"/><polygon points="635.17,283.74 630.37,292.05 620.77,292.05 615.98,283.74 620.77,275.43 630.37,275.43"/><polygon points="635.17,300.36 630.37,308.67 620.77,308.67 615.98,300.36 620.77,292.05 630.37,292.05"/><polygon points="635.17,316.98 630.37,325.29 620.77,325.29 615.98,316.98 620.77,308.67 630.37,308.67"/><polygon points="635.17,333.6 630.37,341.91 620.77,341.91 615.98,333.6 620.77,325.29 630.37,325.29"/><polygon points="635.17,350.22 630.37,358.53 620.77,358.53 615.98,350.22 620.77,341.91 630.37,341.91"/><polygon points="635.17,366.84 630.37,375.15 620.77,375.15 615.98,366.84 620.77,358.53 630.37,358.53"/><polygon points="635.17,383.46 630.37,391.77 620.77,391.77 615.98,383.46 620.77,375.15 630.37,375.15"/><polygon points="635.17,400.08 630.37,408.39 620.77,408.39 615.98,400.08 620.77,391.77 630.37,391.77"/><polygon points="635.17,416.7 630.37,425 620.77,425 615.98,416.7 620.77,408.39 630.37,408.39"/><polygon points="635.17,433.31 630.37,441.62 620.77,441.62 615.98,433.31 620.77,425 630.37,425"/><polygon points="635.17,449.93 630.37,458.24 620.77,458.24 615.98,449.93 620.77,441.62 630.37,441.62"/><polygon points="635.17,466.55 630.37,474.86 620.77,474.86 615.98,466.55 620.77,458.24 630.37,458.24"/><polygon points="635.17,483.17 630.37,491.48 620.77,491.48 615.98,483.17 620.77,474.86 630.37,474.86"/><polygon points="635.17,499.79 630.37,508.1 620.77,508.1 615.98,499.79 620.77,491.48 630.37,491.48"/><polygon points="635.17,516.41 630.37,524.72 620.77,524.72 615.98,516.41 620.77,508.1 630.37,508.1"/><polygon points="635.17,533.03 630.37,541.34 620.77,541.34 615.98,533.03 620.77,524.72 630.37,524.72"/><polygon points="635.17,549.65 630.37,557.96 620.77,557.96 615.98,549.65 620.77,541.34 630.37,541.34"/><polygon points="635.17,566.27 630.37,574.58 620.77,574.58 615.98,566.27 620.77,557.96 630.37,557.96"/><polygon points="635.17,582.89 630.37,591.19 620.77,591.19 615.98,582.89 620.77,574.58 630.37,574.58"/><polygon points="635.17,599.5 630.37,607.81 620.77,607.81 615.98,599.5 620.77,591.19 630.37,591.19"/><polygon points="635.17,616.12 630.37,624.43 620.77,624.43 615.98,616.12 620.77,607.81 630.37,607.81"/><polygon points="635.17,632.74 630.37,641.05 620.77,641.05 615.98,632.74 620.77,624.43 630.37,624.43"/><polygon points="635.17,649.36 630.37,657.67 620.77,657.67 615.98,649.36 620.77,641.05 630.37,641.05"/><polygon points="635.17,665.98 630.37,674.29 620.77,674.29 615.98,665.98 620.77,657.67 630.37,657.67"/><polygon points="635.17,682.6 630.37,690.91 620.77,690.91 615.98,682.6 620.77,674.29 630.37,674.29"/><polygon points="635.17,699.22 630.37,707.53 620.77,707.53 615.98,699.22 620.77,690.91 630.37,690.91"/><polygon points="635.17,715.84 630.37,724.15 620.77,724.15 615.98,715.84 620.77,707.53 630.37,707.53"/><polygon points="635.17,732.46 630.37,740.77 620.77,740.77 615.98,732.46 620.77,724.15 630.37,724.15"/><polygon points="635.17,749.08 630.37,757.39 620.77,757.39 615.98,749.08 620.77,740.77 630.37,740.77"/><polygon points="635.17,765.69 630.37,774 620.77,774 615.98,765.69 620.77,757.39 630.37,757.39"/><polygon points="635.17,782.31 630.37,790.62 620.77,790.62 615.98,782.31 620.77,774 630.37,774"/><polygon points="635.17,798.93 630.37,807.24 620.77,807.24 615.98,798.93 620.77,790.62 630.37,790.62"/><polygon points="649.56,292.05 644.76,300.36 635.16,300.36 630.37,292.05 635.16,283.74 644.76,283.74"/><polygon points="649.56,308.67 644.76,316.98 635.16,316.98 630.37,308.67 635.16,300.36 644.76,300.36"/><polygon points="649.56,325.29 644.76,333.6 635.16,333.6 630.37,325.29 635.16,316.98 644.76,316.98"/><polygon points="649.56,341.91 644.76,350.22 635.16,350.22 630.37,341.91 635.16,333.6 644.76,333.6"/><polygon points="649.56,358.53 644.76,366.84 635.16,366.84 630.37,358.53 635.16,350.22 644.76,350.22"/><polygon points="649.56,375.15 644.76,383.46 635.16,383.46 630.37,375.15 635.16,366.84 644.76,366.84"/><polygon points="649.56,391.77 644.76,400.08 635.16,400.08 630.37,391.77 635.16,383.46 644.76,383.46"/><polygon points="649.56,408.39 644.76,416.7 635.16,416.7 630.37,408.39 635.16,400.08 644.76,400.08"/><polygon points="649.56,425 644.76,433.31 635.16,433.31 630.37,425 635.16,416.7 644.76,416.7"/><polygon points="649.56,441.62 644.76,449.93 635.16,449.93 630.37,441.62 635.16,433.31 644.76,433.31"/><polygon points="649.56,458.24 644.76,466.55 635.16,466.55 630.37,458.24 635.16,449.93 644.76,449.93"/><polygon points="649.56,474.86 644.76,483.17 635.16,483.17 630.37,474.86 635.16,466.55 644.76,466.55"/><polygon points="649.56,491.48 644.76,499.79 635.16,499.79 630.37,491.48 635.16,483.17 644.76,483.17"/><polygon points="649.56,508.1 644.76,516.41 635.16,516.41 630.37,508.1 635.16,499.79 644.76,499.79"/><polygon points="649.56,524.72 644.76,533.03 635.16,533.03 630.37,524.72 635.16,516.41 644.76,516.41"/><polygon points="649.56,541.34 644.76,549.65 635.16,549.65 630.37,541.34 635.16,533.03 644.76,533.03"/><polygon points="649.56,557.96 644.76,566.27 635.16,566.27 630.37,557.96 635.16,549.65 644.76,549.65"/><polygon points="649.56,574.58 644.76,582.89 635.16,582.89 630.37,574.58 635.16,566.27 644.76,566.27"/><polygon points="649.56,591.19 644.76,599.5 635.16,599.5 630.37,591.19 635.16,582.89 644.76,582.89"/><polygon points="649.56,607.81 644.76,616.12 635.16,616.12 630.37,607.81 635.16,599.5 644.76,599.5"/><polygon points="649.56,624.43 644.76,632.74 635.16,632.74 630.37,624.43 635.16,616.12 644.76,616.12"/><polygon points="649.56,641.05 644.76,649.36 635.16,649.36 630.37,641.05 635.16,632.74 644.76,632.74"/><polygon points="649.56,657.67 644.76,665.98 635.16,665.98 630.37,657.67 635.16,649.36 644.76,649.36"/><polygon points="649.56,674.29 644.76,682.6 635.16,682.6 630.37,674.29 635.16,665.98 644.76,665.98"/><polygon points="649.56,690.91 644.76,699.22 635.16,699.22 630.37,690.91 635.16,682.6 644.76,682.6"/><polygon points="649.56,707.53 644.76,715.84 635.16,715.84 630.37,707.53 635.16,699.22 644.76,699.22"/><polygon points="649.56,724.15 644.76,732.46 635.16,732.46 630.37,724.15 635.16,715.84 644.76,715.84"/><polygon points="649.56,740.77 644.76,749.08 635.16,749.08 630.37,740.77 635.16,732.46 644.76,732.46"/><polygon points="649.56,757.39 644.76,765.69 635.16,765.69 630.37,757.39 635.16,749.08 644.76,749.08"/><polygon points="649.56,774 644.76,782.31 635.16,782.31 630.37,774 635.16,765.69 644.76,765.69"/><polygon points="649.56,790.62 644.76,798.93 635.16,798.93 630.37,790.62 635.16,782.31 644.76,782.31"/><polygon points="663.95,283.74 659.15,292.05 649.56,292.05 644.76,283.74 649.56,275.43 659.15,275.43"/><polygon points="663.95,300.36 659.15,308.67 649.56,308.67 644.76,300.36 649.56,292.05 659.15,292.05"/><polygon points="663.95,316.98 659.15,325.29 649.56,325.29 644.76,316.98 649.56,308.67 659.15,308.67"/><polygon points="663.95,333.6 659.15,341.91 649.56,341.91 644.76,333.6 649.56,325.29 659.15,325.29"/><polygon points="663.95,350.22 659.15,358.53 649.56,358.53 644.76,350.22 649.56,341.91 659.15,341.91"/><polygon points="663.95,366.84 659.15,375.15 649.56,375.15 644.76,366.84 649.56,358.53 659.15,358.53"/><polygon points="663.95,383.46 659.15,391.77 649.56,391.77 644.76,383.46 649.56,375.15 659.15,375.15"/><polygon points="663.95,400.08 659.15,408.39 649.56,408.39 644.76,400.08 649.56,391.77 659.15,391.77"/><polygon points="663.95,416.7 659.15,425 649.56,425 644.76,416.7 649.56,408.39 659.15,408.39"/><polygon points="663.95,433.31 659.15,441.62 649.56,441.62 644.76,433.31 649.56,425 659.15,425"/><polygon points="663.95,449.93 659.15,458.24 649.56,458.24 644.76,449.93 649.56,441.62 659.15,441.62"/><polygon points="663.95,466.55 659.15,474.86 649.56,474.86 644.76,466.55 649.56,458.24 659.15,458.24"/><polygon points="663.95,483.17 659.15,491.48 649.56,491.48 644.76,483.17 649.56,474.86 659.15,474.86"/><polygon points="663.95,499.79 659.15,508.1 649.56,508.1 644.76,499.79 649.56,491.48 659.15,491.48"/><polygon points="663.95,516.41 659.15,524.72 649.56,524.72 644.76,516.41 649.56,508.1 659.15,508.1"/><polygon points="663.95,533.03 659.15,541.34 649.56,541.34 644.76,533.03 649.56,524.72 659.15,524.72"/><polygon points="663.95,549.65 659.15,557.96 649.56,557.96 644.76,549.65 649.56,541.34 659.15,541.34"/><polygon points="663.95,566.27 659.15,574.58 649.56,574.58 644.76,566.27 649.56,557.96 659.15,557.96"/><polygon points="663.95,582.89 659.15,591.19 649.56,591.19 644.76,582.89 649.56,574.58 659.15,574.58"/><polygon points="663.95,599.5 659.15,607.81 649.56,607.81 644.76,599.5 649.56,591.19 659.15,591.19"/><polygon points="663.95,616.12 659.15,624.43 649.56,624.43 644.76,616.12 649.56,607.81 659.15,607.81"/><polygon points="663.95,632.74 659.15,641.05 649.56,641.05 644.76,632.74 649.56,624.43 659.15,624.43"/><polygon points="663.95,649.36 659.15,657.67 649.56,657.67 644.76,649.36 649.56,641.05 659.15,641.05"/><polygon points="663.95,665.98 659.15,674.29 649.56,674.29 644.76,665.98 649.56,657.67 659.15,657.67"/><polygon points="663.95,682.6 659.15,690.91 649.56,690.91 644.76,682.6 649.56,674.29 659.15,674.29"/><polygon points="663.95,699.22 659.15,707.53 649.56,707.53 644.76,699.22 649.56,690.91 659.15,690.91"/><polygon points="663.95,715.84 659.15,724.15 649.56,724.15 644.76,715.84 649.56,707.53 659.15,707.53"/><polygon points="663.95,732.46 659.15,740.77 649.56,740.77 644.76,732.46 649.56,724.15 659.15,724.15"/><polygon points="663.95,749.08 659.15,757.39 649.56,757.39 644.76,749.08 649.56,740.77 659.15,740.77"/><polygon points="663.95,765.69 659.15,774 649.56,774 644.76,765.69 649.56,757.39 659.15,757.39"/><polygon points="663.95,782.31 659.15,790.62 649.56,790.62 644.76,782.31 649.56,774 659.15,774"/><polygon points="663.95,798.93 659.15,807.24 649.56,807.24 644.76,798.93 649.56,790.62 659.15,790.62"/><polygon points="678.34,292.05 673.55,300.36 663.95,300.36 659.15,292.05 663.95,283.74 673.55,283.74"/><polygon points="678.34,308.67 673.55,316.98 663.95,316.98 659.15,308.67 663.95,300.36 673.55,300.36"/><polygon points="678.34,325.29 673.55,333.6 663.95,333.6 659.15,325.29 663.95,316.98 673.55,316.98"/><polygon points="678.34,341.91 673.55,350.22 663.95,350.22 659.15,341.91 663.95,333.6 673.55,333.6"/><polygon points="678.34,358.53 673.55,366.84 663.95,366.84 659.15,358.53 663.95,350.22 673.55,350.22"/><polygon points="678.34,375.15 673.55,383.46 663.95,383.46 659.15,375.15 663.95,366.84 673.55,366.84"/><polygon points="678.34,391.77 673.55,400.08 663.95,400.08 659.15,391.77 663.95,383.46 673.55,383.46"/><polygon points="678.34,408.39 673.55,416.7 663.95,416.7 659.15,408.39 663.95,400.08 673.55,400.08"/><polygon points="678.34,425 673.55,433.31 663.95,433.31 659.15,425 663.95,416.7 673.55,416.7"/><polygon points="678.34,441.62 673.55,449.93 663.95,449.93 659.15,441.62 663.95,433.31 673.55,433.31"/><polygon points="678.34,458.24 673.55,466.55 663.95,466.55 659.15,458.24 663.95,449.93 673.55,449.93"/><polygon points="678.34,474.86 673.55,483.17 663.95,483.17 659.15,474.86 663.95,466.55 673.55,466.55"/><polygon points="678.34,491.48 673.55,499.79 663.95,499.79 659.15,491.48 663.95,483.17 673.55,483.17"/><polygon points="678.34,508.1 673.55,516.41 663.95,516.41 659.15,508.1 663.95,499.79 673.55,499.79"/><polygon points="678.34,524.72 673.55,533.03 663.95,533.03 659.15,524.72 663.95,516.41 673.55,516.41"/><polygon points="678.34,541.34 673.55,549.65 663.95,549.65 659.15,541.34 663.95,533.03 673.55,533.03"/><polygon points="678.34,557.96 673.55,566.27 663.95,566.27 659.15,557.96 663.95,549.65 673.55,549.65"/><polygon points="678.34,574.58 673.55,582.89 663.95,582.89 659.15,574.58 663.95,566.27 673.55,566.27"/><polygon points="678.34,591.19 673.55,599.5 663.95,599.5 659.15,591.19 663.95,582.89 673.55,582.89"/><polygon points="678.34,607.81 673.55,616.12 663.95,616.12 659.15,607.81 663.95,599.5 673.55,599.5"/><polygon points="678.34,624.43 673.55,632.74 663.95,632.74 659.15,624.43 663.95,616.12 673.55,616.12"/><polygon points="678.34,641.05 673.55,649.36 663.95,649.36 659.15,641.05 663.95,632.74 673.55,632.74"/><polygon points="678.34,657.67 673.55,665.98 663.95,665.98 659.15,657.67 663.95,649.36 673.55,649.36"/><polygon points="678.34,674.29 673.55,682.6 663.95,682.6 659.15,674.29 663.95,665.98 673.55,665.98"/><polygon points="678.34,690.91 673.55,699.22 663.95,699.22 659.15,690.91 663.95,682.6 673.55,682.6"/><polygon points="678.34,707.53 673.55,715.84 663.95,715.84 659.15,707.53 663.95,699.22 673.55,699.22"/><polygon points="678.34,724.15 673.55,732.46 663.95,732.46 659.15,724.15 663.95,715.84 673.55,715.84"/><polygon points="678.34,740.77 673.55,749.08 663.95,749.08 659.15,740.77 663.95,732.46 673.55,732.46"/><polygon points="678.34,757.39 673.55,765.69 663.95,765.69 659.15,757.39 663.95,749.08 673.55,749.08"/><polygon points="678.34,774 673.55,782.31 663.95,782.31 659.15,774 663.95,765.69 673.55,765.69"/><polygon points="678.34,790.62 673.55,798.93 663.95,798.93 659.15,790.62 663.95,782.31 673.55,782.31"/><polygon points="692.74,283.74 687.94,292.05 678.34,292.05 673.54,283.74 678.34,275.43 687.94,275.43"/><polygon points="692.74,300.36 687.94,308.67 678.34,308.67 673.54,300.36 678.34,292.05 687.94,292.05"/><polygon points="692.74,316.98 687.94,325.29 678.34,325.29 673.54,316.98 678.34,308.67 687.94,308.67"/><polygon points="692.74,333.6 687.94,341.91 678.34,341.91 673.54,333.6 678.34,325.29 687.94,325.29"/><polygon points="692.74,350.22 687.94,358.53 678.34,358.53 673.54,350.22 678.34,341.91 687.94,341.91"/><polygon points="692.74,366.84 687.94,375.15 678.34,375.15 673.54,366.84 678.34,358.53 687.94,358.53"/><polygon points="692.74,383.46 687.94,391.77 678.34,391.77 673.54,383.46 678.34,375.15 687.94,375.15"/><polygon points="692.74,400.08 687.94,408.39 678.34,408.39 673.54,400.08 678.34,391.77 687.94,391.77"/><polygon points="692.74,416.7 687.94,425 678.34,425 673.54,416.7 678.34,408.39 687.94,408.39"/><polygon points="692.74,433.31 687.94,441.62 678.34,441.62 673.54,433.31 678.34,425 687.94,425"/><polygon points="692.74,449.93 687.94,458.24 678.34,458.24 673.54,449.93 678.34,441.62 687.94,441.62"/><polygon points="692.74,466.55 687.94,474.86 678.34,474.86 673.54,466.55 678.34,458.24 687.94,458.24"/><polygon points="692.74,483.17 687.94,491.48 678.34,491.48 673.54,483.17 678.34,474.86 687.94,474.86"/><polygon points="692.74,499.79 687.94,508.1 678.34,508.1 673.54,499.79 678.34,491.48 687.94,491.48"/><polygon points="692.74,516.41 687.94,524.72 678.34,524.72 673.54,516.41 678.34,508.1 687.94,508.1"/><polygon points="692.74,533.03 687.94,541.34 678.34,541.34 673.54,533.03 678.34,524.72 687.94,524.72"/><polygon points="692.74,549.65 687.94,557.96 678.34,557.96 673.54,549.65 678.34,541.34 687.94,541.34"/><polygon points="692.74,566.27 687.94,574.58 678.34,574.58 673.54,566.27 678.34,557.96 687.94,557.96"/><polygon points="692.74,582.89 687.94,591.19 678.34,591.19 673.54,582.89 678.34,574.58 687.94,574.58"/><polygon points="692.74,599.5 687.94,607.81 678.34,607.81 673.54,599.5 678.34,591.19 687.94,591.19"/><polygon points="692.74,616.12 687.94,624.43 678.34,624.43 673.54,616.12 678.34,607.81 687.94,607.81"/><polygon points="692.74,632.74 687.94,641.05 678.34,641.05 673.54,632.74 678.34,624.43 687.94,624.43"/><polygon points="692.74,649.36 687.94,657.67 678.34,657.67 673.54,649.36 678.34,641.05 687.94,641.05"/><polygon points="692.74,665.98 687.94,674.29 678.34,674.29 673.54,665.98 678.34,657.67 687.94,657.67"/><polygon points="692.74,682.6 687.94,690.91 678.34,690.91 673.54,682.6 678.34,674.29 687.94,674.29"/><polygon points="692.74,699.22 687.94,707.53 678.34,707.53 673.54,699.22 678.34,690.91 687.94,690.91"/><polygon points="692.74,715.84 687.94,724.15 678.34,724.15 673.54,715.84 678.34,707.53 687.94,707.53"/><polygon points="692.74,732.46 687.94,740.77 678.34,740.77 673.54,732.46 678.34,724.15 687.94,724.15"/><polygon points="692.74,749.08 687.94,757.39 678.34,757.39 673.54,749.08 678.34,740.77 687.94,740.77"/><polygon points="692.74,765.69 687.94,774 678.34,774 673.54,765.69 678.34,757.39 687.94,757.39"/><polygon points="692.74,782.31 687.94,790.62 678.34,790.62 673.54,782.31 678.34,774 687.94,774"/><polygon points="692.74,798.93 687.94,807.24 678.34,807.24 673.54,798.93 678.34,790.62 687.94,790.62"/></g><g clip-path="url(#c15)" stroke="#262626" stroke-width="1.15"><line x1="554" y1="689.46" x2="588.5" y2="708.09"/><line x1="554" y1="694.46" x2="588.5" y2="713.09"/><line x1="554" y1="705.66" x2="588.5" y2="724.29"/><line x1="554" y1="710.66" x2="588.5" y2="729.29"/><line x1="554" y1="721.86" x2="588.5" y2="740.49"/><line x1="554" y1="726.86" x2="588.5" y2="745.49"/><line x1="554" y1="738.06" x2="588.5" y2="756.69"/><line x1="554" y1="743.06" x2="588.5" y2="761.69"/><line x1="554" y1="754.26" x2="588.5" y2="772.89"/><line x1="554" y1="759.26" x2="588.5" y2="777.89"/><line x1="554" y1="770.46" x2="588.5" y2="789.09"/><line x1="554" y1="775.46" x2="588.5" y2="794.09"/><line x1="554" y1="786.66" x2="588.5" y2="805.29"/><line x1="554" y1="791.66" x2="588.5" y2="810.29"/><line x1="554" y1="802.86" x2="588.5" y2="821.49"/><line x1="554" y1="807.86" x2="588.5" y2="826.49"/><line x1="554" y1="819.06" x2="588.5" y2="837.69"/><line x1="554" y1="824.06" x2="588.5" y2="842.69"/><line x1="554" y1="835.26" x2="588.5" y2="853.89"/><line x1="554" y1="840.26" x2="588.5" y2="858.89"/><line x1="554" y1="851.46" x2="588.5" y2="870.09"/><line x1="554" y1="856.46" x2="588.5" y2="875.09"/><line x1="554" y1="867.66" x2="588.5" y2="886.29"/><line x1="554" y1="872.66" x2="588.5" y2="891.29"/><line x1="554" y1="883.86" x2="588.5" y2="902.49"/><line x1="554" y1="888.86" x2="588.5" y2="907.49"/><line x1="554" y1="900.06" x2="588.5" y2="918.69"/><line x1="554" y1="905.06" x2="588.5" y2="923.69"/><line x1="554" y1="916.26" x2="588.5" y2="934.89"/><line x1="554" y1="921.26" x2="588.5" y2="939.89"/></g><g clip-path="url(#c16)" stroke="#262626" stroke-width="1.15"><line x1="588.5" y1="697.16" x2="624" y2="685.45"/><line x1="588.5" y1="702.16" x2="624" y2="690.45"/><line x1="588.5" y1="712.66" x2="624" y2="700.95"/><line x1="588.5" y1="717.66" x2="624" y2="705.95"/><line x1="588.5" y1="728.16" x2="624" y2="716.45"/><line x1="588.5" y1="733.16" x2="624" y2="721.45"/><line x1="588.5" y1="743.66" x2="624" y2="731.95"/><line x1="588.5" y1="748.66" x2="624" y2="736.95"/><line x1="588.5" y1="759.16" x2="624" y2="747.45"/><line x1="588.5" y1="764.16" x2="624" y2="752.45"/><line x1="588.5" y1="774.66" x2="624" y2="762.95"/><line x1="588.5" y1="779.66" x2="624" y2="767.95"/><line x1="588.5" y1="790.16" x2="624" y2="778.45"/><line x1="588.5" y1="795.16" x2="624" y2="783.45"/><line x1="588.5" y1="805.66" x2="624" y2="793.95"/><line x1="588.5" y1="810.66" x2="624" y2="798.95"/><line x1="588.5" y1="821.16" x2="624" y2="809.45"/><line x1="588.5" y1="826.16" x2="624" y2="814.45"/><line x1="588.5" y1="836.66" x2="624" y2="824.95"/><line x1="588.5" y1="841.66" x2="624" y2="829.95"/><line x1="588.5" y1="852.16" x2="624" y2="840.45"/><line x1="588.5" y1="857.16" x2="624" y2="845.45"/><line x1="588.5" y1="867.66" x2="624" y2="855.95"/><line x1="588.5" y1="872.66" x2="624" y2="860.95"/><line x1="588.5" y1="883.16" x2="624" y2="871.45"/><line x1="588.5" y1="888.16" x2="624" y2="876.45"/></g><g clip-path="url(#c17)" stroke="#262626" stroke-width="1.15"><line x1="624" y1="691.96" x2="659" y2="710.86"/><line x1="624" y1="697.26" x2="659" y2="716.16"/><line x1="624" y1="708.06" x2="659" y2="726.96"/><line x1="624" y1="713.36" x2="659" y2="732.26"/><line x1="624" y1="724.16" x2="659" y2="743.06"/><line x1="624" y1="729.46" x2="659" y2="748.36"/><line x1="624" y1="740.26" x2="659" y2="759.16"/><line x1="624" y1="745.56" x2="659" y2="764.46"/><line x1="624" y1="756.36" x2="659" y2="775.26"/><line x1="624" y1="761.66" x2="659" y2="780.56"/><line x1="624" y1="772.46" x2="659" y2="791.36"/><line x1="624" y1="777.76" x2="659" y2="796.66"/><line x1="624" y1="788.56" x2="659" y2="807.46"/><line x1="624" y1="793.86" x2="659" y2="812.76"/><line x1="624" y1="804.66" x2="659" y2="823.56"/><line x1="624" y1="809.96" x2="659" y2="828.86"/><line x1="624" y1="820.76" x2="659" y2="839.66"/><line x1="624" y1="826.06" x2="659" y2="844.96"/><line x1="624" y1="836.86" x2="659" y2="855.76"/><line x1="624" y1="842.16" x2="659" y2="861.06"/><line x1="624" y1="852.96" x2="659" y2="871.86"/><line x1="624" y1="858.26" x2="659" y2="877.16"/><line x1="624" y1="869.06" x2="659" y2="887.96"/><line x1="624" y1="874.36" x2="659" y2="893.26"/><line x1="624" y1="885.16" x2="659" y2="904.06"/><line x1="624" y1="890.46" x2="659" y2="909.36"/></g><path d="M554,833.4 L554,245.3 L593,245.3" fill="none" stroke="#1e1e1e" stroke-width="2"/><line x1="659" y1="269" x2="659" y2="810.6" stroke="#1e1e1e" stroke-width="2" /><line x1="554" y1="312.1" x2="659" y2="312.1" stroke="#1e1e1e" stroke-width="1.8" /><line x1="554" y1="767.3" x2="659" y2="767.3" stroke="#1e1e1e" stroke-width="1.8" /><line x1="588.5" y1="245.3" x2="588.5" y2="312.1" stroke="#1e1e1e" stroke-width="1.1" /><line x1="624.5" y1="269" x2="624.5" y2="312.1" stroke="#1e1e1e" stroke-width="1.1" /><line x1="588.5" y1="767.3" x2="588.5" y2="833.4" stroke="#1e1e1e" stroke-width="1.1" /><line x1="624.5" y1="767.3" x2="624.5" y2="810.6" stroke="#1e1e1e" stroke-width="1.1" /><line x1="593" y1="269" x2="660" y2="269" stroke="#1e1e1e" stroke-width="2.0" /><line x1="593" y1="810.6" x2="660" y2="810.6" stroke="#1e1e1e" stroke-width="2.0" /><line x1="554" y1="833.4" x2="593" y2="833.4" stroke="#1e1e1e" stroke-width="2.0" /><rect x="585" y="245" width="7.7" height="38" fill="#1a1a1a"/><rect x="661" y="243.3" width="7" height="39.7" fill="#1a1a1a"/><rect x="585" y="796" width="7.8" height="38" fill="#1a1a1a"/><rect x="660" y="812.7" width="8.4" height="19.5" fill="#1a1a1a"/><rect x="587.8" y="249" width="1.6" height="4.5" fill="#6a6a6a"/><rect x="588.6" y="255.5" width="1.2" height="2.2" fill="#6a6a6a"/><rect x="588.6" y="270" width="1.6" height="3" fill="#6a6a6a"/><rect x="663.2" y="245.5" width="3" height="1.2" fill="#6a6a6a"/><rect x="663.8" y="257" width="2" height="1" fill="#6a6a6a"/><rect x="664.2" y="268" width="1.6" height="8" fill="#6a6a6a"/><rect x="587.8" y="800" width="1.6" height="4" fill="#6a6a6a"/><rect x="588.6" y="822" width="1.4" height="7" fill="#6a6a6a"/><rect x="663.5" y="816" width="2" height="1.2" fill="#6a6a6a"/><g clip-path="url(#c18)" stroke="#2e2e2e" stroke-width="1.2"><line x1="400" y1="620.7" x2="605" y2="825.7"/><line x1="400" y1="630.9" x2="605" y2="835.9"/><line x1="400" y1="641.1" x2="605" y2="846.1"/><line x1="400" y1="651.3" x2="605" y2="856.3"/><line x1="400" y1="661.5" x2="605" y2="866.5"/><line x1="400" y1="671.7" x2="605" y2="876.7"/><line x1="400" y1="681.9" x2="605" y2="886.9"/><line x1="400" y1="692.1" x2="605" y2="897.1"/><line x1="400" y1="702.3" x2="605" y2="907.3"/><line x1="400" y1="712.5" x2="605" y2="917.5"/><line x1="400" y1="722.7" x2="605" y2="927.7"/><line x1="400" y1="732.9" x2="605" y2="937.9"/><line x1="400" y1="743.1" x2="605" y2="948.1"/><line x1="400" y1="753.3" x2="605" y2="958.3"/><line x1="400" y1="763.5" x2="605" y2="968.5"/><line x1="400" y1="773.7" x2="605" y2="978.7"/><line x1="400" y1="783.9" x2="605" y2="988.9"/><line x1="400" y1="794.1" x2="605" y2="999.1"/><line x1="400" y1="804.3" x2="605" y2="1009.3"/><line x1="400" y1="814.5" x2="605" y2="1019.5"/><line x1="400" y1="824.7" x2="605" y2="1029.7"/><line x1="400" y1="834.9" x2="605" y2="1039.9"/><line x1="400" y1="845.1" x2="605" y2="1050.1"/><line x1="400" y1="855.3" x2="605" y2="1060.3"/><line x1="400" y1="865.5" x2="605" y2="1070.5"/><line x1="400" y1="875.7" x2="605" y2="1080.7"/></g><g clip-path="url(#c19)" stroke="#2e2e2e" stroke-width="1.2"><line x1="735" y1="751.7" x2="815" y2="831.7"/><line x1="735" y1="761.9" x2="815" y2="841.9"/><line x1="735" y1="772.1" x2="815" y2="852.1"/><line x1="735" y1="782.3" x2="815" y2="862.3"/><line x1="735" y1="792.5" x2="815" y2="872.5"/><line x1="735" y1="802.7" x2="815" y2="882.7"/><line x1="735" y1="812.9" x2="815" y2="892.9"/><line x1="735" y1="823.1" x2="815" y2="903.1"/><line x1="735" y1="833.3" x2="815" y2="913.3"/><line x1="735" y1="843.5" x2="815" y2="923.5"/><line x1="735" y1="853.7" x2="815" y2="933.7"/><line x1="735" y1="863.9" x2="815" y2="943.9"/><line x1="735" y1="874.1" x2="815" y2="954.1"/></g><g clip-path="url(#c20)" stroke="#2e2e2e" stroke-width="1.2"><line x1="395" y1="405.8" x2="805" y2="815.8"/><line x1="395" y1="432.8" x2="805" y2="842.8"/><line x1="395" y1="459.8" x2="805" y2="869.8"/><line x1="395" y1="486.8" x2="805" y2="896.8"/><line x1="395" y1="513.8" x2="805" y2="923.8"/><line x1="395" y1="540.8" x2="805" y2="950.8"/><line x1="395" y1="567.8" x2="805" y2="977.8"/><line x1="395" y1="594.8" x2="805" y2="1004.8"/><line x1="395" y1="621.8" x2="805" y2="1031.8"/><line x1="395" y1="648.8" x2="805" y2="1058.8"/><line x1="395" y1="675.8" x2="805" y2="1085.8"/><line x1="395" y1="702.8" x2="805" y2="1112.8"/><line x1="395" y1="729.8" x2="805" y2="1139.8"/><line x1="395" y1="756.8" x2="805" y2="1166.8"/><line x1="395" y1="783.8" x2="805" y2="1193.8"/><line x1="395" y1="810.8" x2="805" y2="1220.8"/><line x1="395" y1="837.8" x2="805" y2="1247.8"/><line x1="395" y1="864.8" x2="805" y2="1274.8"/><line x1="395" y1="891.8" x2="805" y2="1301.8"/><line x1="395" y1="918.8" x2="805" y2="1328.8"/><line x1="395" y1="945.8" x2="805" y2="1355.8"/></g><g clip-path="url(#c20)" stroke="#3a3a3a" stroke-width="1.2" stroke-dasharray="10 5"><line x1="395" y1="419.3" x2="805" y2="829.3"/><line x1="395" y1="446.3" x2="805" y2="856.3"/><line x1="395" y1="473.3" x2="805" y2="883.3"/><line x1="395" y1="500.3" x2="805" y2="910.3"/><line x1="395" y1="527.3" x2="805" y2="937.3"/><line x1="395" y1="554.3" x2="805" y2="964.3"/><line x1="395" y1="581.3" x2="805" y2="991.3"/><line x1="395" y1="608.3" x2="805" y2="1018.3"/><line x1="395" y1="635.3" x2="805" y2="1045.3"/><line x1="395" y1="662.3" x2="805" y2="1072.3"/><line x1="395" y1="689.3" x2="805" y2="1099.3"/><line x1="395" y1="716.3" x2="805" y2="1126.3"/><line x1="395" y1="743.3" x2="805" y2="1153.3"/><line x1="395" y1="770.3" x2="805" y2="1180.3"/><line x1="395" y1="797.3" x2="805" y2="1207.3"/><line x1="395" y1="824.3" x2="805" y2="1234.3"/><line x1="395" y1="851.3" x2="805" y2="1261.3"/><line x1="395" y1="878.3" x2="805" y2="1288.3"/><line x1="395" y1="905.3" x2="805" y2="1315.3"/><line x1="395" y1="932.3" x2="805" y2="1342.3"/><line x1="395" y1="959.3" x2="805" y2="1369.3"/></g><polygon points="425.3,862.5 796,862.5 784,869.8 794.5,877 794.5,901 619.5,901 610.5,911.4 599.9,891.5 593.5,901 415.6,901 415.6,881.3 406.4,875" fill="none" stroke="#333" stroke-width="1.2" /><polyline points="415.6,841.1 415.6,857.5 425.3,862.5" fill="none" stroke="#333" stroke-width="1.2" stroke-linejoin="miter" /><polyline points="794.5,841.1 794.5,848.7 804.5,858.6 796,862.5" fill="none" stroke="#333" stroke-width="1.2" stroke-linejoin="miter" /><line x1="415.6" y1="841.1" x2="593.3" y2="841.1" stroke="#1e1e1e" stroke-width="2.1" /><line x1="747.4" y1="841.1" x2="794.5" y2="841.1" stroke="#1e1e1e" stroke-width="2.4" /><line x1="425.3" y1="862.5" x2="593.3" y2="862.5" stroke="#1e1e1e" stroke-width="1.3" /><g clip-path="url(#c21)"><rect x="593.3" y="841.3" width="154.1" height="21" fill="#2a2a2a"/><g stroke-width="1.1" stroke-linecap="round"><line x1="613.85" y1="842.51" x2="615.46" y2="840.91" stroke="#4c4c4c"/><line x1="691.81" y1="851.73" x2="693.92" y2="849.62" stroke="#4c4c4c"/><line x1="694.39" y1="862.59" x2="696.38" y2="864.57" stroke="#4c4c4c"/><line x1="626.55" y1="859.81" x2="628.59" y2="857.77" stroke="#4c4c4c"/><line x1="594.25" y1="859.37" x2="595.9" y2="861.02" stroke="#4c4c4c"/><line x1="612.06" y1="849.39" x2="613.97" y2="847.48" stroke="#5a5a5a"/><line x1="670.91" y1="850.72" x2="672.37" y2="849.25" stroke="#7a7a7a"/><line x1="638.52" y1="851.44" x2="640.53" y2="853.46" stroke="#4c4c4c"/><line x1="657.01" y1="854.07" x2="658.62" y2="855.68" stroke="#7a7a7a"/><line x1="669.37" y1="862.9" x2="670.96" y2="861.31" stroke="#5a5a5a"/><line x1="627.74" y1="844.69" x2="629.33" y2="846.29" stroke="#6a6a6a"/><line x1="611.07" y1="857.22" x2="612.87" y2="855.42" stroke="#4c4c4c"/><line x1="695.53" y1="845.06" x2="697.43" y2="843.16" stroke="#7a7a7a"/><line x1="620.25" y1="857.79" x2="621.69" y2="856.36" stroke="#4c4c4c"/><line x1="609" y1="842.11" x2="610.82" y2="843.93" stroke="#5a5a5a"/><line x1="672.17" y1="843.87" x2="673.87" y2="842.16" stroke="#6a6a6a"/><line x1="682.69" y1="848.39" x2="684.15" y2="846.93" stroke="#4c4c4c"/><line x1="714.44" y1="843.47" x2="716.46" y2="845.49" stroke="#7a7a7a"/><line x1="731.25" y1="843.39" x2="733.09" y2="845.23" stroke="#7a7a7a"/><line x1="712.76" y1="857.09" x2="714.64" y2="858.97" stroke="#4c4c4c"/><line x1="741.81" y1="842.87" x2="743.83" y2="840.85" stroke="#4c4c4c"/><line x1="698.55" y1="848.56" x2="700.55" y2="850.57" stroke="#4c4c4c"/><line x1="737.85" y1="849.93" x2="739.9" y2="847.89" stroke="#4c4c4c"/><line x1="718.82" y1="845.91" x2="720.65" y2="847.75" stroke="#6a6a6a"/><line x1="667.61" y1="842.32" x2="669.7" y2="840.24" stroke="#6a6a6a"/><line x1="744.25" y1="861.89" x2="746.42" y2="864.05" stroke="#5a5a5a"/><line x1="686.03" y1="840.76" x2="688.17" y2="838.63" stroke="#4c4c4c"/><line x1="633.74" y1="841.1" x2="635.88" y2="838.96" stroke="#5a5a5a"/><line x1="633.34" y1="850.05" x2="634.91" y2="851.62" stroke="#6a6a6a"/><line x1="613.5" y1="862.71" x2="615.43" y2="860.78" stroke="#6a6a6a"/><line x1="667.19" y1="849.41" x2="669.31" y2="847.29" stroke="#7a7a7a"/><line x1="700.46" y1="853.05" x2="702.65" y2="850.86" stroke="#5a5a5a"/><line x1="654.35" y1="841.69" x2="656.37" y2="843.71" stroke="#6a6a6a"/><line x1="713.18" y1="850.45" x2="715.28" y2="848.35" stroke="#4c4c4c"/><line x1="632.49" y1="846.16" x2="634.26" y2="844.4" stroke="#5a5a5a"/><line x1="731.11" y1="851.18" x2="732.92" y2="852.99" stroke="#6a6a6a"/><line x1="593.1" y1="846.69" x2="594.75" y2="848.34" stroke="#5a5a5a"/><line x1="656.34" y1="841.23" x2="658.48" y2="839.1" stroke="#6a6a6a"/><line x1="710.24" y1="845.85" x2="712.22" y2="847.83" stroke="#6a6a6a"/><line x1="678.01" y1="853.17" x2="680.03" y2="855.19" stroke="#5a5a5a"/><line x1="644.68" y1="858.88" x2="646.72" y2="860.93" stroke="#6a6a6a"/><line x1="660.01" y1="843.23" x2="662" y2="841.23" stroke="#6a6a6a"/><line x1="735.95" y1="854.54" x2="737.88" y2="856.47" stroke="#7a7a7a"/><line x1="681.89" y1="850.55" x2="683.33" y2="849.11" stroke="#7a7a7a"/><line x1="689.83" y1="841.77" x2="691.43" y2="840.18" stroke="#7a7a7a"/><line x1="613.79" y1="845.01" x2="615.42" y2="846.65" stroke="#7a7a7a"/><line x1="593.12" y1="858.2" x2="594.83" y2="856.48" stroke="#6a6a6a"/><line x1="684.07" y1="847.68" x2="685.66" y2="849.27" stroke="#6a6a6a"/><line x1="728.63" y1="863.59" x2="730.26" y2="861.96" stroke="#4c4c4c"/><line x1="734.34" y1="861.22" x2="735.93" y2="862.81" stroke="#7a7a7a"/><line x1="630.57" y1="857.77" x2="632.61" y2="855.74" stroke="#7a7a7a"/><line x1="651.54" y1="846.16" x2="653.58" y2="844.12" stroke="#5a5a5a"/><line x1="645.58" y1="860.72" x2="647.54" y2="858.75" stroke="#6a6a6a"/><line x1="743.57" y1="850.7" x2="745.15" y2="849.13" stroke="#7a7a7a"/><line x1="714.91" y1="861.71" x2="716.92" y2="863.72" stroke="#5a5a5a"/><line x1="700.46" y1="838.63" x2="702.19" y2="840.36" stroke="#6a6a6a"/><line x1="659.73" y1="843.68" x2="661.84" y2="845.79" stroke="#7a7a7a"/><line x1="687.06" y1="861.42" x2="689.04" y2="859.44" stroke="#5a5a5a"/><line x1="642.33" y1="855.2" x2="643.82" y2="853.71" stroke="#6a6a6a"/><line x1="691.48" y1="847.15" x2="692.91" y2="848.58" stroke="#4c4c4c"/><line x1="679.09" y1="842.76" x2="680.73" y2="844.4" stroke="#4c4c4c"/><line x1="630.75" y1="853.14" x2="632.37" y2="854.76" stroke="#4c4c4c"/><line x1="631.66" y1="849.2" x2="633.79" y2="851.33" stroke="#6a6a6a"/><line x1="660.52" y1="860.22" x2="662.5" y2="862.2" stroke="#7a7a7a"/><line x1="719.68" y1="847.97" x2="721.77" y2="845.88" stroke="#6a6a6a"/><line x1="712.83" y1="862.75" x2="714.57" y2="861.01" stroke="#6a6a6a"/><line x1="744.92" y1="853.41" x2="746.87" y2="851.46" stroke="#4c4c4c"/><line x1="720.81" y1="843.58" x2="722.94" y2="841.45" stroke="#6a6a6a"/><line x1="611.93" y1="856.49" x2="614.11" y2="854.31" stroke="#5a5a5a"/><line x1="697.03" y1="858.76" x2="698.58" y2="857.21" stroke="#5a5a5a"/><line x1="623.84" y1="860.79" x2="625.68" y2="858.95" stroke="#6a6a6a"/><line x1="746.13" y1="858.9" x2="748.16" y2="860.93" stroke="#5a5a5a"/><line x1="680.91" y1="838.94" x2="682.76" y2="840.8" stroke="#7a7a7a"/><line x1="620.85" y1="852.44" x2="622.68" y2="850.6" stroke="#7a7a7a"/><line x1="597.77" y1="863.05" x2="599.37" y2="864.65" stroke="#7a7a7a"/><line x1="693.49" y1="849.27" x2="695.61" y2="847.15" stroke="#5a5a5a"/><line x1="708.27" y1="864.14" x2="710.35" y2="862.06" stroke="#4c4c4c"/><line x1="633.85" y1="853.76" x2="635.43" y2="855.35" stroke="#5a5a5a"/><line x1="687.34" y1="848.82" x2="688.89" y2="847.27" stroke="#4c4c4c"/><line x1="737.69" y1="846.26" x2="739.22" y2="844.73" stroke="#6a6a6a"/><line x1="681.65" y1="860.77" x2="683.5" y2="862.61" stroke="#6a6a6a"/><line x1="648.69" y1="852.91" x2="650.2" y2="851.4" stroke="#7a7a7a"/><line x1="616.71" y1="849.34" x2="618.18" y2="847.87" stroke="#6a6a6a"/><line x1="594.58" y1="841.57" x2="596.13" y2="840.03" stroke="#4c4c4c"/><line x1="719.79" y1="859.89" x2="721.97" y2="862.06" stroke="#7a7a7a"/><line x1="693.06" y1="852.05" x2="694.69" y2="853.68" stroke="#6a6a6a"/><line x1="661.53" y1="851.21" x2="663.07" y2="849.66" stroke="#7a7a7a"/><line x1="611.93" y1="848.2" x2="613.52" y2="846.61" stroke="#5a5a5a"/><line x1="674.1" y1="853.57" x2="675.86" y2="855.33" stroke="#5a5a5a"/><line x1="680.25" y1="855.3" x2="681.77" y2="853.78" stroke="#4c4c4c"/><line x1="727.17" y1="839.03" x2="728.64" y2="840.51" stroke="#7a7a7a"/><line x1="716.34" y1="860.5" x2="717.99" y2="862.15" stroke="#4c4c4c"/><line x1="700.06" y1="847.75" x2="701.73" y2="849.43" stroke="#7a7a7a"/><line x1="663.29" y1="860.44" x2="664.96" y2="858.77" stroke="#5a5a5a"/><line x1="708.34" y1="862.21" x2="710.02" y2="860.53" stroke="#4c4c4c"/><line x1="710.62" y1="854.03" x2="712.31" y2="852.34" stroke="#6a6a6a"/><line x1="730.39" y1="858.5" x2="732.03" y2="860.14" stroke="#6a6a6a"/><line x1="694.44" y1="850.78" x2="695.87" y2="849.35" stroke="#6a6a6a"/><line x1="655.43" y1="852.5" x2="656.9" y2="853.97" stroke="#5a5a5a"/><line x1="697.93" y1="862.27" x2="699.68" y2="864.02" stroke="#6a6a6a"/><line x1="598.68" y1="838.77" x2="600.27" y2="840.36" stroke="#7a7a7a"/><line x1="674.53" y1="859.32" x2="676.05" y2="857.8" stroke="#7a7a7a"/><line x1="718.15" y1="838.38" x2="720.22" y2="840.45" stroke="#4c4c4c"/><line x1="638.5" y1="856.7" x2="640.29" y2="858.49" stroke="#4c4c4c"/><line x1="659.31" y1="841.51" x2="661.21" y2="843.41" stroke="#4c4c4c"/><line x1="742.05" y1="840.54" x2="744.17" y2="838.42" stroke="#6a6a6a"/><line x1="591.69" y1="852.28" x2="593.75" y2="850.22" stroke="#4c4c4c"/><line x1="680.03" y1="839.09" x2="681.82" y2="840.89" stroke="#7a7a7a"/><line x1="602.54" y1="854.38" x2="604.2" y2="852.72" stroke="#7a7a7a"/><line x1="692.77" y1="851.33" x2="694.6" y2="849.5" stroke="#4c4c4c"/><line x1="674.25" y1="851.89" x2="676.04" y2="853.68" stroke="#7a7a7a"/><line x1="602.36" y1="841.55" x2="604.04" y2="843.23" stroke="#7a7a7a"/><line x1="735.89" y1="855.17" x2="737.45" y2="856.74" stroke="#6a6a6a"/><line x1="628.43" y1="848.69" x2="630.15" y2="846.97" stroke="#5a5a5a"/><line x1="592.63" y1="850.83" x2="594.77" y2="848.7" stroke="#4c4c4c"/><line x1="710.57" y1="852.7" x2="712.48" y2="854.6" stroke="#7a7a7a"/><line x1="662.27" y1="859.86" x2="663.99" y2="861.58" stroke="#7a7a7a"/><line x1="740.11" y1="846.41" x2="742.02" y2="848.32" stroke="#7a7a7a"/><line x1="727.65" y1="844.23" x2="729.35" y2="845.92" stroke="#4c4c4c"/><line x1="591.45" y1="847.29" x2="593.13" y2="848.97" stroke="#4c4c4c"/><line x1="642.49" y1="856.21" x2="644.54" y2="858.27" stroke="#6a6a6a"/><line x1="715.27" y1="838.84" x2="717.35" y2="840.92" stroke="#7a7a7a"/><line x1="676.04" y1="856.53" x2="678.23" y2="858.72" stroke="#5a5a5a"/><line x1="649.4" y1="865.18" x2="651.22" y2="863.35" stroke="#4c4c4c"/><line x1="674.96" y1="842.09" x2="676.79" y2="840.26" stroke="#5a5a5a"/><line x1="681.53" y1="863.72" x2="683.69" y2="861.57" stroke="#5a5a5a"/><line x1="645.23" y1="839.09" x2="646.87" y2="840.73" stroke="#4c4c4c"/><line x1="598.18" y1="841.69" x2="600.02" y2="839.85" stroke="#5a5a5a"/><line x1="684.35" y1="848.67" x2="686.17" y2="846.84" stroke="#4c4c4c"/><line x1="605.81" y1="864.25" x2="607.8" y2="862.25" stroke="#7a7a7a"/><line x1="715.85" y1="864.62" x2="718" y2="862.47" stroke="#4c4c4c"/><line x1="745.48" y1="858.52" x2="747.42" y2="856.59" stroke="#7a7a7a"/><line x1="688.18" y1="852.62" x2="690.24" y2="854.68" stroke="#5a5a5a"/><line x1="676.36" y1="861.45" x2="677.8" y2="860" stroke="#4c4c4c"/><line x1="619.62" y1="850.53" x2="621.5" y2="848.65" stroke="#6a6a6a"/><line x1="590.78" y1="840.62" x2="592.75" y2="842.59" stroke="#6a6a6a"/><line x1="630.64" y1="858.44" x2="632.73" y2="860.53" stroke="#5a5a5a"/><line x1="745.91" y1="841.02" x2="747.99" y2="838.94" stroke="#5a5a5a"/><line x1="600.03" y1="845.09" x2="601.62" y2="846.68" stroke="#7a7a7a"/><line x1="623.42" y1="840.2" x2="625.38" y2="842.15" stroke="#6a6a6a"/><line x1="625.45" y1="851.37" x2="627.64" y2="849.19" stroke="#7a7a7a"/><line x1="640.47" y1="851.94" x2="642" y2="850.41" stroke="#7a7a7a"/><line x1="701" y1="846.38" x2="703.03" y2="848.42" stroke="#5a5a5a"/><line x1="697.8" y1="842.64" x2="699.65" y2="840.79" stroke="#5a5a5a"/><line x1="601.87" y1="844.29" x2="603.9" y2="846.33" stroke="#5a5a5a"/><line x1="687.15" y1="859.15" x2="688.92" y2="857.37" stroke="#7a7a7a"/><line x1="698.84" y1="853.67" x2="700.58" y2="855.4" stroke="#7a7a7a"/><line x1="635.86" y1="840.74" x2="637.74" y2="842.62" stroke="#4c4c4c"/><line x1="649.16" y1="853.18" x2="651.21" y2="855.23" stroke="#6a6a6a"/><line x1="660.73" y1="860.78" x2="662.82" y2="858.69" stroke="#7a7a7a"/><line x1="675.74" y1="858.24" x2="677.26" y2="859.76" stroke="#4c4c4c"/><line x1="722.46" y1="846.85" x2="723.92" y2="848.31" stroke="#7a7a7a"/><line x1="618.71" y1="851.94" x2="620.88" y2="849.77" stroke="#5a5a5a"/><line x1="654.14" y1="852.88" x2="655.95" y2="854.7" stroke="#5a5a5a"/><line x1="746.15" y1="863.54" x2="747.66" y2="862.04" stroke="#7a7a7a"/><line x1="641.78" y1="843.58" x2="643.7" y2="845.5" stroke="#4c4c4c"/><line x1="622.14" y1="862.94" x2="624.29" y2="860.79" stroke="#5a5a5a"/><line x1="596.13" y1="845.83" x2="598.02" y2="847.72" stroke="#5a5a5a"/><line x1="713.6" y1="849.97" x2="715.41" y2="848.15" stroke="#7a7a7a"/><line x1="646.92" y1="860.97" x2="648.33" y2="859.56" stroke="#6a6a6a"/><line x1="683.21" y1="844.28" x2="685.28" y2="842.21" stroke="#4c4c4c"/><line x1="680.55" y1="859.5" x2="682.64" y2="857.41" stroke="#5a5a5a"/><line x1="636.04" y1="860.88" x2="637.45" y2="862.29" stroke="#7a7a7a"/><line x1="719.24" y1="838.54" x2="720.98" y2="840.27" stroke="#7a7a7a"/><line x1="718.25" y1="858.02" x2="720.28" y2="860.05" stroke="#4c4c4c"/><line x1="592.38" y1="840.58" x2="594.45" y2="842.66" stroke="#7a7a7a"/><line x1="725.96" y1="841.48" x2="727.62" y2="843.14" stroke="#7a7a7a"/><line x1="700.11" y1="862.54" x2="701.96" y2="864.4" stroke="#5a5a5a"/><line x1="603.49" y1="858.86" x2="605.07" y2="857.27" stroke="#4c4c4c"/><line x1="652.34" y1="859.97" x2="654.02" y2="861.64" stroke="#7a7a7a"/><line x1="622.09" y1="846.2" x2="623.49" y2="847.6" stroke="#4c4c4c"/><line x1="745.49" y1="843.57" x2="747.25" y2="845.33" stroke="#4c4c4c"/><line x1="596.94" y1="846.92" x2="598.65" y2="848.63" stroke="#7a7a7a"/><line x1="737.93" y1="848.19" x2="739.4" y2="849.66" stroke="#4c4c4c"/><line x1="675.85" y1="850.41" x2="677.94" y2="852.5" stroke="#5a5a5a"/><line x1="622.83" y1="856.32" x2="624.89" y2="858.38" stroke="#7a7a7a"/><line x1="652.95" y1="846.78" x2="654.47" y2="845.26" stroke="#7a7a7a"/><line x1="737.95" y1="844.41" x2="739.56" y2="842.8" stroke="#5a5a5a"/><line x1="725.86" y1="845.54" x2="727.45" y2="843.96" stroke="#4c4c4c"/><line x1="693.08" y1="856.73" x2="694.91" y2="858.56" stroke="#5a5a5a"/><line x1="608.02" y1="843.89" x2="609.95" y2="845.82" stroke="#5a5a5a"/><line x1="615.84" y1="844.22" x2="617.67" y2="842.39" stroke="#7a7a7a"/><line x1="719.8" y1="850.37" x2="721.85" y2="852.42" stroke="#4c4c4c"/><line x1="611.79" y1="845.05" x2="613.45" y2="846.71" stroke="#5a5a5a"/><line x1="670.24" y1="846.08" x2="672.12" y2="847.95" stroke="#6a6a6a"/><line x1="603.02" y1="852.06" x2="604.95" y2="850.13" stroke="#6a6a6a"/><line x1="609.69" y1="850.9" x2="611.54" y2="852.75" stroke="#5a5a5a"/><line x1="640.82" y1="855.73" x2="642.76" y2="853.79" stroke="#5a5a5a"/><line x1="694.38" y1="845.12" x2="696.24" y2="843.26" stroke="#5a5a5a"/><line x1="730.57" y1="841.31" x2="732.32" y2="843.07" stroke="#6a6a6a"/><line x1="679.33" y1="864.61" x2="681.47" y2="862.46" stroke="#4c4c4c"/><line x1="738.36" y1="846.73" x2="740.22" y2="844.87" stroke="#6a6a6a"/><line x1="630.44" y1="848.7" x2="632.18" y2="850.44" stroke="#6a6a6a"/><line x1="611.85" y1="845.29" x2="613.76" y2="847.2" stroke="#6a6a6a"/><line x1="668.56" y1="862.34" x2="670.12" y2="863.9" stroke="#6a6a6a"/><line x1="652.09" y1="852" x2="654.05" y2="850.05" stroke="#5a5a5a"/><line x1="744.76" y1="839.82" x2="746.91" y2="841.97" stroke="#5a5a5a"/><line x1="696.78" y1="852.58" x2="698.95" y2="854.75" stroke="#5a5a5a"/><line x1="712.54" y1="846.24" x2="714.41" y2="844.37" stroke="#4c4c4c"/><line x1="740.05" y1="848.32" x2="741.79" y2="850.06" stroke="#5a5a5a"/><line x1="743.97" y1="859.09" x2="745.54" y2="857.51" stroke="#7a7a7a"/><line x1="734.04" y1="849.18" x2="735.82" y2="850.96" stroke="#7a7a7a"/><line x1="714.8" y1="850.43" x2="716.41" y2="848.82" stroke="#7a7a7a"/><line x1="716.8" y1="846.86" x2="718.74" y2="844.93" stroke="#5a5a5a"/><line x1="661.27" y1="848.95" x2="662.69" y2="847.53" stroke="#6a6a6a"/><line x1="674.74" y1="847.75" x2="676.22" y2="846.26" stroke="#5a5a5a"/><line x1="601.58" y1="844.47" x2="603.33" y2="842.71" stroke="#7a7a7a"/><line x1="669.51" y1="851.7" x2="671.22" y2="853.41" stroke="#7a7a7a"/><line x1="593.12" y1="854.37" x2="595.3" y2="852.2" stroke="#6a6a6a"/><line x1="645.92" y1="848.28" x2="647.91" y2="846.29" stroke="#5a5a5a"/><line x1="613.82" y1="862.39" x2="615.94" y2="864.51" stroke="#7a7a7a"/><line x1="642.68" y1="841.64" x2="644.53" y2="843.49" stroke="#6a6a6a"/><line x1="643.09" y1="839.12" x2="645.25" y2="841.28" stroke="#4c4c4c"/><line x1="649.58" y1="856.19" x2="651.2" y2="854.56" stroke="#6a6a6a"/><line x1="634.08" y1="862.44" x2="635.66" y2="860.86" stroke="#6a6a6a"/><line x1="667.54" y1="863.07" x2="669.03" y2="864.57" stroke="#7a7a7a"/><line x1="716.25" y1="842.04" x2="717.98" y2="840.31" stroke="#5a5a5a"/><line x1="609" y1="860.7" x2="610.68" y2="862.39" stroke="#7a7a7a"/><line x1="602.86" y1="860.37" x2="604.55" y2="862.07" stroke="#7a7a7a"/><line x1="610.3" y1="859.08" x2="612.26" y2="861.04" stroke="#7a7a7a"/><line x1="726.87" y1="843.96" x2="728.66" y2="842.18" stroke="#5a5a5a"/><line x1="607.28" y1="844.82" x2="609.42" y2="846.95" stroke="#4c4c4c"/><line x1="726.46" y1="862.21" x2="728.34" y2="864.08" stroke="#4c4c4c"/><line x1="728.34" y1="842.62" x2="729.93" y2="844.21" stroke="#7a7a7a"/><line x1="611.65" y1="840.32" x2="613.22" y2="838.75" stroke="#4c4c4c"/><line x1="635.69" y1="863.29" x2="637.13" y2="861.85" stroke="#7a7a7a"/><line x1="601.32" y1="849.89" x2="603.08" y2="848.13" stroke="#5a5a5a"/><line x1="612.12" y1="853.04" x2="614.3" y2="850.87" stroke="#6a6a6a"/><line x1="606.95" y1="849.8" x2="608.76" y2="851.61" stroke="#6a6a6a"/><line x1="614.66" y1="864.02" x2="616.39" y2="862.3" stroke="#5a5a5a"/><line x1="600.51" y1="840.28" x2="602.71" y2="842.47" stroke="#6a6a6a"/><line x1="707.56" y1="842.71" x2="709.14" y2="841.12" stroke="#5a5a5a"/><line x1="693.39" y1="859.7" x2="695.57" y2="857.52" stroke="#5a5a5a"/><line x1="703.71" y1="839.25" x2="705.53" y2="841.06" stroke="#7a7a7a"/><line x1="682.14" y1="851.28" x2="683.81" y2="849.62" stroke="#5a5a5a"/><line x1="609.61" y1="842.67" x2="611.05" y2="841.23" stroke="#5a5a5a"/><line x1="743.71" y1="861.66" x2="745.21" y2="860.16" stroke="#6a6a6a"/><line x1="685.22" y1="841.47" x2="686.79" y2="843.04" stroke="#5a5a5a"/><line x1="686.77" y1="853.86" x2="688.86" y2="855.95" stroke="#5a5a5a"/><line x1="602.59" y1="842.76" x2="604.45" y2="844.62" stroke="#5a5a5a"/><line x1="605.34" y1="846.91" x2="606.93" y2="848.5" stroke="#6a6a6a"/><line x1="686.2" y1="853.64" x2="688.22" y2="855.65" stroke="#5a5a5a"/><line x1="606.53" y1="843.04" x2="607.97" y2="844.48" stroke="#4c4c4c"/><line x1="630.04" y1="860.13" x2="631.88" y2="858.29" stroke="#7a7a7a"/><line x1="742.88" y1="854.62" x2="744.48" y2="853.03" stroke="#5a5a5a"/><line x1="648.63" y1="851.09" x2="650.49" y2="849.23" stroke="#6a6a6a"/><line x1="598.65" y1="859.38" x2="600.52" y2="861.25" stroke="#6a6a6a"/><line x1="593.67" y1="852.82" x2="595.32" y2="851.16" stroke="#7a7a7a"/><line x1="734.74" y1="840.87" x2="736.23" y2="842.36" stroke="#5a5a5a"/><line x1="674.49" y1="845.89" x2="676.5" y2="843.88" stroke="#6a6a6a"/><line x1="646.48" y1="846.68" x2="648.55" y2="844.61" stroke="#6a6a6a"/><line x1="639.26" y1="853.02" x2="641.16" y2="854.91" stroke="#4c4c4c"/><line x1="643.59" y1="849.36" x2="645.54" y2="851.31" stroke="#7a7a7a"/><line x1="648.03" y1="858" x2="649.98" y2="859.94" stroke="#5a5a5a"/><line x1="624.91" y1="846.43" x2="626.34" y2="845" stroke="#7a7a7a"/><line x1="678.07" y1="863.15" x2="679.84" y2="861.37" stroke="#4c4c4c"/><line x1="595.23" y1="841.72" x2="597.38" y2="839.56" stroke="#5a5a5a"/><line x1="641.43" y1="862.57" x2="642.9" y2="864.04" stroke="#7a7a7a"/><line x1="647.07" y1="846.31" x2="648.6" y2="844.78" stroke="#5a5a5a"/><line x1="649.6" y1="848.08" x2="651.08" y2="849.57" stroke="#5a5a5a"/><line x1="651.14" y1="851.6" x2="652.56" y2="853.02" stroke="#5a5a5a"/><line x1="645.08" y1="855.53" x2="646.55" y2="857" stroke="#6a6a6a"/><line x1="701.97" y1="861.37" x2="704.07" y2="863.46" stroke="#4c4c4c"/><line x1="663.74" y1="858.72" x2="665.41" y2="860.39" stroke="#6a6a6a"/><line x1="727.46" y1="856.21" x2="728.87" y2="857.62" stroke="#7a7a7a"/><line x1="728.89" y1="841" x2="730.75" y2="842.86" stroke="#4c4c4c"/><line x1="734.75" y1="860.79" x2="736.72" y2="862.76" stroke="#6a6a6a"/><line x1="711.69" y1="842.24" x2="713.78" y2="840.14" stroke="#4c4c4c"/><line x1="668.11" y1="840.35" x2="670.07" y2="842.31" stroke="#6a6a6a"/><line x1="668.21" y1="846.5" x2="670.14" y2="848.43" stroke="#7a7a7a"/><line x1="679.61" y1="861.44" x2="681.26" y2="863.09" stroke="#6a6a6a"/><line x1="615.29" y1="850.44" x2="617.22" y2="852.36" stroke="#4c4c4c"/><line x1="665.9" y1="841.83" x2="668" y2="839.73" stroke="#5a5a5a"/><line x1="603.82" y1="852.5" x2="605.91" y2="850.41" stroke="#5a5a5a"/><line x1="748.43" y1="862.18" x2="750.17" y2="863.93" stroke="#6a6a6a"/><line x1="601.94" y1="852.04" x2="603.87" y2="850.11" stroke="#5a5a5a"/><line x1="680.15" y1="853.06" x2="682.12" y2="851.09" stroke="#6a6a6a"/><line x1="651.31" y1="853.81" x2="652.72" y2="852.4" stroke="#7a7a7a"/><line x1="596.47" y1="865.26" x2="598.6" y2="863.13" stroke="#6a6a6a"/><line x1="667.73" y1="844.48" x2="669.48" y2="846.23" stroke="#6a6a6a"/><line x1="686.14" y1="857.03" x2="687.75" y2="858.64" stroke="#4c4c4c"/><line x1="592.19" y1="849.46" x2="594.03" y2="847.61" stroke="#7a7a7a"/><line x1="659.26" y1="851.18" x2="661.02" y2="852.94" stroke="#4c4c4c"/><line x1="602.03" y1="843.68" x2="603.48" y2="842.23" stroke="#6a6a6a"/><line x1="717.52" y1="841.53" x2="718.94" y2="840.12" stroke="#4c4c4c"/><line x1="686.02" y1="845.11" x2="687.5" y2="843.63" stroke="#5a5a5a"/><line x1="675.85" y1="841.47" x2="677.62" y2="843.24" stroke="#4c4c4c"/><line x1="741.12" y1="859.62" x2="743.22" y2="861.72" stroke="#5a5a5a"/><line x1="698.28" y1="857.4" x2="699.85" y2="855.83" stroke="#4c4c4c"/><line x1="686.46" y1="853.52" x2="688.55" y2="851.43" stroke="#6a6a6a"/><line x1="591.72" y1="857.81" x2="593.64" y2="859.73" stroke="#7a7a7a"/><line x1="602.44" y1="862.61" x2="604.14" y2="860.92" stroke="#5a5a5a"/><line x1="621.41" y1="854.45" x2="622.86" y2="855.9" stroke="#6a6a6a"/><line x1="710.39" y1="862.49" x2="712.45" y2="864.55" stroke="#4c4c4c"/><line x1="703.58" y1="851.96" x2="705.64" y2="854.02" stroke="#4c4c4c"/><line x1="601.22" y1="850.34" x2="603.21" y2="852.33" stroke="#4c4c4c"/><line x1="666.69" y1="853.48" x2="668.13" y2="852.04" stroke="#4c4c4c"/><line x1="705.73" y1="854.53" x2="707.27" y2="852.99" stroke="#4c4c4c"/><line x1="725.51" y1="853.57" x2="727.41" y2="851.67" stroke="#7a7a7a"/><line x1="719.82" y1="854.09" x2="721.74" y2="852.16" stroke="#6a6a6a"/><line x1="623.11" y1="853.27" x2="624.58" y2="851.81" stroke="#7a7a7a"/><line x1="597.05" y1="848.44" x2="599.18" y2="850.56" stroke="#6a6a6a"/><line x1="725.69" y1="852.61" x2="727.17" y2="851.12" stroke="#7a7a7a"/><line x1="702.94" y1="848.49" x2="704.98" y2="846.45" stroke="#5a5a5a"/><line x1="741.23" y1="844.81" x2="742.74" y2="843.31" stroke="#6a6a6a"/><line x1="704.38" y1="841.26" x2="706.32" y2="839.32" stroke="#6a6a6a"/><line x1="737.02" y1="847.68" x2="738.77" y2="845.93" stroke="#5a5a5a"/><line x1="634.85" y1="856.91" x2="636.58" y2="855.18" stroke="#4c4c4c"/><line x1="625.83" y1="854.74" x2="627.51" y2="853.05" stroke="#7a7a7a"/><line x1="604.12" y1="841.35" x2="605.64" y2="842.86" stroke="#6a6a6a"/><line x1="730.63" y1="857.35" x2="732.21" y2="858.94" stroke="#6a6a6a"/><line x1="722.24" y1="851.86" x2="724.2" y2="849.9" stroke="#5a5a5a"/><line x1="718.54" y1="857.06" x2="720.29" y2="855.32" stroke="#5a5a5a"/><line x1="724.41" y1="850.12" x2="726.56" y2="852.26" stroke="#5a5a5a"/><line x1="604.23" y1="859.7" x2="606.32" y2="857.6" stroke="#4c4c4c"/><line x1="649.32" y1="851.32" x2="650.92" y2="852.92" stroke="#6a6a6a"/><line x1="600.7" y1="862.19" x2="602.3" y2="860.6" stroke="#7a7a7a"/><line x1="739.92" y1="859.54" x2="741.34" y2="860.96" stroke="#6a6a6a"/><line x1="744.65" y1="862.09" x2="746.54" y2="860.2" stroke="#7a7a7a"/><line x1="612.13" y1="854.79" x2="614.06" y2="852.86" stroke="#4c4c4c"/><line x1="622.43" y1="847.2" x2="624.17" y2="845.45" stroke="#4c4c4c"/><line x1="596.86" y1="840.12" x2="598.92" y2="842.19" stroke="#4c4c4c"/><line x1="599.19" y1="842.13" x2="601.34" y2="844.27" stroke="#7a7a7a"/><line x1="619.59" y1="845.92" x2="621.63" y2="847.96" stroke="#6a6a6a"/><line x1="690.8" y1="840.84" x2="692.26" y2="839.37" stroke="#4c4c4c"/><line x1="608.04" y1="852.2" x2="610.19" y2="850.05" stroke="#5a5a5a"/><line x1="657.04" y1="852.65" x2="658.47" y2="851.22" stroke="#5a5a5a"/><line x1="635.19" y1="845.05" x2="637.34" y2="842.9" stroke="#5a5a5a"/><line x1="677.94" y1="843.59" x2="679.36" y2="845.02" stroke="#5a5a5a"/><line x1="651.98" y1="859.34" x2="653.56" y2="860.92" stroke="#7a7a7a"/><line x1="672.76" y1="840.71" x2="674.93" y2="838.55" stroke="#5a5a5a"/><line x1="624.4" y1="862.23" x2="625.86" y2="863.69" stroke="#7a7a7a"/><line x1="715.82" y1="853.07" x2="717.59" y2="854.84" stroke="#7a7a7a"/><line x1="617.81" y1="857.49" x2="619.71" y2="855.6" stroke="#4c4c4c"/><line x1="664.55" y1="839.55" x2="666.25" y2="841.24" stroke="#4c4c4c"/><line x1="668.57" y1="840.11" x2="670.07" y2="841.61" stroke="#4c4c4c"/><line x1="674.34" y1="840.58" x2="676.13" y2="838.79" stroke="#7a7a7a"/><line x1="636.37" y1="849.07" x2="638.44" y2="851.14" stroke="#5a5a5a"/><line x1="744.89" y1="844.38" x2="746.78" y2="846.26" stroke="#5a5a5a"/><line x1="596.39" y1="854.79" x2="597.87" y2="853.31" stroke="#7a7a7a"/><line x1="715.3" y1="839.1" x2="716.99" y2="840.79" stroke="#7a7a7a"/><line x1="663.37" y1="848.62" x2="665.32" y2="850.57" stroke="#7a7a7a"/><line x1="737.19" y1="859.25" x2="739.03" y2="857.41" stroke="#4c4c4c"/><line x1="605.82" y1="840.69" x2="607.65" y2="842.52" stroke="#4c4c4c"/><line x1="708.86" y1="860.37" x2="710.64" y2="858.59" stroke="#6a6a6a"/><line x1="622.91" y1="853.48" x2="625.1" y2="855.66" stroke="#7a7a7a"/><line x1="656" y1="859.12" x2="657.8" y2="860.92" stroke="#7a7a7a"/><line x1="653.54" y1="862.1" x2="655.28" y2="860.35" stroke="#4c4c4c"/><line x1="725.87" y1="857.02" x2="727.89" y2="859.04" stroke="#4c4c4c"/><line x1="635.76" y1="851.86" x2="637.93" y2="854.03" stroke="#5a5a5a"/><line x1="604.74" y1="847.13" x2="606.88" y2="849.27" stroke="#6a6a6a"/><line x1="597.03" y1="845.19" x2="598.84" y2="846.99" stroke="#4c4c4c"/><line x1="620.12" y1="863.34" x2="621.96" y2="865.18" stroke="#5a5a5a"/><line x1="694.85" y1="840.49" x2="696.73" y2="838.62" stroke="#4c4c4c"/><line x1="677.49" y1="860.82" x2="679.03" y2="862.36" stroke="#7a7a7a"/><line x1="619.61" y1="855.87" x2="621.65" y2="857.92" stroke="#7a7a7a"/><line x1="596.29" y1="862.76" x2="598.3" y2="864.78" stroke="#4c4c4c"/><line x1="601.32" y1="858.67" x2="602.93" y2="860.28" stroke="#6a6a6a"/><line x1="617.16" y1="861.02" x2="618.69" y2="859.49" stroke="#4c4c4c"/><line x1="734.59" y1="852.28" x2="736.64" y2="854.33" stroke="#6a6a6a"/><line x1="602.2" y1="856" x2="603.64" y2="857.44" stroke="#4c4c4c"/><line x1="591.57" y1="841.56" x2="593.25" y2="843.24" stroke="#7a7a7a"/><line x1="611.09" y1="849.65" x2="612.58" y2="851.13" stroke="#6a6a6a"/><line x1="668.69" y1="840.13" x2="670.28" y2="841.72" stroke="#6a6a6a"/><line x1="624.61" y1="843.37" x2="626.59" y2="841.4" stroke="#5a5a5a"/><line x1="641.67" y1="859.42" x2="643.53" y2="857.56" stroke="#5a5a5a"/><line x1="647.39" y1="845.62" x2="649.07" y2="847.3" stroke="#7a7a7a"/><line x1="684.17" y1="862.39" x2="685.78" y2="864" stroke="#4c4c4c"/><line x1="719.46" y1="860.81" x2="720.98" y2="859.29" stroke="#5a5a5a"/><line x1="642.42" y1="850.33" x2="644.2" y2="852.12" stroke="#6a6a6a"/><line x1="631.54" y1="853.23" x2="633.15" y2="854.84" stroke="#6a6a6a"/><line x1="627.07" y1="860.83" x2="628.76" y2="862.52" stroke="#4c4c4c"/><line x1="632.37" y1="857.04" x2="634.54" y2="859.22" stroke="#7a7a7a"/><line x1="664.72" y1="859.24" x2="666.53" y2="857.43" stroke="#5a5a5a"/><line x1="617.45" y1="852.5" x2="618.95" y2="850.99" stroke="#5a5a5a"/><line x1="726.57" y1="862.08" x2="728.03" y2="860.62" stroke="#6a6a6a"/><line x1="595.47" y1="853.58" x2="597.02" y2="852.02" stroke="#4c4c4c"/><line x1="680.96" y1="858.64" x2="682.9" y2="856.7" stroke="#7a7a7a"/><line x1="672.08" y1="853.84" x2="674.25" y2="851.68" stroke="#6a6a6a"/><line x1="724.09" y1="855.76" x2="726.04" y2="857.71" stroke="#5a5a5a"/><line x1="735.41" y1="847.58" x2="737.16" y2="845.83" stroke="#7a7a7a"/><line x1="600.1" y1="845.55" x2="601.86" y2="847.32" stroke="#5a5a5a"/><line x1="637.58" y1="853.35" x2="639.31" y2="855.08" stroke="#4c4c4c"/><line x1="671.83" y1="851.08" x2="673.65" y2="849.26" stroke="#5a5a5a"/><line x1="607.95" y1="838.61" x2="609.56" y2="840.22" stroke="#5a5a5a"/><line x1="720.49" y1="844.46" x2="722.65" y2="846.63" stroke="#4c4c4c"/><line x1="722.24" y1="860.86" x2="724.22" y2="862.85" stroke="#5a5a5a"/><line x1="682.3" y1="855.73" x2="683.97" y2="857.4" stroke="#4c4c4c"/><line x1="717.79" y1="849.49" x2="719.33" y2="851.03" stroke="#6a6a6a"/><line x1="735.14" y1="840.38" x2="736.98" y2="842.22" stroke="#7a7a7a"/><line x1="695.78" y1="846.95" x2="697.78" y2="844.95" stroke="#4c4c4c"/><line x1="709.47" y1="854.41" x2="710.92" y2="852.97" stroke="#4c4c4c"/><line x1="636.62" y1="865.24" x2="638.54" y2="863.32" stroke="#5a5a5a"/><line x1="619.09" y1="863.07" x2="621.06" y2="865.05" stroke="#4c4c4c"/><line x1="684.85" y1="857.94" x2="686.87" y2="859.96" stroke="#5a5a5a"/><line x1="665.99" y1="846.96" x2="667.88" y2="845.08" stroke="#4c4c4c"/><line x1="662.44" y1="853.68" x2="664.31" y2="851.81" stroke="#4c4c4c"/><line x1="635.03" y1="860.82" x2="636.94" y2="862.73" stroke="#6a6a6a"/><line x1="610.14" y1="849.37" x2="612.26" y2="847.24" stroke="#4c4c4c"/><line x1="638.51" y1="840.16" x2="640.11" y2="841.76" stroke="#4c4c4c"/><line x1="723.16" y1="852.4" x2="725.17" y2="854.41" stroke="#4c4c4c"/><line x1="736.28" y1="841.75" x2="738.24" y2="843.71" stroke="#7a7a7a"/><line x1="723.85" y1="856.39" x2="725.49" y2="854.75" stroke="#5a5a5a"/><line x1="665.03" y1="841.48" x2="666.72" y2="843.17" stroke="#5a5a5a"/><line x1="682.77" y1="850.92" x2="684.81" y2="848.88" stroke="#7a7a7a"/><line x1="627.11" y1="850.43" x2="628.68" y2="852" stroke="#5a5a5a"/><line x1="643.33" y1="853.71" x2="645.51" y2="855.89" stroke="#7a7a7a"/><line x1="707.85" y1="852.29" x2="709.47" y2="853.9" stroke="#6a6a6a"/><line x1="662.7" y1="848.12" x2="664.64" y2="850.05" stroke="#6a6a6a"/><line x1="673.85" y1="855.91" x2="675.82" y2="857.88" stroke="#7a7a7a"/><line x1="733.49" y1="862.33" x2="735.26" y2="864.1" stroke="#5a5a5a"/><line x1="714.52" y1="857.05" x2="716.02" y2="855.55" stroke="#7a7a7a"/><line x1="639.98" y1="849.05" x2="641.77" y2="847.26" stroke="#7a7a7a"/><line x1="748.21" y1="858.5" x2="749.91" y2="856.8" stroke="#6a6a6a"/><line x1="712.04" y1="845.58" x2="714.11" y2="847.64" stroke="#4c4c4c"/><line x1="700.15" y1="852.08" x2="702.03" y2="850.2" stroke="#4c4c4c"/><line x1="647.7" y1="859.19" x2="649.43" y2="857.46" stroke="#4c4c4c"/><line x1="618.39" y1="847.83" x2="619.8" y2="849.23" stroke="#4c4c4c"/><line x1="644.2" y1="842.84" x2="645.98" y2="844.62" stroke="#7a7a7a"/><line x1="626.25" y1="847.96" x2="627.66" y2="846.55" stroke="#5a5a5a"/><line x1="721.8" y1="845.52" x2="723.77" y2="843.55" stroke="#4c4c4c"/><line x1="630.1" y1="848.73" x2="631.5" y2="850.13" stroke="#6a6a6a"/><line x1="598.58" y1="845.51" x2="600.32" y2="847.25" stroke="#5a5a5a"/><line x1="712.11" y1="843.99" x2="714.14" y2="846.02" stroke="#6a6a6a"/><line x1="629.73" y1="840.11" x2="631.81" y2="842.19" stroke="#6a6a6a"/><line x1="620.01" y1="842.58" x2="622.15" y2="844.72" stroke="#4c4c4c"/><line x1="614.51" y1="840.01" x2="616.44" y2="841.94" stroke="#7a7a7a"/><line x1="688.53" y1="845.81" x2="690.6" y2="847.89" stroke="#4c4c4c"/><line x1="716.82" y1="847" x2="718.25" y2="848.43" stroke="#6a6a6a"/><line x1="670.68" y1="859.17" x2="672.24" y2="857.62" stroke="#6a6a6a"/><line x1="717.45" y1="856.13" x2="718.94" y2="857.62" stroke="#5a5a5a"/><line x1="684.06" y1="856.78" x2="685.58" y2="858.31" stroke="#6a6a6a"/><line x1="630.58" y1="852.01" x2="632.27" y2="850.32" stroke="#5a5a5a"/><line x1="616.26" y1="858.34" x2="618.12" y2="860.19" stroke="#7a7a7a"/><line x1="736.76" y1="856.45" x2="738.57" y2="854.63" stroke="#5a5a5a"/><line x1="620.26" y1="852.49" x2="621.82" y2="850.92" stroke="#5a5a5a"/><line x1="625.27" y1="848.1" x2="627.27" y2="846.1" stroke="#6a6a6a"/><line x1="724.08" y1="841.53" x2="725.89" y2="843.34" stroke="#7a7a7a"/><line x1="661.85" y1="863.21" x2="663.82" y2="861.24" stroke="#5a5a5a"/><line x1="645.07" y1="843.06" x2="646.93" y2="841.2" stroke="#4c4c4c"/><line x1="695.23" y1="857.26" x2="697.09" y2="859.12" stroke="#6a6a6a"/><line x1="682.34" y1="853.46" x2="683.89" y2="855.01" stroke="#4c4c4c"/><line x1="701.84" y1="858.42" x2="703.77" y2="856.49" stroke="#7a7a7a"/><line x1="748.46" y1="846.05" x2="750.18" y2="847.77" stroke="#4c4c4c"/><line x1="712.87" y1="838.68" x2="714.77" y2="840.58" stroke="#4c4c4c"/><line x1="656.49" y1="854.95" x2="658.58" y2="857.05" stroke="#5a5a5a"/><line x1="690.89" y1="857.26" x2="692.72" y2="859.09" stroke="#6a6a6a"/><line x1="618.54" y1="861.89" x2="620.05" y2="860.38" stroke="#6a6a6a"/><line x1="741.03" y1="849.01" x2="742.96" y2="850.93" stroke="#5a5a5a"/><line x1="656.74" y1="839.12" x2="658.24" y2="840.62" stroke="#5a5a5a"/><line x1="747.25" y1="852.83" x2="748.91" y2="854.49" stroke="#5a5a5a"/><line x1="672.74" y1="843.31" x2="674.29" y2="844.87" stroke="#5a5a5a"/><line x1="681.85" y1="856.13" x2="683.88" y2="858.17" stroke="#6a6a6a"/><line x1="602.78" y1="853.11" x2="604.62" y2="854.96" stroke="#7a7a7a"/><line x1="608.17" y1="853.63" x2="609.86" y2="851.95" stroke="#5a5a5a"/><line x1="685.94" y1="846.59" x2="687.69" y2="844.84" stroke="#5a5a5a"/><line x1="679.63" y1="840.68" x2="681.37" y2="842.42" stroke="#7a7a7a"/><line x1="719.87" y1="854.5" x2="721.49" y2="852.88" stroke="#5a5a5a"/><line x1="650.79" y1="856.31" x2="652.35" y2="857.87" stroke="#5a5a5a"/><line x1="680.14" y1="862.53" x2="681.79" y2="864.17" stroke="#5a5a5a"/><line x1="729.36" y1="864.42" x2="730.84" y2="862.95" stroke="#5a5a5a"/><line x1="739.01" y1="849.45" x2="741.1" y2="851.54" stroke="#6a6a6a"/><line x1="713.74" y1="854.49" x2="715.76" y2="856.51" stroke="#5a5a5a"/><line x1="603.53" y1="853.32" x2="605.41" y2="851.44" stroke="#6a6a6a"/><line x1="746" y1="847.23" x2="747.57" y2="848.81" stroke="#4c4c4c"/><line x1="742.33" y1="857" x2="744.08" y2="855.24" stroke="#7a7a7a"/><line x1="688.91" y1="844.23" x2="690.76" y2="846.09" stroke="#7a7a7a"/><line x1="647.64" y1="862.11" x2="649.49" y2="860.26" stroke="#7a7a7a"/><line x1="629.01" y1="852.58" x2="630.66" y2="854.23" stroke="#7a7a7a"/><line x1="691.09" y1="846.91" x2="692.83" y2="848.64" stroke="#4c4c4c"/><line x1="656.86" y1="853.28" x2="658.37" y2="851.76" stroke="#6a6a6a"/><line x1="740.85" y1="859.7" x2="742.51" y2="858.03" stroke="#4c4c4c"/><line x1="700.43" y1="853.77" x2="701.94" y2="852.27" stroke="#5a5a5a"/><line x1="604.58" y1="861.4" x2="606.73" y2="863.55" stroke="#7a7a7a"/><line x1="647.73" y1="859" x2="649.33" y2="860.61" stroke="#6a6a6a"/><line x1="691.29" y1="861.73" x2="692.7" y2="863.14" stroke="#7a7a7a"/><line x1="710.29" y1="848.6" x2="712.25" y2="846.64" stroke="#7a7a7a"/><line x1="643.5" y1="863.32" x2="645.17" y2="864.99" stroke="#6a6a6a"/><line x1="716.01" y1="850.7" x2="717.81" y2="852.5" stroke="#7a7a7a"/><line x1="625.94" y1="840.52" x2="627.73" y2="838.73" stroke="#7a7a7a"/><line x1="678.25" y1="842.08" x2="680.21" y2="840.12" stroke="#6a6a6a"/><line x1="687.66" y1="863.53" x2="689.41" y2="861.78" stroke="#7a7a7a"/><line x1="648.33" y1="844.73" x2="650.37" y2="842.7" stroke="#4c4c4c"/><line x1="684.93" y1="846.43" x2="687.11" y2="848.62" stroke="#4c4c4c"/><line x1="697.85" y1="846.68" x2="699.41" y2="848.24" stroke="#5a5a5a"/><line x1="710.83" y1="850.61" x2="712.37" y2="849.06" stroke="#6a6a6a"/><line x1="656.68" y1="859.56" x2="658.55" y2="861.43" stroke="#4c4c4c"/><line x1="611.41" y1="858.44" x2="613.57" y2="856.27" stroke="#5a5a5a"/><line x1="742.5" y1="864.53" x2="744.07" y2="862.97" stroke="#6a6a6a"/><line x1="638.15" y1="849.88" x2="640.3" y2="852.04" stroke="#5a5a5a"/><line x1="639.97" y1="854.94" x2="642.13" y2="857.09" stroke="#7a7a7a"/><line x1="607.31" y1="853.98" x2="608.85" y2="855.52" stroke="#5a5a5a"/><line x1="696.23" y1="864.21" x2="698.09" y2="862.35" stroke="#4c4c4c"/><line x1="645.1" y1="845.32" x2="646.77" y2="847" stroke="#6a6a6a"/><line x1="708.43" y1="853.41" x2="710.01" y2="854.99" stroke="#4c4c4c"/><line x1="661.75" y1="843.34" x2="663.59" y2="841.49" stroke="#7a7a7a"/><line x1="631.83" y1="862.15" x2="633.72" y2="860.26" stroke="#4c4c4c"/><line x1="661.81" y1="849.26" x2="663.49" y2="850.95" stroke="#7a7a7a"/><line x1="637.63" y1="856.3" x2="639.2" y2="857.87" stroke="#6a6a6a"/><line x1="698.8" y1="857.88" x2="700.46" y2="859.54" stroke="#4c4c4c"/><line x1="692.83" y1="858.43" x2="695" y2="856.26" stroke="#6a6a6a"/><line x1="659.12" y1="845.31" x2="660.83" y2="847.01" stroke="#4c4c4c"/><line x1="606.45" y1="857.35" x2="608.3" y2="859.2" stroke="#7a7a7a"/><line x1="730.71" y1="849.75" x2="732.22" y2="851.26" stroke="#6a6a6a"/><line x1="678.17" y1="853.17" x2="679.75" y2="851.59" stroke="#5a5a5a"/><line x1="667.39" y1="850.51" x2="669.28" y2="852.4" stroke="#7a7a7a"/><line x1="694.06" y1="851.09" x2="695.89" y2="852.92" stroke="#7a7a7a"/><line x1="608.88" y1="860.69" x2="610.53" y2="859.03" stroke="#7a7a7a"/><line x1="599.06" y1="845.8" x2="600.96" y2="843.89" stroke="#5a5a5a"/><line x1="703.87" y1="848.79" x2="705.75" y2="846.91" stroke="#7a7a7a"/><line x1="638.03" y1="855.81" x2="639.44" y2="857.22" stroke="#7a7a7a"/><line x1="650.63" y1="859.56" x2="652.64" y2="857.56" stroke="#7a7a7a"/><line x1="688.02" y1="850.24" x2="689.69" y2="851.92" stroke="#5a5a5a"/><line x1="706.08" y1="850.32" x2="707.5" y2="848.9" stroke="#5a5a5a"/><line x1="636.26" y1="845.49" x2="638.36" y2="843.38" stroke="#5a5a5a"/><line x1="601.16" y1="855.42" x2="603.32" y2="857.58" stroke="#6a6a6a"/><line x1="626.25" y1="843.77" x2="628.38" y2="841.64" stroke="#4c4c4c"/><line x1="672.23" y1="857.11" x2="674.13" y2="859" stroke="#7a7a7a"/><line x1="694.12" y1="852.4" x2="696.12" y2="850.39" stroke="#4c4c4c"/><line x1="692" y1="838.93" x2="693.79" y2="840.72" stroke="#7a7a7a"/><line x1="720.84" y1="851.33" x2="722.6" y2="849.57" stroke="#4c4c4c"/><line x1="608.01" y1="851.65" x2="609.58" y2="850.08" stroke="#5a5a5a"/><line x1="636.76" y1="850.02" x2="638.65" y2="848.13" stroke="#4c4c4c"/><line x1="601.51" y1="839.5" x2="603.38" y2="841.37" stroke="#7a7a7a"/><line x1="610.94" y1="845.69" x2="612.48" y2="844.15" stroke="#4c4c4c"/><line x1="682.62" y1="851.4" x2="684.82" y2="853.6" stroke="#5a5a5a"/><line x1="608.27" y1="847.8" x2="609.78" y2="846.29" stroke="#6a6a6a"/><line x1="647.69" y1="856.4" x2="649.86" y2="858.57" stroke="#7a7a7a"/><line x1="700.99" y1="861.83" x2="702.77" y2="863.6" stroke="#5a5a5a"/><line x1="730.46" y1="842.04" x2="731.99" y2="843.57" stroke="#5a5a5a"/><line x1="707.55" y1="847.42" x2="709.04" y2="845.93" stroke="#4c4c4c"/><line x1="640.67" y1="847.35" x2="642.14" y2="845.87" stroke="#4c4c4c"/><line x1="683.14" y1="845.88" x2="685.18" y2="843.84" stroke="#4c4c4c"/><line x1="715.42" y1="845.26" x2="717.39" y2="843.29" stroke="#7a7a7a"/><line x1="639.34" y1="858.51" x2="641.53" y2="856.33" stroke="#6a6a6a"/><line x1="725.61" y1="850.18" x2="727.35" y2="848.44" stroke="#4c4c4c"/><line x1="701.65" y1="861.05" x2="703.79" y2="858.91" stroke="#6a6a6a"/><line x1="591.57" y1="851.63" x2="593.25" y2="853.31" stroke="#6a6a6a"/><line x1="747.24" y1="845.91" x2="749.39" y2="848.06" stroke="#4c4c4c"/><line x1="715.31" y1="840.54" x2="717.35" y2="838.5" stroke="#7a7a7a"/><line x1="717.18" y1="844.11" x2="719.04" y2="842.26" stroke="#6a6a6a"/><line x1="717.5" y1="852.55" x2="719.28" y2="850.77" stroke="#7a7a7a"/><line x1="643.38" y1="859.56" x2="645.08" y2="857.86" stroke="#5a5a5a"/><line x1="732.45" y1="863.82" x2="734.48" y2="861.79" stroke="#4c4c4c"/><line x1="726.18" y1="862.55" x2="728.04" y2="860.7" stroke="#5a5a5a"/><line x1="736.91" y1="859.95" x2="738.48" y2="858.38" stroke="#7a7a7a"/><line x1="704.08" y1="857.26" x2="705.81" y2="858.99" stroke="#6a6a6a"/><line x1="725.44" y1="860.24" x2="727.42" y2="862.22" stroke="#7a7a7a"/><line x1="663.39" y1="864.68" x2="665.42" y2="862.65" stroke="#7a7a7a"/><line x1="745.24" y1="853.88" x2="747.42" y2="856.06" stroke="#6a6a6a"/><line x1="712.3" y1="849.77" x2="714.18" y2="847.89" stroke="#4c4c4c"/><line x1="684.93" y1="845.21" x2="687" y2="843.14" stroke="#5a5a5a"/><line x1="634.55" y1="838.36" x2="636.67" y2="840.48" stroke="#6a6a6a"/><line x1="721.75" y1="862.42" x2="723.46" y2="860.71" stroke="#7a7a7a"/><line x1="661.15" y1="863.59" x2="662.74" y2="862" stroke="#4c4c4c"/><line x1="648.38" y1="846.99" x2="650.11" y2="848.72" stroke="#6a6a6a"/><line x1="746.78" y1="859.99" x2="748.63" y2="858.14" stroke="#6a6a6a"/><line x1="728.59" y1="847.95" x2="730.39" y2="849.75" stroke="#4c4c4c"/><line x1="610.06" y1="851.66" x2="611.86" y2="853.46" stroke="#5a5a5a"/><line x1="710.23" y1="856.09" x2="711.85" y2="857.71" stroke="#5a5a5a"/><line x1="641.71" y1="846.86" x2="643.7" y2="844.87" stroke="#6a6a6a"/><line x1="709.08" y1="847.98" x2="710.51" y2="849.4" stroke="#7a7a7a"/><line x1="698.61" y1="851.95" x2="700.74" y2="854.08" stroke="#7a7a7a"/><line x1="687.68" y1="850.55" x2="689.8" y2="848.42" stroke="#6a6a6a"/><line x1="591.95" y1="854.02" x2="593.68" y2="855.75" stroke="#7a7a7a"/><line x1="724" y1="846.26" x2="725.6" y2="847.87" stroke="#5a5a5a"/><line x1="638.18" y1="846.18" x2="640.27" y2="848.27" stroke="#7a7a7a"/><line x1="636.04" y1="849.58" x2="637.95" y2="847.67" stroke="#6a6a6a"/><line x1="636.45" y1="849.01" x2="638.25" y2="850.81" stroke="#6a6a6a"/><line x1="724.18" y1="848.14" x2="725.85" y2="846.47" stroke="#6a6a6a"/><line x1="699.62" y1="842.45" x2="701.35" y2="844.17" stroke="#5a5a5a"/><line x1="728.13" y1="861.95" x2="729.55" y2="860.53" stroke="#4c4c4c"/><line x1="671.17" y1="856.6" x2="672.97" y2="854.8" stroke="#4c4c4c"/><line x1="731.38" y1="854.29" x2="733.21" y2="852.47" stroke="#4c4c4c"/><line x1="643.39" y1="859.99" x2="645.51" y2="862.11" stroke="#4c4c4c"/><line x1="735.07" y1="856.47" x2="736.99" y2="858.39" stroke="#4c4c4c"/><line x1="607.83" y1="855" x2="609.43" y2="853.41" stroke="#6a6a6a"/><line x1="628.12" y1="856.18" x2="630.19" y2="854.11" stroke="#6a6a6a"/><line x1="678.79" y1="863.62" x2="680.96" y2="861.45" stroke="#7a7a7a"/><line x1="737.53" y1="858.33" x2="739.51" y2="856.34" stroke="#5a5a5a"/><line x1="713.72" y1="853.5" x2="715.73" y2="851.49" stroke="#7a7a7a"/><line x1="681.92" y1="844.97" x2="683.82" y2="843.06" stroke="#7a7a7a"/><line x1="708.15" y1="845.07" x2="709.75" y2="846.67" stroke="#6a6a6a"/><line x1="668.59" y1="847.6" x2="670.05" y2="849.06" stroke="#5a5a5a"/><line x1="684.46" y1="864.44" x2="686.62" y2="862.27" stroke="#7a7a7a"/><line x1="745.77" y1="840.9" x2="747.66" y2="842.79" stroke="#5a5a5a"/><line x1="661.53" y1="860.73" x2="663.49" y2="858.76" stroke="#7a7a7a"/><line x1="670.18" y1="851.95" x2="672.05" y2="853.82" stroke="#6a6a6a"/><line x1="718.95" y1="849.74" x2="720.48" y2="851.26" stroke="#5a5a5a"/><line x1="707.21" y1="853.8" x2="709.34" y2="855.93" stroke="#5a5a5a"/><line x1="643.03" y1="842.44" x2="644.93" y2="844.35" stroke="#5a5a5a"/><line x1="606.06" y1="861.8" x2="608.24" y2="859.62" stroke="#7a7a7a"/><line x1="644.06" y1="853" x2="646.15" y2="850.91" stroke="#4c4c4c"/><line x1="604.99" y1="841.48" x2="606.51" y2="839.96" stroke="#6a6a6a"/><line x1="748.47" y1="860.22" x2="749.96" y2="858.73" stroke="#5a5a5a"/><line x1="736.73" y1="863.91" x2="738.24" y2="862.39" stroke="#6a6a6a"/><line x1="685.43" y1="853.89" x2="686.92" y2="852.39" stroke="#7a7a7a"/><line x1="595.79" y1="850.78" x2="597.3" y2="852.29" stroke="#4c4c4c"/><line x1="606.12" y1="844.78" x2="607.94" y2="846.59" stroke="#4c4c4c"/><line x1="623.63" y1="854.95" x2="625.22" y2="856.53" stroke="#7a7a7a"/><line x1="672.39" y1="857.08" x2="674.01" y2="858.71" stroke="#7a7a7a"/><line x1="736.07" y1="852.82" x2="737.95" y2="850.95" stroke="#5a5a5a"/><line x1="699.27" y1="843.36" x2="700.71" y2="841.91" stroke="#7a7a7a"/><line x1="609.16" y1="846.54" x2="610.79" y2="848.16" stroke="#7a7a7a"/><line x1="678.22" y1="841.33" x2="679.98" y2="843.09" stroke="#7a7a7a"/><line x1="710.99" y1="843.4" x2="712.47" y2="844.88" stroke="#4c4c4c"/><line x1="676.29" y1="842.99" x2="678.37" y2="840.92" stroke="#6a6a6a"/><line x1="747.82" y1="856.78" x2="749.56" y2="858.52" stroke="#7a7a7a"/><line x1="736.62" y1="854.05" x2="738.3" y2="852.37" stroke="#5a5a5a"/><line x1="594.03" y1="854.94" x2="595.98" y2="856.89" stroke="#4c4c4c"/><line x1="610.11" y1="861.98" x2="612.04" y2="863.92" stroke="#4c4c4c"/><line x1="617.11" y1="856.16" x2="618.76" y2="854.51" stroke="#7a7a7a"/><line x1="667.05" y1="852.97" x2="669.2" y2="850.81" stroke="#7a7a7a"/><line x1="680.22" y1="861.9" x2="682.33" y2="864.01" stroke="#6a6a6a"/><line x1="595.62" y1="850.7" x2="597.14" y2="849.18" stroke="#6a6a6a"/><line x1="651.52" y1="858.83" x2="653.59" y2="860.91" stroke="#7a7a7a"/><line x1="670.26" y1="841.22" x2="672.2" y2="843.17" stroke="#5a5a5a"/><line x1="706.58" y1="858.09" x2="708.27" y2="856.4" stroke="#5a5a5a"/><line x1="616.33" y1="863.11" x2="618.53" y2="860.91" stroke="#7a7a7a"/><line x1="698.63" y1="851.83" x2="700.37" y2="853.57" stroke="#4c4c4c"/><line x1="655.24" y1="843.26" x2="656.7" y2="841.8" stroke="#6a6a6a"/><line x1="677.32" y1="852.07" x2="678.98" y2="853.73" stroke="#6a6a6a"/><line x1="659.55" y1="856.76" x2="661.07" y2="858.28" stroke="#6a6a6a"/><line x1="710.99" y1="851.41" x2="712.7" y2="853.13" stroke="#7a7a7a"/><line x1="652.99" y1="861.98" x2="654.93" y2="860.04" stroke="#7a7a7a"/><line x1="729.41" y1="841.52" x2="731.19" y2="839.74" stroke="#5a5a5a"/><line x1="737.35" y1="855.8" x2="739.37" y2="853.78" stroke="#7a7a7a"/><line x1="661.96" y1="841.34" x2="663.42" y2="839.88" stroke="#4c4c4c"/><line x1="621.72" y1="847.97" x2="623.18" y2="846.51" stroke="#4c4c4c"/><line x1="672.77" y1="859.02" x2="674.58" y2="857.21" stroke="#5a5a5a"/><line x1="683.68" y1="857.73" x2="685.47" y2="855.94" stroke="#5a5a5a"/><line x1="686.85" y1="857.46" x2="688.47" y2="859.08" stroke="#4c4c4c"/><line x1="609.18" y1="848.54" x2="610.88" y2="846.84" stroke="#4c4c4c"/><line x1="700.24" y1="844.7" x2="702.01" y2="842.93" stroke="#6a6a6a"/><line x1="613.2" y1="862.5" x2="615.33" y2="864.64" stroke="#4c4c4c"/><line x1="699.66" y1="849.92" x2="701.48" y2="851.74" stroke="#7a7a7a"/><line x1="640.42" y1="859.17" x2="642.4" y2="857.2" stroke="#6a6a6a"/><line x1="710.92" y1="861.07" x2="712.87" y2="863.01" stroke="#5a5a5a"/><line x1="628.93" y1="857.56" x2="630.98" y2="855.52" stroke="#4c4c4c"/><line x1="697.14" y1="861.49" x2="698.61" y2="860.02" stroke="#4c4c4c"/><line x1="662.72" y1="855" x2="664.77" y2="852.96" stroke="#6a6a6a"/><line x1="732.51" y1="843.81" x2="734.33" y2="845.63" stroke="#6a6a6a"/><line x1="618.16" y1="840.66" x2="620.21" y2="838.61" stroke="#7a7a7a"/><line x1="691.75" y1="855.1" x2="693.7" y2="857.05" stroke="#7a7a7a"/><line x1="642.66" y1="840.59" x2="644.19" y2="839.07" stroke="#6a6a6a"/><line x1="607.53" y1="843.85" x2="609.21" y2="842.17" stroke="#5a5a5a"/><line x1="742.99" y1="864.31" x2="744.71" y2="862.59" stroke="#7a7a7a"/><line x1="634.34" y1="848.42" x2="636.15" y2="846.6" stroke="#5a5a5a"/><line x1="630.51" y1="853.47" x2="632" y2="854.96" stroke="#7a7a7a"/><line x1="696.76" y1="855.81" x2="698.93" y2="853.64" stroke="#7a7a7a"/><line x1="605.99" y1="859.05" x2="607.85" y2="860.91" stroke="#4c4c4c"/><line x1="739.09" y1="845.16" x2="741.14" y2="843.11" stroke="#5a5a5a"/><line x1="625.96" y1="838.73" x2="627.71" y2="840.48" stroke="#6a6a6a"/><line x1="592.06" y1="847.54" x2="594.16" y2="845.43" stroke="#7a7a7a"/><line x1="654.09" y1="850.7" x2="656.06" y2="848.73" stroke="#4c4c4c"/><line x1="659.47" y1="858.11" x2="661.48" y2="856.1" stroke="#6a6a6a"/><line x1="599.21" y1="847.1" x2="601.07" y2="848.95" stroke="#7a7a7a"/><line x1="664.7" y1="839.45" x2="666.2" y2="840.95" stroke="#5a5a5a"/><line x1="632.29" y1="844.13" x2="634.33" y2="846.18" stroke="#7a7a7a"/><line x1="718.74" y1="843.35" x2="720.74" y2="845.34" stroke="#4c4c4c"/><line x1="621.96" y1="862.2" x2="623.84" y2="860.32" stroke="#7a7a7a"/><line x1="663.67" y1="852.43" x2="665.65" y2="854.42" stroke="#4c4c4c"/><line x1="615.73" y1="848.86" x2="617.68" y2="846.9" stroke="#7a7a7a"/><line x1="607.78" y1="854.46" x2="609.45" y2="856.12" stroke="#4c4c4c"/><line x1="668.21" y1="850.72" x2="670.03" y2="848.9" stroke="#7a7a7a"/><line x1="734.89" y1="848.92" x2="736.35" y2="850.37" stroke="#4c4c4c"/><line x1="696.35" y1="849.38" x2="698.1" y2="851.13" stroke="#6a6a6a"/><line x1="594.26" y1="848.59" x2="595.91" y2="850.24" stroke="#4c4c4c"/><line x1="653.96" y1="851.92" x2="655.4" y2="853.36" stroke="#6a6a6a"/><line x1="606.89" y1="862.4" x2="608.7" y2="860.58" stroke="#4c4c4c"/><line x1="659.88" y1="849.3" x2="661.94" y2="851.36" stroke="#5a5a5a"/><line x1="744.35" y1="842.75" x2="745.93" y2="841.17" stroke="#5a5a5a"/><line x1="647.86" y1="850.5" x2="649.98" y2="852.62" stroke="#5a5a5a"/><line x1="681.28" y1="855.71" x2="682.88" y2="854.1" stroke="#5a5a5a"/><line x1="660.63" y1="862.49" x2="662.65" y2="860.47" stroke="#4c4c4c"/><line x1="601.18" y1="849.27" x2="603.23" y2="847.22" stroke="#7a7a7a"/><line x1="705.95" y1="840.83" x2="708.01" y2="842.9" stroke="#5a5a5a"/><line x1="623.8" y1="855.18" x2="625.46" y2="856.84" stroke="#4c4c4c"/><line x1="645.11" y1="853.97" x2="646.82" y2="852.26" stroke="#6a6a6a"/><line x1="736.39" y1="857.72" x2="738.59" y2="855.52" stroke="#6a6a6a"/><line x1="664.02" y1="849.49" x2="666.11" y2="847.39" stroke="#6a6a6a"/><line x1="658.06" y1="851.53" x2="660.26" y2="849.34" stroke="#6a6a6a"/><line x1="679.98" y1="846.91" x2="681.82" y2="848.75" stroke="#6a6a6a"/><line x1="680.1" y1="854" x2="681.61" y2="855.52" stroke="#4c4c4c"/><line x1="658.96" y1="846.11" x2="660.92" y2="844.14" stroke="#5a5a5a"/><line x1="723.23" y1="855.85" x2="724.93" y2="857.56" stroke="#7a7a7a"/><line x1="696.53" y1="849.27" x2="698.34" y2="851.07" stroke="#4c4c4c"/><line x1="730.93" y1="861.01" x2="732.8" y2="859.13" stroke="#7a7a7a"/><line x1="717.5" y1="840.69" x2="719.22" y2="838.97" stroke="#7a7a7a"/><line x1="686.48" y1="849.1" x2="688.36" y2="847.21" stroke="#7a7a7a"/><line x1="590.78" y1="843.37" x2="592.54" y2="841.61" stroke="#7a7a7a"/><line x1="689.66" y1="845.54" x2="691.8" y2="847.68" stroke="#7a7a7a"/><line x1="732.09" y1="841.31" x2="733.75" y2="839.66" stroke="#5a5a5a"/><line x1="680.98" y1="843.9" x2="682.9" y2="845.82" stroke="#7a7a7a"/><line x1="605.36" y1="847.44" x2="606.84" y2="845.96" stroke="#6a6a6a"/><line x1="623.99" y1="841.08" x2="626.03" y2="839.04" stroke="#7a7a7a"/><line x1="719.26" y1="858.5" x2="720.68" y2="859.92" stroke="#7a7a7a"/><line x1="690.39" y1="853.53" x2="692.13" y2="855.27" stroke="#5a5a5a"/><line x1="646.04" y1="850.81" x2="647.82" y2="852.59" stroke="#5a5a5a"/><line x1="722.5" y1="856.35" x2="723.91" y2="854.94" stroke="#7a7a7a"/><line x1="711.55" y1="843.48" x2="713.35" y2="841.67" stroke="#4c4c4c"/><line x1="614.09" y1="859.77" x2="615.64" y2="861.31" stroke="#4c4c4c"/><line x1="704.5" y1="843.19" x2="706.68" y2="841.01" stroke="#6a6a6a"/><line x1="726.44" y1="852.11" x2="727.97" y2="853.65" stroke="#6a6a6a"/><line x1="655.06" y1="863.86" x2="656.81" y2="862.11" stroke="#5a5a5a"/><line x1="703.3" y1="844.14" x2="705.41" y2="842.03" stroke="#6a6a6a"/><line x1="613.29" y1="841.46" x2="615.16" y2="843.33" stroke="#6a6a6a"/><line x1="659.86" y1="843.32" x2="661.84" y2="845.3" stroke="#6a6a6a"/><line x1="625.27" y1="841.4" x2="627.17" y2="843.31" stroke="#4c4c4c"/><line x1="676.78" y1="861.58" x2="678.83" y2="863.64" stroke="#4c4c4c"/><line x1="679.63" y1="849.63" x2="681.63" y2="851.64" stroke="#7a7a7a"/><line x1="645.07" y1="864.25" x2="646.51" y2="862.81" stroke="#7a7a7a"/><line x1="672.1" y1="856.25" x2="673.64" y2="854.72" stroke="#4c4c4c"/><line x1="630.04" y1="864.34" x2="631.61" y2="862.77" stroke="#7a7a7a"/><line x1="721.5" y1="846.14" x2="723.48" y2="844.16" stroke="#7a7a7a"/><line x1="647.12" y1="864.42" x2="648.77" y2="862.76" stroke="#4c4c4c"/><line x1="615.57" y1="839.07" x2="617.32" y2="840.82" stroke="#4c4c4c"/><line x1="675.5" y1="846.35" x2="677.64" y2="844.21" stroke="#4c4c4c"/><line x1="640.38" y1="843.01" x2="642.21" y2="844.84" stroke="#7a7a7a"/><line x1="632.55" y1="844.08" x2="634.35" y2="842.27" stroke="#6a6a6a"/><line x1="637.14" y1="851.61" x2="639.33" y2="849.42" stroke="#5a5a5a"/><line x1="692.86" y1="848.62" x2="694.76" y2="846.72" stroke="#4c4c4c"/><line x1="721.71" y1="854.21" x2="723.69" y2="852.23" stroke="#6a6a6a"/><line x1="613.84" y1="847.56" x2="615.5" y2="849.22" stroke="#7a7a7a"/><line x1="712.01" y1="851.53" x2="713.79" y2="853.31" stroke="#5a5a5a"/><line x1="678.03" y1="854.39" x2="679.86" y2="852.56" stroke="#7a7a7a"/><line x1="743.32" y1="861.64" x2="745.04" y2="859.91" stroke="#7a7a7a"/><line x1="647.96" y1="843.77" x2="649.86" y2="845.67" stroke="#4c4c4c"/><line x1="671.6" y1="856.96" x2="673.39" y2="858.75" stroke="#7a7a7a"/><line x1="662.27" y1="862.06" x2="664.34" y2="864.12" stroke="#6a6a6a"/><line x1="710.78" y1="846.11" x2="712.7" y2="844.19" stroke="#4c4c4c"/><line x1="684.74" y1="857.97" x2="686.17" y2="859.39" stroke="#6a6a6a"/><line x1="639.57" y1="859.11" x2="641.12" y2="860.66" stroke="#7a7a7a"/><line x1="601.44" y1="846.04" x2="603.35" y2="844.13" stroke="#5a5a5a"/><line x1="711.06" y1="856.63" x2="712.76" y2="858.32" stroke="#6a6a6a"/><line x1="657.96" y1="844.24" x2="659.6" y2="845.88" stroke="#6a6a6a"/><line x1="592.69" y1="853.9" x2="594.22" y2="852.37" stroke="#6a6a6a"/><line x1="626.72" y1="843.52" x2="628.81" y2="845.61" stroke="#6a6a6a"/><line x1="703.5" y1="858.17" x2="705.16" y2="859.83" stroke="#6a6a6a"/><line x1="747.6" y1="847.14" x2="749.15" y2="848.69" stroke="#6a6a6a"/><line x1="667.92" y1="842.12" x2="669.51" y2="843.71" stroke="#7a7a7a"/><line x1="687.07" y1="850.48" x2="689.04" y2="848.51" stroke="#7a7a7a"/><line x1="666.24" y1="845.33" x2="667.65" y2="843.92" stroke="#4c4c4c"/><line x1="711.33" y1="864.27" x2="713.07" y2="862.53" stroke="#6a6a6a"/><line x1="612.48" y1="850.64" x2="614.58" y2="848.54" stroke="#7a7a7a"/><line x1="735.2" y1="844.35" x2="736.64" y2="845.79" stroke="#7a7a7a"/><line x1="693.3" y1="852.09" x2="695" y2="853.79" stroke="#6a6a6a"/><line x1="675.41" y1="849.84" x2="676.86" y2="851.28" stroke="#6a6a6a"/><line x1="694.37" y1="844.49" x2="696.21" y2="842.65" stroke="#5a5a5a"/><line x1="622.74" y1="843.76" x2="624.69" y2="841.81" stroke="#5a5a5a"/><line x1="679.47" y1="847.69" x2="681.08" y2="849.31" stroke="#5a5a5a"/><line x1="711.07" y1="849.36" x2="712.59" y2="850.88" stroke="#4c4c4c"/><line x1="626.61" y1="842.31" x2="628.46" y2="844.15" stroke="#5a5a5a"/><line x1="619.79" y1="858.11" x2="621.63" y2="856.27" stroke="#7a7a7a"/><line x1="707.8" y1="846.85" x2="709.34" y2="848.38" stroke="#4c4c4c"/><line x1="634.22" y1="839.84" x2="636.13" y2="841.75" stroke="#7a7a7a"/><line x1="618.79" y1="857.46" x2="620.4" y2="859.07" stroke="#5a5a5a"/><line x1="623.82" y1="844.82" x2="625.73" y2="846.73" stroke="#5a5a5a"/><line x1="714.7" y1="860.24" x2="716.44" y2="861.97" stroke="#7a7a7a"/><line x1="680.79" y1="847.42" x2="682.27" y2="845.94" stroke="#4c4c4c"/><line x1="663.33" y1="854.64" x2="665.07" y2="856.37" stroke="#4c4c4c"/><line x1="686.63" y1="854.6" x2="688.8" y2="856.77" stroke="#4c4c4c"/><line x1="697.97" y1="840.67" x2="699.94" y2="842.64" stroke="#7a7a7a"/><line x1="655.87" y1="843.91" x2="657.71" y2="842.07" stroke="#4c4c4c"/><line x1="686.71" y1="859.33" x2="688.21" y2="857.84" stroke="#4c4c4c"/><line x1="677.49" y1="850.93" x2="679.02" y2="849.4" stroke="#5a5a5a"/><line x1="703.02" y1="860.22" x2="705.14" y2="858.1" stroke="#4c4c4c"/><line x1="699.61" y1="854.39" x2="701.51" y2="852.5" stroke="#6a6a6a"/><line x1="670.08" y1="849.15" x2="671.97" y2="851.04" stroke="#4c4c4c"/><line x1="611.77" y1="851.31" x2="613.78" y2="853.33" stroke="#7a7a7a"/><line x1="599.3" y1="843.95" x2="601.17" y2="842.07" stroke="#6a6a6a"/><line x1="736.56" y1="845.05" x2="738" y2="843.62" stroke="#7a7a7a"/><line x1="683.75" y1="863.67" x2="685.44" y2="861.99" stroke="#4c4c4c"/><line x1="735.06" y1="850.68" x2="736.83" y2="852.46" stroke="#6a6a6a"/><line x1="660.53" y1="861.35" x2="661.94" y2="862.77" stroke="#5a5a5a"/><line x1="684.52" y1="846.81" x2="686.36" y2="848.65" stroke="#5a5a5a"/><line x1="597.47" y1="858.73" x2="599.57" y2="860.82" stroke="#6a6a6a"/><line x1="690.89" y1="851.9" x2="692.34" y2="850.45" stroke="#5a5a5a"/><line x1="733.08" y1="840.52" x2="735.21" y2="838.39" stroke="#4c4c4c"/><line x1="645.79" y1="864.24" x2="647.92" y2="862.12" stroke="#6a6a6a"/><line x1="712.5" y1="863.03" x2="714.08" y2="861.46" stroke="#7a7a7a"/><line x1="712.05" y1="854.71" x2="714.18" y2="852.57" stroke="#4c4c4c"/><line x1="661.32" y1="844.29" x2="662.94" y2="842.68" stroke="#4c4c4c"/><line x1="618.26" y1="861.08" x2="619.72" y2="859.63" stroke="#4c4c4c"/><line x1="640.95" y1="853.71" x2="642.83" y2="851.83" stroke="#4c4c4c"/><line x1="742.39" y1="847.38" x2="744.54" y2="845.23" stroke="#4c4c4c"/><line x1="697.15" y1="847.6" x2="699.15" y2="845.6" stroke="#4c4c4c"/><line x1="702.47" y1="847.03" x2="703.95" y2="848.51" stroke="#7a7a7a"/><line x1="639.99" y1="845.74" x2="642.09" y2="843.64" stroke="#5a5a5a"/><line x1="717.44" y1="853.58" x2="719.55" y2="855.69" stroke="#7a7a7a"/><line x1="594.4" y1="851.98" x2="596.3" y2="850.09" stroke="#6a6a6a"/><line x1="668.25" y1="849.97" x2="669.78" y2="851.5" stroke="#7a7a7a"/><line x1="648.58" y1="852.02" x2="650.31" y2="853.75" stroke="#6a6a6a"/><line x1="698.19" y1="846.19" x2="700.33" y2="848.33" stroke="#4c4c4c"/><line x1="642.9" y1="862.54" x2="644.93" y2="864.57" stroke="#6a6a6a"/><line x1="685.27" y1="861.11" x2="686.93" y2="859.45" stroke="#6a6a6a"/><line x1="744.19" y1="854.26" x2="745.86" y2="852.59" stroke="#4c4c4c"/><line x1="697.99" y1="857.03" x2="699.7" y2="855.32" stroke="#4c4c4c"/><line x1="649.2" y1="851.49" x2="650.66" y2="852.94" stroke="#6a6a6a"/><line x1="642.61" y1="846.97" x2="644.06" y2="845.52" stroke="#7a7a7a"/><line x1="673.66" y1="853.89" x2="675.38" y2="852.17" stroke="#4c4c4c"/><line x1="605.67" y1="855.94" x2="607.18" y2="857.44" stroke="#4c4c4c"/><line x1="595.78" y1="852.2" x2="597.25" y2="853.67" stroke="#6a6a6a"/><line x1="709.84" y1="851.54" x2="711.74" y2="849.64" stroke="#4c4c4c"/><line x1="697.83" y1="843.24" x2="699.67" y2="841.4" stroke="#6a6a6a"/><line x1="708.56" y1="847.78" x2="710.14" y2="849.35" stroke="#7a7a7a"/><line x1="609.06" y1="844.51" x2="611.2" y2="846.66" stroke="#7a7a7a"/><line x1="638.49" y1="846.26" x2="640.44" y2="848.22" stroke="#7a7a7a"/><line x1="640.9" y1="840.63" x2="642.47" y2="842.2" stroke="#4c4c4c"/><line x1="689" y1="842.17" x2="690.52" y2="843.7" stroke="#4c4c4c"/><line x1="644.91" y1="858.54" x2="646.65" y2="860.27" stroke="#6a6a6a"/><line x1="599.24" y1="843.79" x2="601.14" y2="845.68" stroke="#5a5a5a"/><line x1="635.47" y1="840.85" x2="637.34" y2="838.98" stroke="#7a7a7a"/><line x1="658.98" y1="848.7" x2="660.88" y2="846.8" stroke="#5a5a5a"/><line x1="682.98" y1="856.84" x2="684.77" y2="855.06" stroke="#6a6a6a"/><line x1="748.27" y1="846.03" x2="750.07" y2="847.83" stroke="#4c4c4c"/><line x1="637.1" y1="854.36" x2="639.25" y2="856.5" stroke="#7a7a7a"/><line x1="610.43" y1="858.15" x2="612.28" y2="860" stroke="#5a5a5a"/><line x1="747.64" y1="857.99" x2="749.65" y2="860.01" stroke="#5a5a5a"/><line x1="596.37" y1="852.06" x2="598.31" y2="850.12" stroke="#5a5a5a"/><line x1="683.69" y1="853.71" x2="685.12" y2="855.14" stroke="#4c4c4c"/><line x1="702.13" y1="849.64" x2="703.73" y2="851.25" stroke="#7a7a7a"/><line x1="643.44" y1="848.39" x2="645.02" y2="846.81" stroke="#5a5a5a"/><line x1="653.73" y1="860.62" x2="655.44" y2="862.34" stroke="#5a5a5a"/><line x1="622.67" y1="860.57" x2="624.64" y2="862.54" stroke="#7a7a7a"/><line x1="635.68" y1="848.28" x2="637.47" y2="850.06" stroke="#5a5a5a"/><line x1="736.24" y1="851.77" x2="737.85" y2="853.38" stroke="#6a6a6a"/><line x1="680.62" y1="861.63" x2="682.59" y2="863.61" stroke="#6a6a6a"/><line x1="639.61" y1="852.98" x2="641.34" y2="854.71" stroke="#4c4c4c"/><line x1="601.03" y1="861.91" x2="602.96" y2="859.97" stroke="#4c4c4c"/><line x1="664.86" y1="860.35" x2="666.37" y2="861.87" stroke="#6a6a6a"/><line x1="704.46" y1="859.37" x2="705.95" y2="857.87" stroke="#7a7a7a"/><line x1="725.91" y1="845.14" x2="727.62" y2="843.43" stroke="#7a7a7a"/><line x1="670.35" y1="850.81" x2="672.39" y2="852.84" stroke="#4c4c4c"/><line x1="716.5" y1="845.56" x2="718.19" y2="847.24" stroke="#6a6a6a"/><line x1="631.02" y1="844.88" x2="632.51" y2="843.4" stroke="#4c4c4c"/><line x1="670" y1="858.93" x2="671.95" y2="856.98" stroke="#7a7a7a"/><line x1="672.78" y1="843.29" x2="674.37" y2="841.7" stroke="#6a6a6a"/><line x1="646.95" y1="854.98" x2="648.55" y2="856.58" stroke="#7a7a7a"/><line x1="728.5" y1="857.78" x2="730.64" y2="859.92" stroke="#6a6a6a"/><line x1="667.41" y1="859.13" x2="669.46" y2="861.17" stroke="#7a7a7a"/><line x1="705.93" y1="862.54" x2="707.73" y2="860.73" stroke="#7a7a7a"/><line x1="633.91" y1="842.86" x2="636.04" y2="844.98" stroke="#5a5a5a"/><line x1="596.45" y1="848.97" x2="598.1" y2="850.61" stroke="#7a7a7a"/><line x1="699.55" y1="858.42" x2="701.73" y2="860.59" stroke="#6a6a6a"/><line x1="739.22" y1="849.6" x2="741.24" y2="851.62" stroke="#5a5a5a"/><line x1="709.07" y1="848.34" x2="710.66" y2="846.74" stroke="#4c4c4c"/><line x1="707.54" y1="857.19" x2="709.23" y2="855.5" stroke="#6a6a6a"/><line x1="716.46" y1="853.36" x2="717.95" y2="851.87" stroke="#4c4c4c"/><line x1="746.23" y1="857.56" x2="748" y2="855.79" stroke="#6a6a6a"/><line x1="638.69" y1="860.3" x2="640.74" y2="858.24" stroke="#7a7a7a"/><line x1="652.78" y1="855.97" x2="654.7" y2="857.89" stroke="#4c4c4c"/><line x1="651.26" y1="846.98" x2="652.69" y2="845.54" stroke="#7a7a7a"/><line x1="594.1" y1="842.24" x2="595.92" y2="844.06" stroke="#4c4c4c"/><line x1="605.22" y1="848.17" x2="607.31" y2="846.08" stroke="#6a6a6a"/><line x1="629.8" y1="857.1" x2="631.66" y2="855.23" stroke="#4c4c4c"/><line x1="623.38" y1="841.39" x2="624.85" y2="842.86" stroke="#7a7a7a"/><line x1="614.36" y1="845.07" x2="616.46" y2="842.96" stroke="#6a6a6a"/><line x1="690.5" y1="862.16" x2="692.51" y2="860.15" stroke="#7a7a7a"/><line x1="693.54" y1="854.76" x2="695.31" y2="852.99" stroke="#6a6a6a"/><line x1="639.8" y1="842.77" x2="641.51" y2="841.06" stroke="#4c4c4c"/><line x1="746.66" y1="849.8" x2="748.38" y2="848.07" stroke="#4c4c4c"/><line x1="663.04" y1="848.46" x2="664.62" y2="850.04" stroke="#7a7a7a"/><line x1="665.24" y1="856.05" x2="666.72" y2="854.57" stroke="#5a5a5a"/><line x1="617.85" y1="853.51" x2="619.53" y2="855.18" stroke="#7a7a7a"/><line x1="642.31" y1="855.52" x2="644.07" y2="853.76" stroke="#6a6a6a"/><line x1="684.02" y1="850.37" x2="685.77" y2="848.62" stroke="#4c4c4c"/><line x1="696.22" y1="864.09" x2="697.99" y2="862.32" stroke="#7a7a7a"/><line x1="679.39" y1="843.09" x2="681.17" y2="841.32" stroke="#6a6a6a"/><line x1="602.86" y1="856.92" x2="604.67" y2="855.11" stroke="#7a7a7a"/><line x1="696.1" y1="848.75" x2="698.29" y2="850.93" stroke="#6a6a6a"/><line x1="591.63" y1="854.49" x2="593.58" y2="852.54" stroke="#4c4c4c"/><line x1="653.6" y1="848.67" x2="655.19" y2="847.07" stroke="#5a5a5a"/><line x1="634.54" y1="852.53" x2="636.31" y2="854.3" stroke="#4c4c4c"/><line x1="746.86" y1="863.11" x2="748.98" y2="860.98" stroke="#4c4c4c"/><line x1="607.9" y1="858.81" x2="609.39" y2="860.3" stroke="#7a7a7a"/><line x1="702.05" y1="841.38" x2="703.52" y2="839.91" stroke="#6a6a6a"/><line x1="661.51" y1="862.59" x2="663.54" y2="864.62" stroke="#6a6a6a"/><line x1="702.03" y1="849.82" x2="703.8" y2="848.05" stroke="#6a6a6a"/><line x1="648.48" y1="849.13" x2="650.63" y2="846.98" stroke="#4c4c4c"/><line x1="650.19" y1="852.29" x2="652.24" y2="854.34" stroke="#7a7a7a"/><line x1="642.44" y1="859.1" x2="644.35" y2="861.01" stroke="#5a5a5a"/><line x1="650.07" y1="855.83" x2="651.9" y2="857.67" stroke="#5a5a5a"/><line x1="745.22" y1="846.81" x2="747.35" y2="848.94" stroke="#6a6a6a"/><line x1="604.32" y1="850.91" x2="606.07" y2="852.67" stroke="#7a7a7a"/><line x1="715.01" y1="845.69" x2="716.61" y2="844.09" stroke="#5a5a5a"/><line x1="704.03" y1="844.06" x2="706.19" y2="846.22" stroke="#4c4c4c"/><line x1="636.68" y1="855.41" x2="638.61" y2="853.48" stroke="#7a7a7a"/><line x1="638.34" y1="853.64" x2="640.27" y2="851.71" stroke="#7a7a7a"/><line x1="612.48" y1="839.33" x2="614.56" y2="841.41" stroke="#4c4c4c"/><line x1="599.22" y1="842.17" x2="600.68" y2="840.71" stroke="#4c4c4c"/><line x1="694.18" y1="847.35" x2="695.99" y2="845.54" stroke="#6a6a6a"/><line x1="682.02" y1="841.08" x2="683.92" y2="842.98" stroke="#6a6a6a"/><line x1="651.22" y1="844.92" x2="653.03" y2="846.73" stroke="#4c4c4c"/><line x1="736.43" y1="844.31" x2="737.93" y2="845.81" stroke="#7a7a7a"/><line x1="720.68" y1="851.01" x2="722.49" y2="849.2" stroke="#5a5a5a"/><line x1="672.2" y1="849.73" x2="673.7" y2="848.23" stroke="#4c4c4c"/><line x1="702.85" y1="840.2" x2="705.03" y2="842.38" stroke="#7a7a7a"/><line x1="693.76" y1="859.9" x2="695.22" y2="861.37" stroke="#5a5a5a"/><line x1="729.52" y1="861.82" x2="730.97" y2="863.26" stroke="#4c4c4c"/><line x1="742.51" y1="849.21" x2="744.38" y2="851.08" stroke="#5a5a5a"/><line x1="732.99" y1="863.03" x2="734.65" y2="864.69" stroke="#6a6a6a"/><line x1="655.28" y1="851.31" x2="656.71" y2="852.75" stroke="#5a5a5a"/><line x1="734.69" y1="840.9" x2="736.37" y2="842.58" stroke="#4c4c4c"/><line x1="728.4" y1="840.03" x2="730.1" y2="841.73" stroke="#7a7a7a"/><line x1="684.53" y1="848.09" x2="686.67" y2="850.23" stroke="#4c4c4c"/><line x1="615.97" y1="854.65" x2="618.01" y2="852.61" stroke="#5a5a5a"/><line x1="706.35" y1="842.03" x2="708.33" y2="844" stroke="#4c4c4c"/><line x1="717.7" y1="842.21" x2="719.83" y2="840.08" stroke="#5a5a5a"/><line x1="613.62" y1="848.79" x2="615.54" y2="846.86" stroke="#4c4c4c"/><line x1="610.92" y1="849.35" x2="612.52" y2="850.94" stroke="#7a7a7a"/><line x1="627.54" y1="849.03" x2="629.44" y2="850.93" stroke="#6a6a6a"/><line x1="657.96" y1="857.22" x2="659.66" y2="855.52" stroke="#6a6a6a"/><line x1="605.43" y1="844.7" x2="607.21" y2="846.49" stroke="#5a5a5a"/><line x1="692" y1="841.97" x2="693.57" y2="843.54" stroke="#7a7a7a"/><line x1="681.57" y1="844.61" x2="682.98" y2="843.2" stroke="#5a5a5a"/><line x1="741.51" y1="840.28" x2="743.54" y2="842.31" stroke="#6a6a6a"/><line x1="636.47" y1="853.89" x2="638.64" y2="851.72" stroke="#4c4c4c"/><line x1="733.26" y1="841.65" x2="735.25" y2="843.63" stroke="#4c4c4c"/><line x1="707.79" y1="851.73" x2="709.69" y2="849.82" stroke="#6a6a6a"/><line x1="667.68" y1="840.7" x2="669.7" y2="838.68" stroke="#7a7a7a"/><line x1="628.12" y1="848.19" x2="629.63" y2="849.7" stroke="#7a7a7a"/><line x1="743.24" y1="856.92" x2="744.77" y2="855.39" stroke="#4c4c4c"/><line x1="747.87" y1="838.49" x2="749.54" y2="840.16" stroke="#4c4c4c"/></g><circle cx="594.44" cy="843.49" r="0.6" fill="#e0e0e0"/><circle cx="600.79" cy="843.19" r="0.6" fill="#e0e0e0"/><circle cx="604.96" cy="843.34" r="0.6" fill="#e0e0e0"/><circle cx="611" cy="842.67" r="0.6" fill="#e0e0e0"/><circle cx="616.41" cy="842.63" r="0.6" fill="#e0e0e0"/><circle cx="622.35" cy="843.44" r="0.6" fill="#e0e0e0"/><circle cx="627.41" cy="842.63" r="0.6" fill="#e0e0e0"/><circle cx="631.82" cy="843.35" r="0.6" fill="#e0e0e0"/><circle cx="637.65" cy="842.69" r="0.6" fill="#e0e0e0"/><circle cx="649.08" cy="843.79" r="0.6" fill="#e0e0e0"/><circle cx="654.33" cy="843.03" r="0.6" fill="#e0e0e0"/><circle cx="664.32" cy="843.63" r="0.6" fill="#e0e0e0"/><circle cx="670.37" cy="842.79" r="0.6" fill="#e0e0e0"/><circle cx="676.05" cy="843.67" r="0.6" fill="#e0e0e0"/><circle cx="680.49" cy="843.22" r="0.6" fill="#e0e0e0"/><circle cx="692.19" cy="843.73" r="0.6" fill="#e0e0e0"/><circle cx="698.12" cy="844.03" r="0.6" fill="#e0e0e0"/><circle cx="703.29" cy="842.73" r="0.6" fill="#e0e0e0"/><circle cx="708.54" cy="843.43" r="0.6" fill="#e0e0e0"/><circle cx="723.87" cy="843.55" r="0.6" fill="#e0e0e0"/><circle cx="729.79" cy="842.94" r="0.6" fill="#e0e0e0"/><circle cx="735.45" cy="843.51" r="0.6" fill="#e0e0e0"/><circle cx="739.9" cy="843.93" r="0.6" fill="#e0e0e0"/><circle cx="746.65" cy="843.48" r="0.6" fill="#e0e0e0"/><circle cx="598.12" cy="848.29" r="0.6" fill="#e0e0e0"/><circle cx="602.16" cy="847.14" r="0.6" fill="#e0e0e0"/><circle cx="608.86" cy="847.72" r="0.6" fill="#e0e0e0"/><circle cx="613.61" cy="848.45" r="0.6" fill="#e0e0e0"/><circle cx="624.02" cy="847.43" r="0.6" fill="#e0e0e0"/><circle cx="629.5" cy="848.52" r="0.6" fill="#e0e0e0"/><circle cx="634.81" cy="847.76" r="0.6" fill="#e0e0e0"/><circle cx="641.31" cy="847.14" r="0.6" fill="#e0e0e0"/><circle cx="645.91" cy="847.16" r="0.6" fill="#e0e0e0"/><circle cx="652.28" cy="848.47" r="0.6" fill="#e0e0e0"/><circle cx="657.5" cy="848.55" r="0.6" fill="#e0e0e0"/><circle cx="667.81" cy="847.92" r="0.6" fill="#e0e0e0"/><circle cx="673.26" cy="848.66" r="0.6" fill="#e0e0e0"/><circle cx="679.14" cy="848.31" r="0.6" fill="#e0e0e0"/><circle cx="684.46" cy="847.56" r="0.6" fill="#e0e0e0"/><circle cx="689.42" cy="848.65" r="0.6" fill="#e0e0e0"/><circle cx="695.26" cy="848.15" r="0.6" fill="#e0e0e0"/><circle cx="705.76" cy="848.52" r="0.6" fill="#e0e0e0"/><circle cx="716.84" cy="848.11" r="0.6" fill="#e0e0e0"/><circle cx="721.21" cy="847.93" r="0.6" fill="#e0e0e0"/><circle cx="737.59" cy="847.48" r="0.6" fill="#e0e0e0"/><circle cx="595.23" cy="852.01" r="0.6" fill="#e0e0e0"/><circle cx="600.96" cy="851.9" r="0.6" fill="#e0e0e0"/><circle cx="605.24" cy="852.91" r="0.6" fill="#e0e0e0"/><circle cx="611.28" cy="852.11" r="0.6" fill="#e0e0e0"/><circle cx="622.07" cy="851.75" r="0.6" fill="#e0e0e0"/><circle cx="633.26" cy="852.89" r="0.6" fill="#e0e0e0"/><circle cx="638.39" cy="852.31" r="0.6" fill="#e0e0e0"/><circle cx="644.02" cy="852.76" r="0.6" fill="#e0e0e0"/><circle cx="648.12" cy="852.74" r="0.6" fill="#e0e0e0"/><circle cx="653.78" cy="851.78" r="0.6" fill="#e0e0e0"/><circle cx="660" cy="852.13" r="0.6" fill="#e0e0e0"/><circle cx="670.88" cy="852.88" r="0.6" fill="#e0e0e0"/><circle cx="675.97" cy="851.92" r="0.6" fill="#e0e0e0"/><circle cx="691.5" cy="851.84" r="0.6" fill="#e0e0e0"/><circle cx="698.16" cy="852.21" r="0.6" fill="#e0e0e0"/><circle cx="702.84" cy="851.76" r="0.6" fill="#e0e0e0"/><circle cx="718.25" cy="853.14" r="0.6" fill="#e0e0e0"/><circle cx="735.93" cy="852.73" r="0.6" fill="#e0e0e0"/><circle cx="741.37" cy="852.82" r="0.6" fill="#e0e0e0"/><circle cx="746.62" cy="852.66" r="0.6" fill="#e0e0e0"/><circle cx="596.74" cy="856.64" r="0.6" fill="#e0e0e0"/><circle cx="607.81" cy="856.41" r="0.6" fill="#e0e0e0"/><circle cx="613.12" cy="857.56" r="0.6" fill="#e0e0e0"/><circle cx="619.55" cy="857.76" r="0.6" fill="#e0e0e0"/><circle cx="629.68" cy="857.57" r="0.6" fill="#e0e0e0"/><circle cx="636" cy="856.84" r="0.6" fill="#e0e0e0"/><circle cx="640.31" cy="857.46" r="0.6" fill="#e0e0e0"/><circle cx="645.98" cy="857.46" r="0.6" fill="#e0e0e0"/><circle cx="656.38" cy="856.64" r="0.6" fill="#e0e0e0"/><circle cx="668.05" cy="857.59" r="0.6" fill="#e0e0e0"/><circle cx="673.09" cy="856.31" r="0.6" fill="#e0e0e0"/><circle cx="678.66" cy="856.72" r="0.6" fill="#e0e0e0"/><circle cx="689.21" cy="857.39" r="0.6" fill="#e0e0e0"/><circle cx="694.96" cy="856.94" r="0.6" fill="#e0e0e0"/><circle cx="699.47" cy="857.34" r="0.6" fill="#e0e0e0"/><circle cx="711.48" cy="857.37" r="0.6" fill="#e0e0e0"/><circle cx="727.15" cy="856.56" r="0.6" fill="#e0e0e0"/><circle cx="731.84" cy="856.48" r="0.6" fill="#e0e0e0"/><circle cx="737.57" cy="857.2" r="0.6" fill="#e0e0e0"/><circle cx="595.43" cy="862.23" r="0.6" fill="#e0e0e0"/><circle cx="600.34" cy="861.22" r="0.6" fill="#e0e0e0"/><circle cx="605.15" cy="861.23" r="0.6" fill="#e0e0e0"/><circle cx="610.24" cy="862.19" r="0.6" fill="#e0e0e0"/><circle cx="626.44" cy="862.27" r="0.6" fill="#e0e0e0"/><circle cx="632.35" cy="862.02" r="0.6" fill="#e0e0e0"/><circle cx="637.73" cy="861.14" r="0.6" fill="#e0e0e0"/><circle cx="643.74" cy="862.35" r="0.6" fill="#e0e0e0"/><circle cx="648.36" cy="861.74" r="0.6" fill="#e0e0e0"/><circle cx="654.18" cy="861.7" r="0.6" fill="#e0e0e0"/><circle cx="658.99" cy="861.57" r="0.6" fill="#e0e0e0"/><circle cx="670.46" cy="862.2" r="0.6" fill="#e0e0e0"/><circle cx="675.55" cy="862.39" r="0.6" fill="#e0e0e0"/><circle cx="691.97" cy="861.62" r="0.6" fill="#e0e0e0"/><circle cx="702.88" cy="861.72" r="0.6" fill="#e0e0e0"/><circle cx="713.01" cy="861.18" r="0.6" fill="#e0e0e0"/><circle cx="718.35" cy="862.46" r="0.6" fill="#e0e0e0"/><circle cx="724.88" cy="861.63" r="0.6" fill="#e0e0e0"/><circle cx="729.36" cy="862.33" r="0.6" fill="#e0e0e0"/><circle cx="735.05" cy="862.09" r="0.6" fill="#e0e0e0"/></g><g clip-path="url(#c22)" stroke="#262626" stroke-width="1.15"><line x1="597.5" y1="764.17" x2="643.6" y2="748.5"/><line x1="597.5" y1="769.17" x2="643.6" y2="753.5"/><line x1="597.5" y1="779.67" x2="643.6" y2="764"/><line x1="597.5" y1="784.67" x2="643.6" y2="769"/><line x1="597.5" y1="795.17" x2="643.6" y2="779.5"/><line x1="597.5" y1="800.17" x2="643.6" y2="784.5"/><line x1="597.5" y1="810.67" x2="643.6" y2="795"/><line x1="597.5" y1="815.67" x2="643.6" y2="800"/><line x1="597.5" y1="826.17" x2="643.6" y2="810.5"/><line x1="597.5" y1="831.17" x2="643.6" y2="815.5"/><line x1="597.5" y1="841.67" x2="643.6" y2="826"/><line x1="597.5" y1="846.67" x2="643.6" y2="831"/><line x1="597.5" y1="857.17" x2="643.6" y2="841.5"/><line x1="597.5" y1="862.17" x2="643.6" y2="846.5"/><line x1="597.5" y1="872.67" x2="643.6" y2="857"/><line x1="597.5" y1="877.67" x2="643.6" y2="862"/><line x1="597.5" y1="888.17" x2="643.6" y2="872.5"/><line x1="597.5" y1="893.17" x2="643.6" y2="877.5"/><line x1="597.5" y1="903.67" x2="643.6" y2="888"/><line x1="597.5" y1="908.67" x2="643.6" y2="893"/><line x1="597.5" y1="919.17" x2="643.6" y2="903.5"/><line x1="597.5" y1="924.17" x2="643.6" y2="908.5"/><line x1="597.5" y1="934.67" x2="643.6" y2="919"/><line x1="597.5" y1="939.67" x2="643.6" y2="924"/></g><g clip-path="url(#c23)" stroke="#262626" stroke-width="1.15"><line x1="643.6" y1="733" x2="745" y2="767.48"/><line x1="643.6" y1="738" x2="745" y2="772.48"/><line x1="643.6" y1="748.5" x2="745" y2="782.98"/><line x1="643.6" y1="753.5" x2="745" y2="787.98"/><line x1="643.6" y1="764" x2="745" y2="798.48"/><line x1="643.6" y1="769" x2="745" y2="803.48"/><line x1="643.6" y1="779.5" x2="745" y2="813.98"/><line x1="643.6" y1="784.5" x2="745" y2="818.98"/><line x1="643.6" y1="795" x2="745" y2="829.48"/><line x1="643.6" y1="800" x2="745" y2="834.48"/><line x1="643.6" y1="810.5" x2="745" y2="844.98"/><line x1="643.6" y1="815.5" x2="745" y2="849.98"/><line x1="643.6" y1="826" x2="745" y2="860.48"/><line x1="643.6" y1="831" x2="745" y2="865.48"/><line x1="643.6" y1="841.5" x2="745" y2="875.98"/><line x1="643.6" y1="846.5" x2="745" y2="880.98"/><line x1="643.6" y1="857" x2="745" y2="891.48"/><line x1="643.6" y1="862" x2="745" y2="896.48"/><line x1="643.6" y1="872.5" x2="745" y2="906.98"/><line x1="643.6" y1="877.5" x2="745" y2="911.98"/><line x1="643.6" y1="888" x2="745" y2="922.48"/><line x1="643.6" y1="893" x2="745" y2="927.48"/><line x1="643.6" y1="903.5" x2="745" y2="937.98"/><line x1="643.6" y1="908.5" x2="745" y2="942.98"/><line x1="643.6" y1="919" x2="745" y2="953.48"/><line x1="643.6" y1="924" x2="745" y2="958.48"/><line x1="643.6" y1="934.5" x2="745" y2="968.98"/><line x1="643.6" y1="939.5" x2="745" y2="973.98"/></g><polygon points="660.7,812 745,812 745,839 665.5,817.2" fill="#fff"/><polygon points="668,814 665.5,817.2 743.4,837 745,841.3 748,841.3 748,814" fill="#fff"/><line x1="693.5" y1="826" x2="693.5" y2="841.3" stroke="#1e1e1e" stroke-width="1.1" /><path d="M595.9,842 L595.9,821 L658.9,821 L658.9,832" fill="none" stroke="#2a2a2a" stroke-width="3.4"/><path d="M665.5,817.2 L741,836 Q746,838 746,842" fill="none" stroke="#1e1e1e" stroke-width="2.6"/><line x1="643.5" y1="820.4" x2="643.5" y2="841.3" stroke="#1e1e1e" stroke-width="1.1" /><rect x="736" y="837" width="11" height="5" fill="#1a1a1a"/><line x1="593.5" y1="62" x2="593.5" y2="147.6" stroke="#1c1c1c" stroke-width="1.2" /><line x1="739.5" y1="62" x2="739.5" y2="147.6" stroke="#1c1c1c" stroke-width="1.2" /><line x1="593.4" y1="78.5" x2="739.6" y2="78.5" stroke="#1c1c1c" stroke-width="1.2" /><line x1="589.51" y1="82.19" x2="597.29" y2="74.41" stroke="#4a4a4a" stroke-width="1.4" /><line x1="735.71" y1="82.19" x2="743.49" y2="74.41" stroke="#4a4a4a" stroke-width="1.4" /><text x="666.7" y="73.8" font-size="22.5" text-anchor="middle" fill="#2a2a2a" textLength="23.36" lengthAdjust="spacingAndGlyphs">95</text><line x1="477" y1="190.5" x2="593.3" y2="190.5" stroke="#1c1c1c" stroke-width="1.2" /><line x1="492.5" y1="150.4" x2="492.5" y2="190.4" stroke="#1c1c1c" stroke-width="1.2" /><line x1="492.4" y1="150.5" x2="514.7" y2="150.5" stroke="#1c1c1c" stroke-width="1.2" /><line x1="488.51" y1="158.51" x2="496.29" y2="166.29" stroke="#4a4a4a" stroke-width="1.4" /><line x1="488.51" y1="186.51" x2="496.29" y2="194.29" stroke="#4a4a4a" stroke-width="1.4" /><text x="505" y="145.7" font-size="22.5" text-anchor="middle" fill="#2a2a2a" textLength="23.36" lengthAdjust="spacingAndGlyphs">18</text><line x1="739.7" y1="190.5" x2="853.6" y2="190.5" stroke="#1c1c1c" stroke-width="1.2" /><line x1="727" y1="282.5" x2="799.7" y2="282.5" stroke="#1c1c1c" stroke-width="1.2" /><line x1="784.5" y1="190.3" x2="784.5" y2="816.2" stroke="#1c1c1c" stroke-width="1.2" /><line x1="780.51" y1="186.41" x2="788.29" y2="194.19" stroke="#4a4a4a" stroke-width="1.4" /><line x1="780.51" y1="278.71" x2="788.29" y2="286.49" stroke="#4a4a4a" stroke-width="1.4" /><line x1="780.51" y1="812.31" x2="788.29" y2="820.09" stroke="#4a4a4a" stroke-width="1.4" /><line x1="838.5" y1="190.3" x2="838.5" y2="890.3" stroke="#1c1c1c" stroke-width="1.2" /><line x1="816.8" y1="890.5" x2="838.4" y2="890.5" stroke="#1c1c1c" stroke-width="1.2" /><line x1="834.51" y1="186.41" x2="842.29" y2="194.19" stroke="#4a4a4a" stroke-width="1.4" /><line x1="834.51" y1="840.41" x2="842.29" y2="848.19" stroke="#4a4a4a" stroke-width="1.4" /><line x1="834.51" y1="858.51" x2="842.29" y2="866.29" stroke="#4a4a4a" stroke-width="1.4" /><text x="781.3" y="236.7" font-size="22.5" text-anchor="middle" fill="#2a2a2a" textLength="23.36" lengthAdjust="spacingAndGlyphs" transform="rotate(-90 781.3 236.7)">60</text><text x="781.6" y="549.7" font-size="21" text-anchor="middle" fill="#2a2a2a" textLength="10" lengthAdjust="spacingAndGlyphs" transform="rotate(-90 781.6 549.7)" stroke="#2a2a2a" stroke-width="0.45">E</text><text x="834.4" y="517.2" font-size="21" text-anchor="middle" fill="#2a2a2a" transform="rotate(-90 834.4 517.2)">C</text><line x1="681.2" y1="816.5" x2="799.8" y2="816.5" stroke="#1c1c1c" stroke-width="1.2" /><line x1="748" y1="844.5" x2="853.1" y2="844.5" stroke="#1c1c1c" stroke-width="1.2" /><line x1="794" y1="862.5" x2="853" y2="862.5" stroke="#1c1c1c" stroke-width="1.2" /><text x="826.2" y="887.3" font-size="22.5" text-anchor="middle" fill="#2a2a2a" textLength="23.36" lengthAdjust="spacingAndGlyphs">12</text><line x1="749.5" y1="799.1" x2="749.5" y2="841" stroke="#1c1c1c" stroke-width="1.2" /><line x1="749.5" y1="799.5" x2="771.8" y2="799.5" stroke="#1c1c1c" stroke-width="1.2" /><line x1="745.61" y1="812.31" x2="753.39" y2="820.09" stroke="#4a4a4a" stroke-width="1.4" /><line x1="745.61" y1="837.11" x2="753.39" y2="844.89" stroke="#4a4a4a" stroke-width="1.4" /><text x="762" y="794.6" font-size="22.5" text-anchor="middle" fill="#2a2a2a" textLength="23.36" lengthAdjust="spacingAndGlyphs">18</text><line x1="476.3" y1="245.5" x2="554" y2="245.5" stroke="#1c1c1c" stroke-width="1.2" /><line x1="476.2" y1="833.5" x2="554" y2="833.5" stroke="#1c1c1c" stroke-width="1.2" /><line x1="492.5" y1="245.3" x2="492.5" y2="833.6" stroke="#1c1c1c" stroke-width="1.2" /><line x1="488.51" y1="241.41" x2="496.29" y2="249.19" stroke="#4a4a4a" stroke-width="1.4" /><line x1="488.51" y1="829.71" x2="496.29" y2="837.49" stroke="#4a4a4a" stroke-width="1.4" /><text x="486.6" y="541" font-size="22" text-anchor="middle" fill="#3a3a3a" textLength="191" lengthAdjust="spacingAndGlyphs" transform="rotate(-90 486.6 541)">″90E″,″100E″ - 2035</text><line x1="553" y1="518.5" x2="700" y2="518.5" stroke="#1c1c1c" stroke-width="1.2" /><line x1="549.81" y1="522.69" x2="557.59" y2="514.91" stroke="#4a4a4a" stroke-width="1.4" /><line x1="655.31" y1="522.69" x2="663.09" y2="514.91" stroke="#4a4a4a" stroke-width="1.4" /><text x="685.2" y="514.6" font-size="22.5" text-anchor="middle" fill="#2a2a2a" textLength="23.36" lengthAdjust="spacingAndGlyphs">68</text><line x1="525.5" y1="841" x2="525.5" y2="818.6" stroke="#1c1c1c" stroke-width="1.2" /><line x1="525" y1="818.5" x2="539" y2="818.5" stroke="#1c1c1c" stroke-width="1.2" /><line x1="521.11" y1="829.71" x2="528.89" y2="837.49" stroke="#4a4a4a" stroke-width="1.4" /><line x1="521.11" y1="837.11" x2="528.89" y2="844.89" stroke="#4a4a4a" stroke-width="1.4" /><text x="534" y="813.6" font-size="22.5" text-anchor="middle" fill="#2a2a2a" textLength="11.68" lengthAdjust="spacingAndGlyphs">5</text><line x1="387.5" y1="841.5" x2="410" y2="841.5" stroke="#555" stroke-width="1.2" /><line x1="387.5" y1="862.5" x2="410" y2="862.5" stroke="#444" stroke-width="1.2" /><line x1="402.5" y1="833.4" x2="402.5" y2="862.6" stroke="#1c1c1c" stroke-width="1.2" /><line x1="402.4" y1="833.5" x2="424.8" y2="833.5" stroke="#1c1c1c" stroke-width="1.2" /><line x1="398.51" y1="837.91" x2="406.29" y2="845.69" stroke="#4a4a4a" stroke-width="1.4" /><line x1="398.51" y1="858.71" x2="406.29" y2="866.49" stroke="#4a4a4a" stroke-width="1.4" /><text x="415.8" y="829.7" font-size="22.5" text-anchor="middle" fill="#2a2a2a" textLength="23.36" lengthAdjust="spacingAndGlyphs">14</text><line x1="593.5" y1="841" x2="593.5" y2="950.5" stroke="#1c1c1c" stroke-width="1.2" /><line x1="746.5" y1="841" x2="746.5" y2="950.5" stroke="#1c1c1c" stroke-width="1.2" /><line x1="593.5" y1="935.5" x2="746.8" y2="935.5" stroke="#1c1c1c" stroke-width="1.2" /><line x1="589.61" y1="939.49" x2="597.39" y2="931.71" stroke="#4a4a4a" stroke-width="1.4" /><line x1="742.91" y1="939.49" x2="750.69" y2="931.71" stroke="#4a4a4a" stroke-width="1.4" /><text x="670" y="931.2" font-size="22.5" text-anchor="middle" fill="#2a2a2a" textLength="35.04" lengthAdjust="spacingAndGlyphs">100</text><line x1="246" y1="249.5" x2="459.3" y2="249.5" stroke="#262626" stroke-width="1.25" /><line x1="459.3" y1="249.8" x2="534.9" y2="174" stroke="#4a4a4a" stroke-width="1.05"  stroke-linecap="round"/><line x1="246" y1="290.5" x2="479" y2="290.5" stroke="#262626" stroke-width="1.25" /><line x1="479" y1="290" x2="592.9" y2="176.1" stroke="#4a4a4a" stroke-width="1.05"  stroke-linecap="round"/><line x1="246" y1="362.5" x2="478.4" y2="362.5" stroke="#262626" stroke-width="1.25" /><line x1="478.4" y1="362.6" x2="638.6" y2="202.9" stroke="#4a4a4a" stroke-width="1.05"  stroke-linecap="round"/><line x1="246.2" y1="762.5" x2="443.1" y2="762.5" stroke="#262626" stroke-width="1.25" /><line x1="443.1" y1="762.8" x2="525.3" y2="841" stroke="#4a4a4a" stroke-width="1.05"  stroke-linecap="round"/><line x1="246.2" y1="804.5" x2="423.7" y2="804.5" stroke="#262626" stroke-width="1.25" /><line x1="423.7" y1="804.3" x2="482" y2="862.5" stroke="#4a4a4a" stroke-width="1.05"  stroke-linecap="round"/><text x="245.9" y="218.9" font-size="21" text-anchor="start" fill="#3a3a3a">luz</text><text x="245.9" y="242.2" font-size="21" text-anchor="start" fill="#3a3a3a">montażowy</text><text x="246" y="284.6" font-size="21" text-anchor="start" fill="#3a3a3a">mur</text><text x="246" y="334.2" font-size="21" text-anchor="start" fill="#3a3a3a">pianka</text><text x="246" y="357.4" font-size="21" text-anchor="start" fill="#3a3a3a">montażowa</text><text x="246.2" y="755.2" font-size="21" text-anchor="start" fill="#3a3a3a">posadzka</text><text x="246.2" y="795.2" font-size="21" text-anchor="start" fill="#3a3a3a">wylewka</text></svg></body></html>
